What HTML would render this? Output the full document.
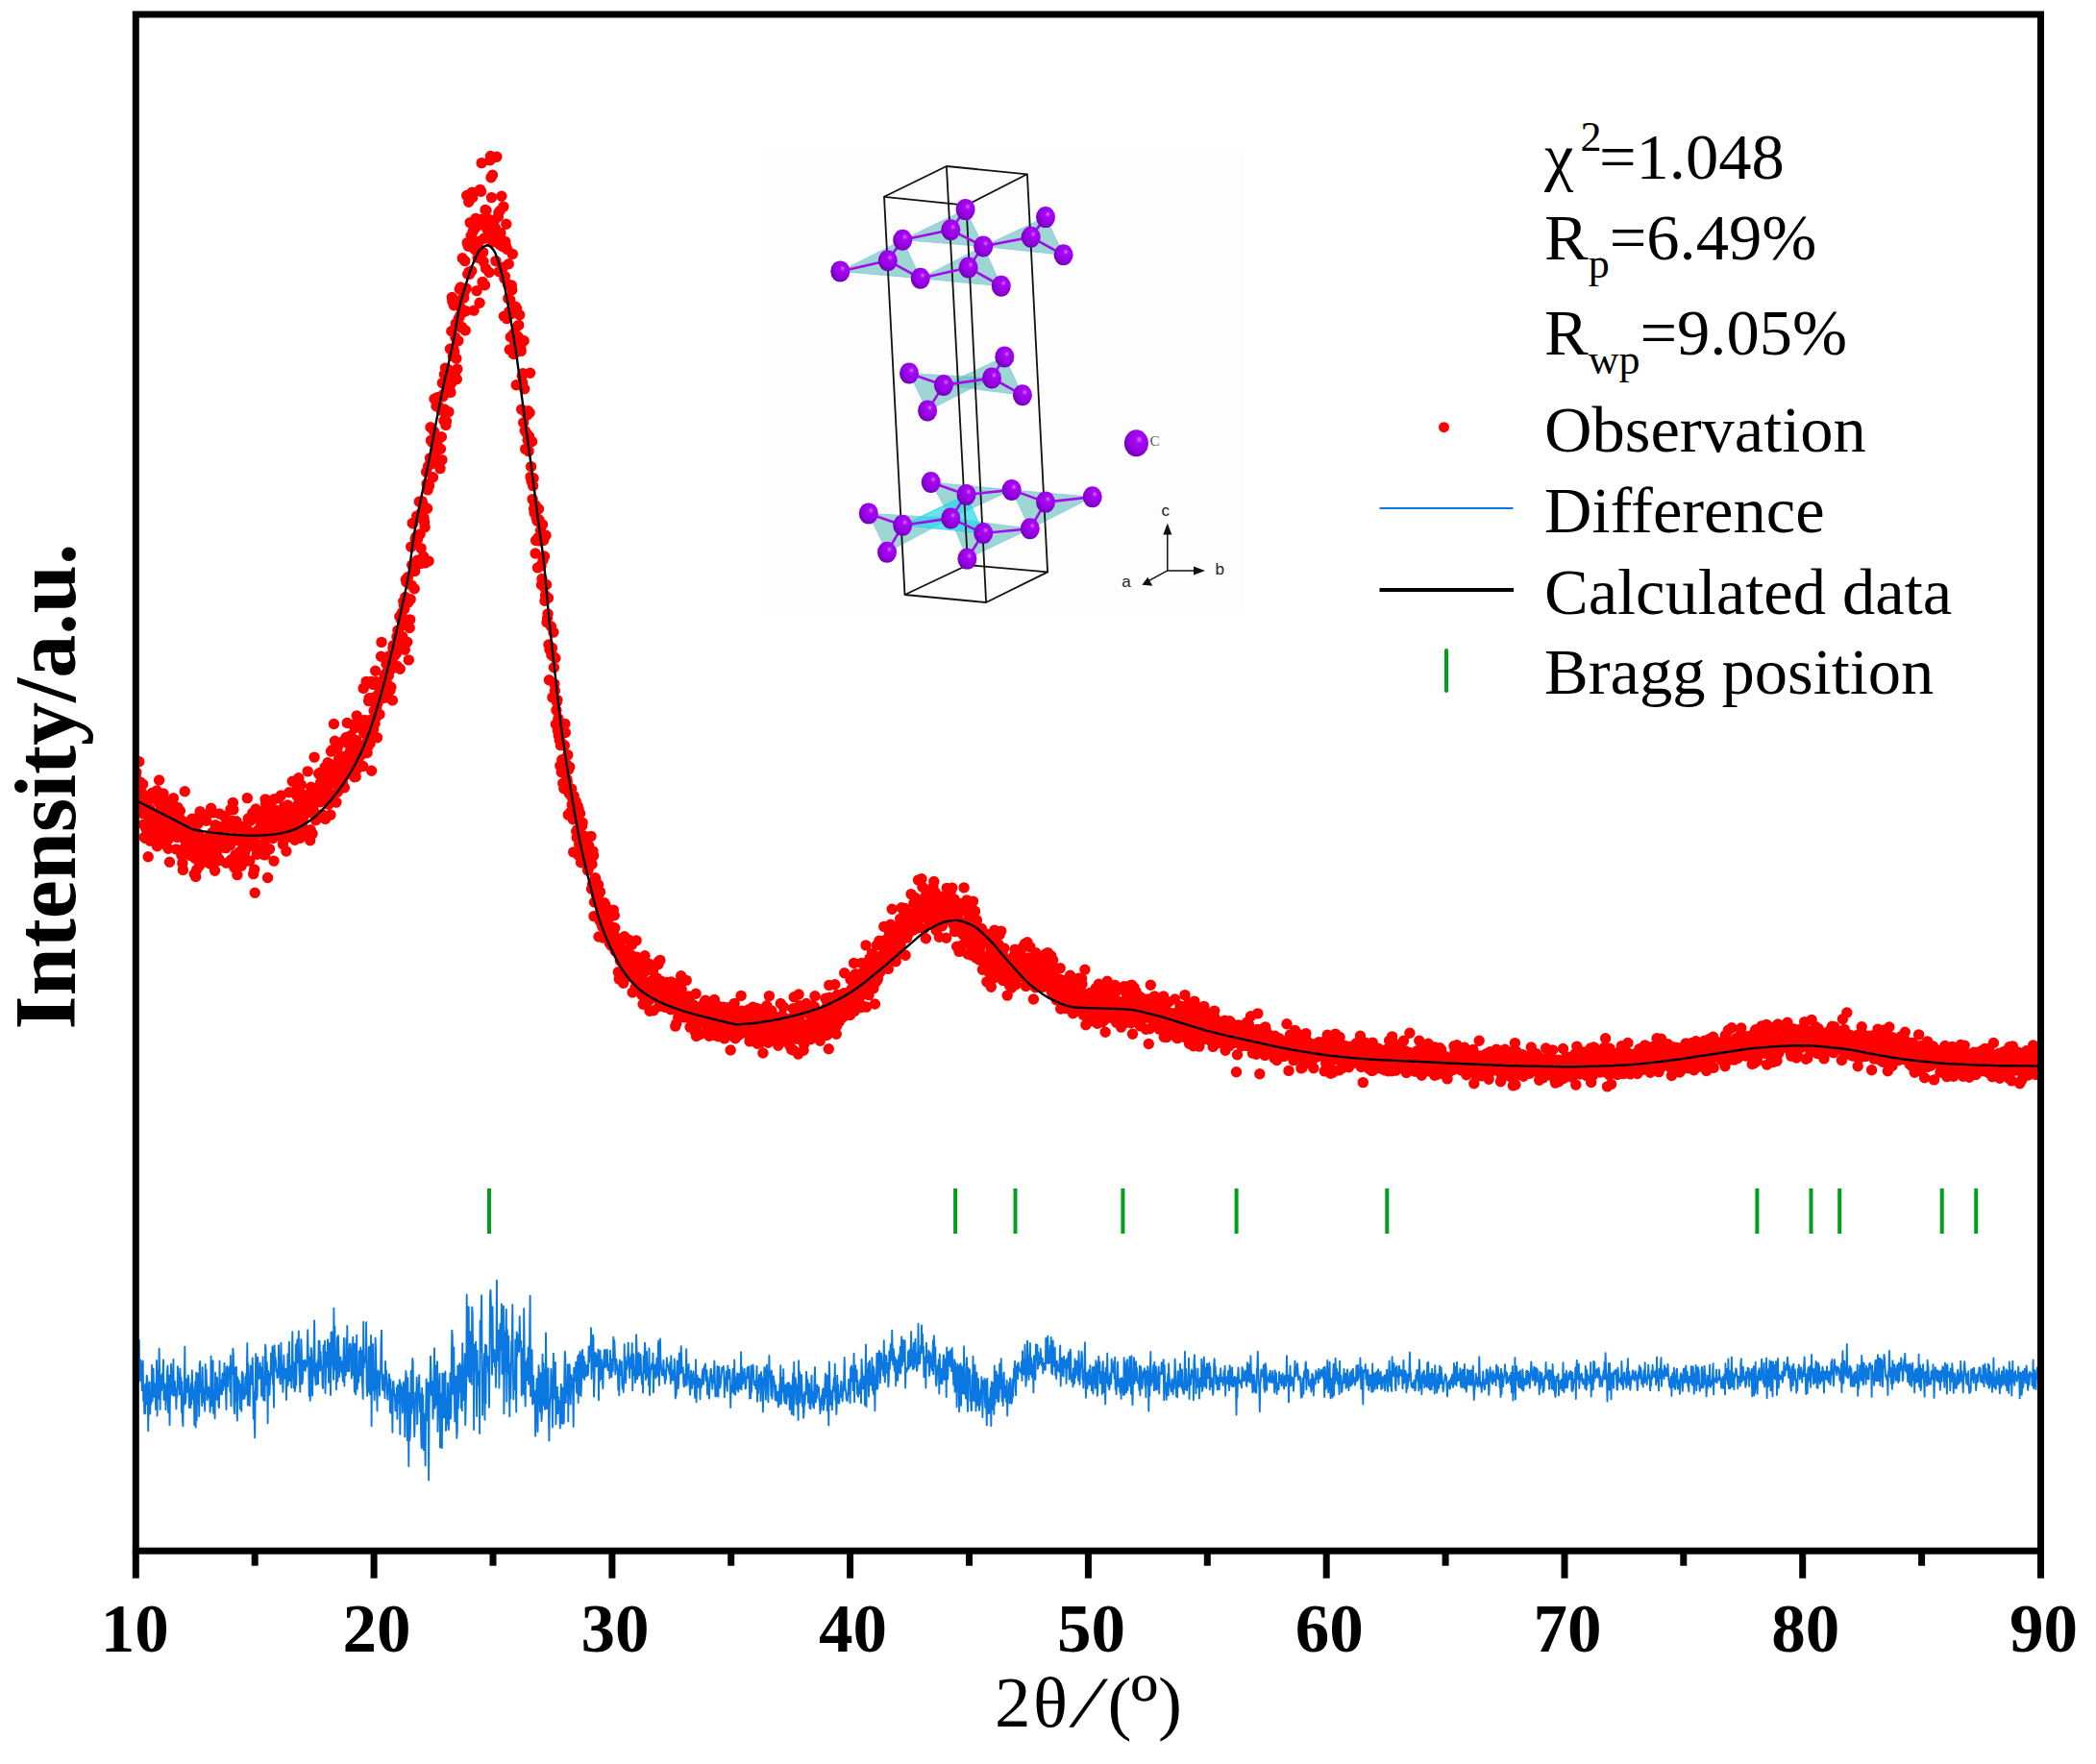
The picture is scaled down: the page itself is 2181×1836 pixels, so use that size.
<!DOCTYPE html>
<html><head><meta charset="utf-8"><title>XRD Rietveld refinement</title>
<style>
html,body{margin:0;padding:0;background:#fff;}
body{width:2181px;height:1836px;overflow:hidden;}
svg{display:block;}
text{font-family:"Liberation Serif",serif;fill:#000;}
.tl text{font-weight:bold;font-size:71px;}
.lg text{font-size:68.5px;}
text.insC{font-size:15px;fill:#555;}
text.insA{font-family:"Liberation Sans",sans-serif;font-size:17px;fill:#222;}
</style></head><body>
<svg width="2181" height="1836" viewBox="0 0 2181 1836">
<defs><clipPath id="pc"><rect x="141.3" y="15.0" width="1982.2" height="1599.2"/></clipPath><radialGradient id="atom" cx="0.62" cy="0.36" r="0.75"><stop offset="0" stop-color="#e070ff"/><stop offset="0.18" stop-color="#a808f4"/><stop offset="0.6" stop-color="#9400e0"/><stop offset="1" stop-color="#5c00a4"/></radialGradient></defs>
<rect width="2181" height="1836" fill="#fff"/>
<g id="inset"><rect x="790" y="155" width="504" height="483" fill="#fdfdfd"/><g fill="#5fbdb8" fill-opacity="0.6" stroke="#7fc8e8" stroke-width="0.8"><polygon points="874.3,282.4 939.2,249.7 957.7,289.7"/><polygon points="939.2,249.7 1004.6,218.1 1023.2,256.4"/><polygon points="957.7,289.7 1023.2,256.4 1041.8,297.7"/><polygon points="1023.2,256.4 1088,226.1 1106.6,265.3"/><polygon points="946,388.5 965.1,427.4 1032,393.5"/><polygon points="981.9,400.9 1045.3,371.4 1063.9,411.2"/><polygon points="968.7,502 1052.7,509.9 989.3,539.4"/><polygon points="1052.7,509.9 1136.7,517.3 1071.8,550.3"/><polygon points="1071.8,550.3 989.3,539.4 1006.4,581.6"/><polygon points="989.3,539.4 903.8,534.4 923,574.8"/></g><g fill="#22d8e8" fill-opacity="0.7" stroke="#30d0f0" stroke-width="0.8"><polygon points="1005.5,514.9 1023.2,555 939.2,546.8"/></g><g stroke="#111" stroke-width="1.8" fill="none" stroke-linejoin="round"><polygon points="920,204.8 984.9,173 1068.9,181.3 1005.5,213.7"/><polygon points="941.5,619 1007,588 1090.1,595.4 1026.1,627"/><line x1="920" y1="204.8" x2="941.5" y2="619"/><line x1="984.9" y1="173" x2="1007" y2="588"/><line x1="1068.9" y1="181.3" x2="1090.1" y2="595.4"/><line x1="1005.5" y1="213.7" x2="1026.1" y2="627"/></g><g stroke="#a408ee" stroke-width="2.6" stroke-linecap="round"><line x1="874.3" y1="282.4" x2="923.8" y2="271.2"/><line x1="923.8" y1="271.2" x2="939.2" y2="249.7"/><line x1="923.8" y1="271.2" x2="957.7" y2="289.7"/><line x1="939.2" y1="249.7" x2="989.3" y2="239.3"/><line x1="989.3" y1="239.3" x2="1004.6" y2="218.1"/><line x1="989.3" y1="239.3" x2="1023.2" y2="256.4"/><line x1="957.7" y1="289.7" x2="1007.6" y2="278.5"/><line x1="1007.6" y1="278.5" x2="1023.2" y2="256.4"/><line x1="1007.6" y1="278.5" x2="1041.8" y2="297.7"/><line x1="1023.2" y1="256.4" x2="1072.7" y2="246.7"/><line x1="1072.7" y1="246.7" x2="1088" y2="226.1"/><line x1="1072.7" y1="246.7" x2="1106.6" y2="265.3"/><line x1="946" y1="388.5" x2="981.9" y2="400.9"/><line x1="981.9" y1="400.9" x2="965.1" y2="427.4"/><line x1="981.9" y1="400.9" x2="1032" y2="393.5"/><line x1="1032" y1="393.5" x2="1045.3" y2="371.4"/><line x1="1032" y1="393.5" x2="1063.9" y2="411.2"/><line x1="968.7" y1="502" x2="1005.5" y2="514.9"/><line x1="1005.5" y1="514.9" x2="1052.7" y2="509.9"/><line x1="1005.5" y1="514.9" x2="989.3" y2="539.4"/><line x1="1052.7" y1="509.9" x2="1088" y2="522.6"/><line x1="1088" y1="522.6" x2="1136.7" y2="517.3"/><line x1="1088" y1="522.6" x2="1071.8" y2="550.3"/><line x1="1071.8" y1="550.3" x2="1023.2" y2="555"/><line x1="1023.2" y1="555" x2="989.3" y2="539.4"/><line x1="1023.2" y1="555" x2="1006.4" y2="581.6"/><line x1="989.3" y1="539.4" x2="939.2" y2="546.8"/><line x1="939.2" y1="546.8" x2="903.8" y2="534.4"/><line x1="939.2" y1="546.8" x2="923" y2="574.8"/></g><g fill="url(#atom)"><ellipse cx="874.3" cy="282.4" rx="10" ry="11"/><ellipse cx="923.8" cy="271.2" rx="10" ry="11"/><ellipse cx="939.2" cy="249.7" rx="10" ry="11"/><ellipse cx="957.7" cy="289.7" rx="10" ry="11"/><ellipse cx="989.3" cy="239.3" rx="10" ry="11"/><ellipse cx="1004.6" cy="218.1" rx="10" ry="11"/><ellipse cx="1023.2" cy="256.4" rx="10" ry="11"/><ellipse cx="1007.6" cy="278.5" rx="10" ry="11"/><ellipse cx="1041.8" cy="297.7" rx="10" ry="11"/><ellipse cx="1072.7" cy="246.7" rx="10" ry="11"/><ellipse cx="1088" cy="226.1" rx="10" ry="11"/><ellipse cx="1106.6" cy="265.3" rx="10" ry="11"/><ellipse cx="946" cy="388.5" rx="10" ry="11"/><ellipse cx="981.9" cy="400.9" rx="10" ry="11"/><ellipse cx="965.1" cy="427.4" rx="10" ry="11"/><ellipse cx="1032" cy="393.5" rx="10" ry="11"/><ellipse cx="1045.3" cy="371.4" rx="10" ry="11"/><ellipse cx="1063.9" cy="411.2" rx="10" ry="11"/><ellipse cx="968.7" cy="502" rx="10" ry="11"/><ellipse cx="1005.5" cy="514.9" rx="10" ry="11"/><ellipse cx="1052.7" cy="509.9" rx="10" ry="11"/><ellipse cx="1088" cy="522.6" rx="10" ry="11"/><ellipse cx="1136.7" cy="517.3" rx="10" ry="11"/><ellipse cx="1071.8" cy="550.3" rx="10" ry="11"/><ellipse cx="1023.2" cy="555" rx="10" ry="11"/><ellipse cx="989.3" cy="539.4" rx="10" ry="11"/><ellipse cx="939.2" cy="546.8" rx="10" ry="11"/><ellipse cx="903.8" cy="534.4" rx="10" ry="11"/><ellipse cx="923" cy="574.8" rx="10" ry="11"/><ellipse cx="1006.4" cy="581.6" rx="10" ry="11"/><ellipse cx="1182.4" cy="461.3" rx="12.5" ry="14"/></g><text x="1201.5" y="464.2" class="insC" text-anchor="middle">C</text><g stroke="#111" stroke-width="1.5" fill="#111"><line x1="1214.8" y1="593.9" x2="1214.8" y2="550.4"/><line x1="1214.8" y1="593.9" x2="1248" y2="593.9"/><line x1="1214.8" y1="593.9" x2="1193.3" y2="605.7"/><polygon stroke="none" points="1214.8,544.4 1210.3,556.4 1219.3,556.4"/><polygon stroke="none" points="1254,593.9 1242,589.4 1242,598.4"/><polygon stroke="none" points="1188.3,608.7 1194.3,600.7 1199.3,609.7"/></g><text x="1212.7" y="536.5" class="insA" text-anchor="middle">c</text><text x="1269.3" y="597.5" class="insA" text-anchor="middle">b</text><text x="1172" y="610.7" class="insA" text-anchor="middle">a</text></g>
<g clip-path="url(#pc)"><path d="M141.3 807.9h0M141.8 803.7h0M142.3 816.9h0M142.8 831h0M143.3 823.9h0M143.8 836.4h0M144.3 816.9h0M144.8 792.7h0M145.3 831h0M145.8 835h0M146.3 814.2h0M146.8 818.2h0M147.2 824.5h0M147.7 846.4h0M148.2 829.5h0M148.7 816.2h0M149.2 858h0M149.7 841.5h0M150.2 871.4h0M150.7 860.3h0M151.2 872.4h0M151.7 841.4h0M152.2 863h0M152.7 833.4h0M153.2 836.7h0M153.7 844.4h0M154.2 891.7h0M154.7 853.2h0M155.2 844.2h0M155.7 841.7h0M156.2 875.1h0M156.7 854.7h0M157.2 865.2h0M157.7 862.3h0M158.1 825.5h0M158.6 862.9h0M159.1 847.9h0M159.6 830h0M160.1 859.5h0M160.6 850.5h0M161.1 846.4h0M161.6 847.6h0M162.1 873.5h0M162.6 848.1h0M163.1 823h0M163.6 880.8h0M164.1 833.6h0M164.6 848.5h0M165.1 863.8h0M165.6 812h0M166.1 836.8h0M166.6 875.8h0M167.1 851h0M167.6 841.4h0M168.1 856.8h0M168.6 839.9h0M169.1 855h0M169.5 840.9h0M170 826h0M170.5 867.9h0M171 850.9h0M171.5 864.3h0M172 853h0M172.5 879.1h0M173 867.5h0M173.5 860.3h0M174 839.1h0M174.5 834.6h0M175 883.2h0M175.5 873.2h0M176 845.3h0M176.5 897.2h0M177 867.5h0M177.5 860.7h0M178 834.5h0M178.5 845.9h0M179 866h0M179.5 867.1h0M180 865.1h0M180.4 830.8h0M180.9 869.1h0M181.4 867h0M181.9 854.5h0M182.4 864h0M182.9 865.8h0M183.4 883.9h0M183.9 862.7h0M184.4 871.4h0M184.9 840.4h0M185.4 850.6h0M185.9 864h0M186.4 850.9h0M186.9 870.7h0M187.4 844h0M187.9 864.8h0M188.4 853.6h0M188.9 890.2h0M189.4 858.8h0M189.9 898.4h0M190.4 905.4h0M190.9 872.2h0M191.4 883.9h0M191.8 863.6h0M192.3 823.8h0M192.8 883.4h0M193.3 879.6h0M193.8 863.9h0M194.3 858.6h0M194.8 871.8h0M195.3 872.6h0M195.8 855.4h0M196.3 859.2h0M196.8 889.3h0M197.3 871.2h0M197.8 869.3h0M198.3 890.4h0M198.8 865.5h0M199.3 887.2h0M199.8 852.3h0M200.3 867.5h0M200.8 869.6h0M201.3 882.7h0M201.8 873.7h0M202.3 909.8h0M202.7 893.3h0M203.2 864.7h0M203.7 912.5h0M204.2 855.6h0M204.7 905.3h0M205.2 857.4h0M205.7 888.1h0M206.2 857.1h0M206.7 869.6h0M207.2 901.5h0M207.7 848.3h0M208.2 844.6h0M208.7 873.5h0M209.2 877.5h0M209.7 875.4h0M210.2 891h0M210.7 851.4h0M211.2 882.8h0M211.7 873.4h0M212.2 887.7h0M212.7 884.5h0M213.2 897h0M213.7 848.6h0M214.1 875.5h0M214.6 854.2h0M215.1 872.4h0M215.6 885.9h0M216.1 878.9h0M216.6 883.4h0M217.1 872.5h0M217.6 879.9h0M218.1 878.4h0M218.6 899h0M219.1 888.1h0M219.6 841.2h0M220.1 885.5h0M220.6 892.8h0M221.1 866.3h0M221.6 845.9h0M222.1 900.4h0M222.6 876.6h0M223.1 884.7h0M223.6 906.2h0M224.1 858.6h0M224.6 873h0M225 871.2h0M225.5 886.9h0M226 863.9h0M226.5 882.8h0M227 875.2h0M227.5 893.6h0M228 895.6h0M228.5 847h0M229 882h0M229.5 866.8h0M230 872.9h0M230.5 880.6h0M231 881.9h0M231.5 860.2h0M232 877.9h0M232.5 875h0M233 871.6h0M233.5 849.6h0M234 859h0M234.5 864.6h0M235 882.6h0M235.5 898.1h0M236 853.7h0M236.4 853.3h0M236.9 874.3h0M237.4 861.3h0M237.9 856.7h0M238.4 855.7h0M238.9 853.9h0M239.4 880h0M239.9 842.5h0M240.4 895h0M240.9 854.9h0M241.4 861.8h0M241.9 854.5h0M242.4 835.4h0M242.9 842.8h0M243.4 892.7h0M243.9 903h0M244.4 855.3h0M244.9 890h0M245.4 870.9h0M245.9 854.7h0M246.4 901.8h0M246.9 910.6h0M247.3 865.5h0M247.8 869.6h0M248.3 875h0M248.8 869.5h0M249.3 886.5h0M249.8 898.9h0M250.3 873.2h0M250.8 888.4h0M251.3 901.1h0M251.8 860.3h0M252.3 871h0M252.8 862h0M253.3 888.4h0M253.8 882.1h0M254.3 888.4h0M254.8 886.2h0M255.3 865.6h0M255.8 884.1h0M256.3 862.4h0M256.8 862.7h0M257.3 830.6h0M257.8 895.4h0M258.2 852h0M258.7 870.5h0M259.2 868.9h0M259.7 896.1h0M260.2 877.2h0M260.7 854.3h0M261.2 869.9h0M261.7 866.7h0M262.2 873.7h0M262.7 846.2h0M263.2 868.4h0M263.7 909.6h0M264.2 880.9h0M264.7 905h0M265.2 929.2h0M265.7 877.5h0M266.2 842h0M266.7 866.3h0M267.2 889.3h0M267.7 884.8h0M268.2 845.4h0M268.7 863.8h0M269.2 865.7h0M269.6 867.5h0M270.1 865.6h0M270.6 850.9h0M271.1 855.6h0M271.6 861.9h0M272.1 885.6h0M272.6 856h0M273.1 878.5h0M273.6 844.6h0M274.1 889.4h0M274.6 867.7h0M275.1 865.1h0M275.6 889.9h0M276.1 831.9h0M276.6 836.8h0M277.1 873.1h0M277.6 849.5h0M278.1 856.8h0M278.6 913.5h0M279.1 858.9h0M279.6 864.7h0M280.1 861.8h0M280.5 883.6h0M281 868.1h0M281.5 866.2h0M282 840.1h0M282.5 856.1h0M283 862.4h0M283.5 833.1h0M284 872.5h0M284.5 869.2h0M285 896.1h0M285.5 831.6h0M286 842.9h0M286.5 843.6h0M287 848.1h0M287.5 858.6h0M288 856.4h0M288.5 865h0M289 863.9h0M289.5 858.8h0M290 830.8h0M290.5 848.8h0M291 860.3h0M291.5 870h0M291.9 870.8h0M292.4 827.9h0M292.9 848.6h0M293.4 856.7h0M293.9 864.3h0M294.4 878.6h0M294.9 858.5h0M295.4 840.3h0M295.9 864.2h0M296.4 860.8h0M296.9 860.4h0M297.4 853.8h0M297.9 886h0M298.4 859.9h0M298.9 871.4h0M299.4 837.9h0M299.9 869.3h0M300.4 843.2h0M300.9 824.8h0M301.4 859.7h0M301.9 864.9h0M302.4 849.4h0M302.8 852.9h0M303.3 871.5h0M303.8 843.4h0M304.3 813.3h0M304.8 856.6h0M305.3 855.2h0M305.8 871h0M306.3 844.5h0M306.8 874.2h0M307.3 871.2h0M307.8 825h0M308.3 866.6h0M308.8 828.1h0M309.3 819.2h0M309.8 843.1h0M310.3 837.1h0M310.8 809.8h0M311.3 850.8h0M311.8 858h0M312.3 872.2h0M312.8 845h0M313.3 816.8h0M313.8 826.4h0M314.2 862.7h0M314.7 860.6h0M315.2 853.4h0M315.7 837.6h0M316.2 846.8h0M316.7 838.2h0M317.2 836.2h0M317.7 847.2h0M318.2 841.8h0M318.7 836.5h0M319.2 841.7h0M319.7 829.9h0M320.2 802.9h0M320.7 827.2h0M321.2 837.2h0M321.7 870.5h0M322.2 829.7h0M322.7 874.7h0M323.2 863.8h0M323.7 819.2h0M324.2 821.6h0M324.7 837.8h0M325.1 867.8h0M325.6 841.1h0M326.1 846.6h0M326.6 820.4h0M327.1 788.1h0M327.6 827.5h0M328.1 846.5h0M328.6 853.6h0M329.1 831.2h0M329.6 833h0M330.1 851.6h0M330.6 826.1h0M331.1 850.4h0M331.6 805.3h0M332.1 805.6h0M332.6 804.5h0M333.1 834.7h0M333.6 814.5h0M334.1 826.6h0M334.6 831h0M335.1 829.4h0M335.6 847.8h0M336.1 850h0M336.5 804.9h0M337 823.8h0M337.5 815h0M338 798.6h0M338.5 852.4h0M339 832.8h0M339.5 813h0M340 807.9h0M340.5 822.6h0M341 793.7h0M341.5 809.4h0M342 837.2h0M342.5 830.8h0M343 795.2h0M343.5 801.4h0M344 848.1h0M344.5 782.1h0M345 796.5h0M345.5 780.7h0M346 814.8h0M346.5 812.3h0M347 828.3h0M347.4 753.5h0M347.9 807.6h0M348.4 771.2h0M348.9 815.7h0M349.4 798.5h0M349.9 835.1h0M350.4 808.1h0M350.9 779.6h0M351.4 824.3h0M351.9 776.2h0M352.4 790.4h0M352.9 817.9h0M353.4 806h0M353.9 804.4h0M354.4 795.3h0M354.9 804.5h0M355.4 809.7h0M355.9 798.2h0M356.4 812.3h0M356.9 817h0M357.4 790.7h0M357.9 770.7h0M358.4 819.8h0M358.8 787.3h0M359.3 800.1h0M359.8 806.1h0M360.3 767.4h0M360.8 795.1h0M361.3 752.4h0M361.8 799.1h0M362.3 774h0M362.8 786.1h0M363.3 796.4h0M363.8 767.6h0M364.3 782.4h0M364.8 765.7h0M365.3 778.6h0M365.8 799.7h0M366.3 778.3h0M366.8 774.3h0M367.3 754.4h0M367.8 793h0M368.3 774h0M368.8 808.8h0M369.3 757.8h0M369.7 793.8h0M370.2 808.4h0M370.7 770.5h0M371.2 745h0M371.7 800.2h0M372.2 790.1h0M372.7 782h0M373.2 789.5h0M373.7 756.4h0M374.2 781h0M374.7 778.3h0M375.2 749.4h0M375.7 777.4h0M376.2 751h0M376.7 780.4h0M377.2 784.8h0M377.7 797.5h0M378.2 716.4h0M378.7 762.9h0M379.2 749.7h0M379.7 754.8h0M380.2 749.7h0M380.7 751.1h0M381.1 709.4h0M381.6 773h0M382.1 783.5h0M382.6 770.5h0M383.1 776.6h0M383.6 729.6h0M384.1 726.8h0M384.6 765.2h0M385.1 773.7h0M385.6 749.5h0M386.1 709.5h0M386.6 802.3h0M387.1 726.4h0M387.6 761.1h0M388.1 712.4h0M388.6 758.8h0M389.1 739.8h0M389.6 766.2h0M390.1 753h0M390.6 698.3h0M391.1 709.8h0M391.6 736.3h0M392 745.7h0M392.5 767.8h0M393 732.2h0M393.5 722.6h0M394 722.4h0M394.5 721.2h0M395 743.5h0M395.5 717.7h0M396 715.6h0M396.5 683.3h0M397 668.4h0M397.5 713.4h0M398 726.6h0M398.5 708.8h0M399 720.1h0M399.5 721.8h0M400 704.3h0M400.5 726.1h0M401 685.7h0M401.5 701.1h0M402 691.3h0M402.5 700.1h0M403 711.7h0M403.4 715.5h0M403.9 697.1h0M404.4 703.2h0M404.9 682.9h0M405.4 687.2h0M405.9 718.5h0M406.4 682.5h0M406.9 715.2h0M407.4 696.2h0M407.9 686.9h0M408.4 728.9h0M408.9 674.6h0M409.4 671.6h0M409.9 677.7h0M410.4 682.8h0M410.9 680.1h0M411.4 693.5h0M411.9 674.6h0M412.4 680.2h0M412.9 662.7h0M413.4 693.5h0M413.9 656.1h0M414.3 656.8h0M414.8 662.4h0M415.3 668.4h0M415.8 641.8h0M416.3 696.2h0M416.8 640.9h0M417.3 644.7h0M417.8 642h0M418.3 637.8h0M418.8 662.5h0M419.3 650.8h0M419.8 626.1h0M420.3 629.6h0M420.8 633.6h0M421.3 676.2h0M421.8 621.5h0M422.3 603.3h0M422.8 605.6h0M423.3 623.7h0M423.8 668.3h0M424.3 600.8h0M424.8 626.9h0M425.3 686.9h0M425.7 607.5h0M426.2 653.5h0M426.7 644.9h0M427.2 623.7h0M427.7 569.1h0M428.2 609.1h0M428.7 588.1h0M429.2 544.5h0M429.7 544.9h0M430.2 587.3h0M430.7 587.9h0M431.2 612.7h0M431.7 594.4h0M432.2 561h0M432.7 559h0M433.2 564.1h0M433.7 537.1h0M434.2 583.2h0M434.7 560.9h0M435.2 536.6h0M435.7 538.2h0M436.2 522.2h0M436.6 538.5h0M437.1 555.9h0M437.6 534.8h0M438.1 570.6h0M438.6 586.3h0M439.1 521.6h0M439.6 537.2h0M440.1 524.7h0M440.6 579h0M441.1 539.1h0M441.6 543.4h0M442.1 548.7h0M442.6 585.9h0M443.1 528.9h0M443.6 491.3h0M444.1 503.6h0M444.6 529.3h0M445.1 509.9h0M445.6 485.2h0M446.1 584h0M446.6 505.4h0M447.1 483.5h0M447.5 476.9h0M448 444.7h0M448.5 458.4h0M449 479.7h0M449.5 477.4h0M450 460.5h0M450.5 496.7h0M451 479.5h0M451.5 449h0M452 415.3h0M452.5 475.1h0M453 469.2h0M453.5 459.3h0M454 422.7h0M454.5 460.9h0M455 413.6h0M455.5 483.6h0M456 457.8h0M456.5 455.6h0M457 423.6h0M457.5 413.2h0M458 487.6h0M458.5 467.3h0M458.9 427.1h0M459.4 454.7h0M459.9 478.6h0M460.4 398.6h0M460.9 412.8h0M461.4 410.5h0M461.9 437.8h0M462.4 389.6h0M462.9 426.2h0M463.4 383.1h0M463.9 442.4h0M464.4 438.5h0M464.9 403.7h0M465.4 429.3h0M465.9 384.4h0M466.4 394.6h0M466.9 428.6h0M467.4 395.1h0M467.9 405.4h0M468.4 363.2h0M468.9 408.4h0M469.4 399.3h0M469.8 344.8h0M470.3 309.5h0M470.8 313.6h0M471.3 370.8h0M471.8 362.5h0M472.3 317.7h0M472.8 366.3h0M473.3 389.5h0M473.8 351.3h0M474.3 336.7h0M474.8 373.1h0M475.3 394.8h0M475.8 384.1h0M476.3 313.1h0M476.8 354.6h0M477.3 331.5h0M477.8 317h0M478.3 300.9h0M478.8 328.6h0M479.3 299h0M479.8 341h0M480.3 321.5h0M480.8 340.5h0M481.2 268.7h0M481.7 303.8h0M482.2 324.7h0M482.7 310h0M483.2 303.6h0M483.7 271.6h0M484.2 343.9h0M484.7 323.7h0M485.2 300.2h0M485.7 203.5h0M486.2 252.6h0M486.7 285.2h0M487.2 256.2h0M487.7 210.2h0M488.2 282.9h0M488.7 285.2h0M489.2 231.6h0M489.7 253h0M490.2 245.3h0M490.7 282h0M491.2 200.3h0M491.7 205.5h0M492.1 241.2h0M492.6 235.6h0M493.1 323.1h0M493.6 233.8h0M494.1 259.6h0M494.6 237.2h0M495.1 227.4h0M495.6 259.6h0M496.1 302.6h0M496.6 233.1h0M497.1 268.3h0M497.6 253.3h0M498.1 261.1h0M498.6 251.2h0M499.1 315.3h0M499.6 197.4h0M500.1 228.4h0M500.6 199.2h0M501.1 169.6h0M501.6 233.7h0M502.1 293.4h0M502.6 262.6h0M503.1 272.3h0M503.5 248.2h0M504 228.3h0M504.5 296.8h0M505 218.4h0M505.5 279.5h0M506 219h0M506.5 232.1h0M507 238.6h0M507.5 230.3h0M508 245.6h0M508.5 248h0M509 283.5h0M509.5 228.8h0M510 166.7h0M510.5 162.5h0M511 184.7h0M511.5 205.6h0M512 251.9h0M512.5 182.2h0M513 232.4h0M513.5 233.4h0M514 241.4h0M514.4 229.5h0M514.9 247.9h0M515.4 237.3h0M515.9 271.6h0M516.4 249.4h0M516.9 163.2h0M517.4 242.2h0M517.9 249.3h0M518.4 225.5h0M518.9 221.3h0M519.4 282.7h0M519.9 254.5h0M520.4 219.3h0M520.9 242.4h0M521.4 249.1h0M521.9 204.3h0M522.4 279.3h0M522.9 256.5h0M523.4 278.3h0M523.9 215.1h0M524.4 329.3h0M524.9 289.9h0M525.4 287.6h0M525.8 251.5h0M526.3 255.9h0M526.8 233.2h0M527.3 331.6h0M527.8 259.5h0M528.3 295.9h0M528.8 310.6h0M529.3 274.8h0M529.8 324.3h0M530.3 363.9h0M530.8 312.2h0M531.3 350.8h0M531.8 326.6h0M532.3 297h0M532.8 301.7h0M533.3 264.4h0M533.8 323.7h0M534.3 368.5h0M534.8 347h0M535.3 355.2h0M535.8 367.6h0M536.3 319.1h0M536.7 356.1h0M537.2 400.8h0M537.7 321.3h0M538.2 349.9h0M538.7 339.2h0M539.2 350.7h0M539.7 338.4h0M540.2 360.5h0M540.7 327.8h0M541.2 356.6h0M541.7 361.7h0M542.2 365.4h0M542.7 426.1h0M543.2 391.2h0M543.7 398.4h0M544.2 388.7h0M544.7 439.9h0M545.2 354.8h0M545.7 404.8h0M546.2 448.3h0M546.7 467.4h0M547.2 429.5h0M547.7 428.3h0M548.1 451.3h0M548.6 432h0M549.1 458h0M549.6 427.7h0M550.1 469.6h0M550.6 454.3h0M551.1 429.5h0M551.6 388.3h0M552.1 496.4h0M552.6 485.6h0M553.1 501.1h0M553.6 459.5h0M554.1 519.6h0M554.6 505.6h0M555.1 497.7h0M555.6 529.6h0M556.1 534h0M556.6 525.4h0M557.1 576h0M557.6 562.5h0M558.1 538.7h0M558.6 528.1h0M559 542.3h0M559.5 590.9h0M560 559.6h0M560.5 529.7h0M561 541h0M561.5 562.9h0M562 589.3h0M562.5 552.3h0M563 589h0M563.5 608.7h0M564 602.5h0M564.5 545.9h0M565 583h0M565.5 562.5h0M566 611h0M566.5 579h0M567 625.4h0M567.5 619.8h0M568 557.3h0M568.5 608.5h0M569 647.7h0M569.5 643.3h0M570 638.9h0M570.4 622.4h0M570.9 671h0M571.4 707.8h0M571.9 676.3h0M572.4 674.1h0M572.9 676.8h0M573.4 652h0M573.9 681.7h0M574.4 674.4h0M574.9 725.9h0M575.4 682.9h0M575.9 658.1h0M576.4 694.8h0M576.9 711.9h0M577.4 719h0M577.9 685h0M578.4 753.9h0M578.9 739.3h0M579.4 730.6h0M579.9 728.6h0M580.4 760.5h0M580.9 747.8h0M581.3 765.5h0M581.8 760.6h0M582.3 770.4h0M582.8 797.1h0M583.3 775.6h0M583.8 759.2h0M584.3 803.7h0M584.8 790.8h0M585.3 774.1h0M585.8 815.2h0M586.3 790.8h0M586.8 820.7h0M587.3 775.9h0M587.8 753.4h0M588.3 762.5h0M588.8 813.1h0M589.3 795.2h0M589.8 810.8h0M590.3 813.7h0M590.8 785.7h0M591.3 848.1h0M591.8 800.8h0M592.3 826h0M592.7 798.2h0M593.2 825.6h0M593.7 845.4h0M594.2 828.2h0M594.7 821.1h0M595.2 837.4h0M595.7 830.5h0M596.2 852.8h0M596.7 886.9h0M597.2 828.6h0M597.7 834.7h0M598.2 847.6h0M598.7 851.1h0M599.2 834.2h0M599.7 865.2h0M600.2 871.8h0M600.7 863.6h0M601.2 839.1h0M601.7 890h0M602.2 842.7h0M602.7 879.1h0M603.2 889.4h0M603.6 846.7h0M604.1 873.7h0M604.6 897.7h0M605.1 881.7h0M605.6 859.5h0M606.1 856.3h0M606.6 887.6h0M607.1 873.9h0M607.6 869.9h0M608.1 896.1h0M608.6 879.6h0M609.1 888.2h0M609.6 898.8h0M610.1 899.6h0M610.6 891.3h0M611.1 893.7h0M611.6 905.9h0M612.1 905.2h0M612.6 880.1h0M613.1 897.6h0M613.6 887.9h0M614.1 884.5h0M614.6 897.1h0M615 870.4h0M615.5 925.2h0M616 899.5h0M616.5 920.5h0M617 885.9h0M617.5 890.6h0M618 953.6h0M618.5 939h0M619 913.9h0M619.5 913.7h0M620 916.5h0M620.5 931.5h0M621 924.8h0M621.5 923.3h0M622 936.9h0M622.5 920.7h0M623 975h0M623.5 930.3h0M624 958.3h0M624.5 928.2h0M625 948.4h0M625.5 960.2h0M625.9 941.7h0M626.4 963.2h0M626.9 964.5h0M627.4 976h0M627.9 953.4h0M628.4 946.6h0M628.9 939.8h0M629.4 958.9h0M629.9 941.9h0M630.4 958.9h0M630.9 961.8h0M631.4 952.8h0M631.9 946.7h0M632.4 968.9h0M632.9 968.6h0M633.4 968.4h0M633.9 965.9h0M634.4 981.6h0M634.9 954h0M635.4 976.2h0M635.9 964.5h0M636.4 984.5h0M636.9 968.2h0M637.3 968.7h0M637.8 981.6h0M638.3 947.1h0M638.8 972.1h0M639.3 952.8h0M639.8 965.7h0M640.3 990h0M640.8 986.9h0M641.3 976.2h0M641.8 982.5h0M642.3 983.6h0M642.8 989.2h0M643.3 1011.7h0M643.8 990.2h0M644.3 1019.1h0M644.8 983.6h0M645.3 999.8h0M645.8 1000.4h0M646.3 994.3h0M646.8 988.3h0M647.3 1012.7h0M647.8 1017.8h0M648.2 1009.1h0M648.7 1023.2h0M649.2 1009.1h0M649.7 974.8h0M650.2 1011.6h0M650.7 989h0M651.2 1017.1h0M651.7 995h0M652.2 1004h0M652.7 1001.1h0M653.2 993.3h0M653.7 977.9h0M654.2 999.5h0M654.7 1001.1h0M655.2 1016.3h0M655.7 996.1h0M656.2 1007.7h0M656.7 994h0M657.2 1006.2h0M657.7 983.1h0M658.2 1032.9h0M658.7 1011.1h0M659.1 996.1h0M659.6 1012.8h0M660.1 1019.1h0M660.6 1012.7h0M661.1 1027.8h0M661.6 1008.7h0M662.1 978.9h0M662.6 996.3h0M663.1 1026h0M663.6 1023.4h0M664.1 1017.8h0M664.6 1000h0M665.1 1024h0M665.6 1022.8h0M666.1 1002.9h0M666.6 1003.6h0M667.1 1020h0M667.6 1029.9h0M668.1 1035.8h0M668.6 1025.3h0M669.1 1045.2h0M669.6 1007.7h0M670.1 1025.6h0M670.5 1011.9h0M671 994.7h0M671.5 1003.9h0M672 1033.7h0M672.5 1008.5h0M673 1005.3h0M673.5 1029.7h0M674 1032.7h0M674.5 1022.4h0M675 1041.5h0M675.5 1003.3h0M676 1052.3h0M676.5 1036.4h0M677 1026.3h0M677.5 1026.1h0M678 1021.6h0M678.5 1020.6h0M679 1027.1h0M679.5 1010.6h0M680 1051.7h0M680.5 1025.5h0M681 1034.7h0M681.4 1024.6h0M681.9 1023.9h0M682.4 1038.2h0M682.9 1035.2h0M683.4 1017.9h0M683.9 1023.7h0M684.4 1036.8h0M684.9 1003.7h0M685.4 1000.7h0M685.9 1047.4h0M686.4 1026.1h0M686.9 999.4h0M687.4 1020.9h0M687.9 1028.2h0M688.4 1033.8h0M688.9 1038.2h0M689.4 1034.5h0M689.9 1039h0M690.4 1023.6h0M690.9 1037.8h0M691.4 1038.7h0M691.9 1048.2h0M692.4 1034.6h0M692.8 1045.2h0M693.3 1036.9h0M693.8 1022.4h0M694.3 1030.9h0M694.8 1029.6h0M695.3 1031.7h0M695.8 1035.7h0M696.3 1038.2h0M696.8 1040.7h0M697.3 1028.2h0M697.8 1050.7h0M698.3 1021.9h0M698.8 1038h0M699.3 1047.7h0M699.8 1044.9h0M700.3 1047.5h0M700.8 1037.8h0M701.3 1048.6h0M701.8 1026.7h0M702.3 1050h0M702.8 1068.1h0M703.3 1050h0M703.7 1065.5h0M704.2 1042.4h0M704.7 1029.6h0M705.2 1034.9h0M705.7 1058.7h0M706.2 1052.2h0M706.7 1022.4h0M707.2 1040h0M707.7 1044h0M708.2 1031.9h0M708.7 1015.7h0M709.2 1029.7h0M709.7 1043.6h0M710.2 1041.4h0M710.7 1038.6h0M711.2 1053.4h0M711.7 1058.9h0M712.2 1046.1h0M712.7 1058.1h0M713.2 1048h0M713.7 1046.4h0M714.2 1020.4h0M714.7 1058.1h0M715.1 1049.8h0M715.6 1050.6h0M716.1 1043.8h0M716.6 1037h0M717.1 1055.2h0M717.6 1059.3h0M718.1 1069.1h0M718.6 1061h0M719.1 1044.2h0M719.6 1050.2h0M720.1 1062.8h0M720.6 1055.6h0M721.1 1051.1h0M721.6 1045.9h0M722.1 1058.9h0M722.6 1055.1h0M723.1 1073.5h0M723.6 1066h0M724.1 1034.2h0M724.6 1078.5h0M725.1 1057.3h0M725.6 1051h0M726 1058.1h0M726.5 1063.4h0M727 1054.9h0M727.5 1054.5h0M728 1055.6h0M728.5 1076.5h0M729 1056.8h0M729.5 1065.1h0M730 1061.8h0M730.5 1053h0M731 1048.5h0M731.5 1045.7h0M732 1061.9h0M732.5 1045.8h0M733 1043.2h0M733.5 1043.8h0M734 1041.1h0M734.5 1058.8h0M735 1059.3h0M735.5 1048.1h0M736 1073.3h0M736.5 1055.5h0M737 1064.1h0M737.4 1062.5h0M737.9 1078.3h0M738.4 1068.8h0M738.9 1059h0M739.4 1048.9h0M739.9 1047.9h0M740.4 1060.3h0M740.9 1061.7h0M741.4 1069.1h0M741.9 1055.3h0M742.4 1062.8h0M742.9 1053.3h0M743.4 1040.5h0M743.9 1060.9h0M744.4 1077.6h0M744.9 1070.6h0M745.4 1077.5h0M745.9 1074.7h0M746.4 1046.6h0M746.9 1059h0M747.4 1078.8h0M747.9 1054.5h0M748.3 1047.8h0M748.8 1066.2h0M749.3 1069.9h0M749.8 1066.3h0M750.3 1059.5h0M750.8 1055.6h0M751.3 1049.7h0M751.8 1049.5h0M752.3 1050h0M752.8 1048.2h0M753.3 1056.2h0M753.8 1080.9h0M754.3 1065.4h0M754.8 1060.5h0M755.3 1068.5h0M755.8 1054.2h0M756.3 1068.5h0M756.8 1075h0M757.3 1048.7h0M757.8 1057.5h0M758.3 1062.7h0M758.8 1054.9h0M759.3 1053.6h0M759.7 1061.7h0M760.2 1093h0M760.7 1073.3h0M761.2 1071h0M761.7 1077h0M762.2 1064.1h0M762.7 1053.2h0M763.2 1071.9h0M763.7 1079.2h0M764.2 1044.4h0M764.7 1072h0M765.2 1080.7h0M765.7 1064.6h0M766.2 1062.7h0M766.7 1075.3h0M767.2 1058.8h0M767.7 1072.9h0M768.2 1077.8h0M768.7 1065.6h0M769.2 1059.1h0M769.7 1074.6h0M770.2 1063.9h0M770.6 1068.6h0M771.1 1036.4h0M771.6 1075.4h0M772.1 1052.3h0M772.6 1068.2h0M773.1 1069h0M773.6 1059.6h0M774.1 1057.7h0M774.6 1053.5h0M775.1 1063.9h0M775.6 1074.2h0M776.1 1073.5h0M776.6 1061.9h0M777.1 1061.1h0M777.6 1052h0M778.1 1062.9h0M778.6 1055.7h0M779.1 1050.7h0M779.6 1065.6h0M780.1 1083.9h0M780.6 1080.5h0M781.1 1083.4h0M781.6 1049.8h0M782 1076.8h0M782.5 1053.7h0M783 1060.9h0M783.5 1048.3h0M784 1056.2h0M784.5 1068.5h0M785 1069.6h0M785.5 1066.4h0M786 1065.4h0M786.5 1073.2h0M787 1067.7h0M787.5 1049.4h0M788 1086.2h0M788.5 1064.4h0M789 1077.4h0M789.5 1065.1h0M790 1057.8h0M790.5 1067.8h0M791 1058.6h0M791.5 1084.9h0M792 1054.8h0M792.5 1073.9h0M792.9 1060.2h0M793.4 1065.1h0M793.9 1096h0M794.4 1075.6h0M794.9 1064.6h0M795.4 1049.7h0M795.9 1063.9h0M796.4 1064.2h0M796.9 1082.9h0M797.4 1051h0M797.9 1046.8h0M798.4 1066.7h0M798.9 1069.5h0M799.4 1085.2h0M799.9 1057.1h0M800.4 1036.6h0M800.9 1058.9h0M801.4 1052.8h0M801.9 1060.9h0M802.4 1078.1h0M802.9 1052h0M803.4 1080.9h0M803.9 1069.4h0M804.3 1063.9h0M804.8 1057.1h0M805.3 1062.4h0M805.8 1062.7h0M806.3 1075.7h0M806.8 1081.7h0M807.3 1066.4h0M807.8 1075.2h0M808.3 1081.9h0M808.8 1081.5h0M809.3 1072.7h0M809.8 1088.2h0M810.3 1082.5h0M810.8 1085.8h0M811.3 1065.2h0M811.8 1062.7h0M812.3 1044.5h0M812.8 1084.4h0M813.3 1075.1h0M813.8 1057h0M814.3 1069.9h0M814.8 1071.2h0M815.2 1048h0M815.7 1071.4h0M816.2 1080.7h0M816.7 1082.6h0M817.2 1063.7h0M817.7 1064.1h0M818.2 1083.3h0M818.7 1078.9h0M819.2 1061.6h0M819.7 1061.1h0M820.2 1075.1h0M820.7 1060.6h0M821.2 1061.2h0M821.7 1088.2h0M822.2 1071.4h0M822.7 1063h0M823.2 1074.4h0M823.7 1092.4h0M824.2 1071.1h0M824.7 1059.2h0M825.2 1049.7h0M825.7 1093.1h0M826.2 1037.8h0M826.6 1080.9h0M827.1 1056.9h0M827.6 1053.7h0M828.1 1056.6h0M828.6 1066.2h0M829.1 1081.3h0M829.6 1060.6h0M830.1 1076.2h0M830.6 1097.1h0M831.1 1035h0M831.6 1059.6h0M832.1 1046.7h0M832.6 1078.4h0M833.1 1050.7h0M833.6 1049.2h0M834.1 1049.6h0M834.6 1067.9h0M835.1 1081.6h0M835.6 1069.6h0M836.1 1093.2h0M836.6 1087.3h0M837.1 1066.3h0M837.5 1078.9h0M838 1069.2h0M838.5 1068.4h0M839 1044.5h0M839.5 1051.8h0M840 1067.4h0M840.5 1052.6h0M841 1075.9h0M841.5 1070.6h0M842 1055.8h0M842.5 1081h0M843 1069.6h0M843.5 1081.7h0M844 1064.6h0M844.5 1046.6h0M845 1074.6h0M845.5 1062.9h0M846 1076.1h0M846.5 1078.9h0M847 1079.8h0M847.5 1047.7h0M848 1036.8h0M848.4 1058.9h0M848.9 1072.9h0M849.4 1055.9h0M849.9 1068h0M850.4 1054.3h0M850.9 1060.2h0M851.4 1060.1h0M851.9 1056h0M852.4 1070h0M852.9 1067.7h0M853.4 1083.2h0M853.9 1067.7h0M854.4 1079.2h0M854.9 1063.7h0M855.4 1073.2h0M855.9 1060.3h0M856.4 1055.8h0M856.9 1078.1h0M857.4 1070.5h0M857.9 1071.8h0M858.4 1051.2h0M858.9 1039.3h0M859.4 1049.4h0M859.8 1063.6h0M860.3 1041.4h0M860.8 1077.2h0M861.3 1040.4h0M861.8 1066.2h0M862.3 1091.7h0M862.8 1025.4h0M863.3 1038.1h0M863.8 1069.6h0M864.3 1054.7h0M864.8 1059h0M865.3 1054.8h0M865.8 1073.9h0M866.3 1063.8h0M866.8 1049.4h0M867.3 1052h0M867.8 1039.7h0M868.3 1053.1h0M868.8 1024.8h0M869.3 1062.2h0M869.8 1049.8h0M870.3 1076.3h0M870.7 1067.8h0M871.2 1035.5h0M871.7 1063.2h0M872.2 1044.6h0M872.7 1051.6h0M873.2 1063.4h0M873.7 1054.4h0M874.2 1056.1h0M874.7 1055.3h0M875.2 1039.5h0M875.7 1040.4h0M876.2 1055.3h0M876.7 1059h0M877.2 1043.8h0M877.7 1048.1h0M878.2 1033.6h0M878.7 1012.7h0M879.2 1035.1h0M879.7 1045.7h0M880.2 1047h0M880.7 1055.2h0M881.2 1055.4h0M881.7 1056.2h0M882.1 1048.1h0M882.6 1048.1h0M883.1 1032.8h0M883.6 1046.9h0M884.1 1043.9h0M884.6 1056.4h0M885.1 1019.5h0M885.6 1033.6h0M886.1 1016.7h0M886.6 1028.9h0M887.1 1019.6h0M887.6 1041.3h0M888.1 1028.5h0M888.6 1002.4h0M889.1 1052.4h0M889.6 1021.1h0M890.1 1013.8h0M890.6 1029.8h0M891.1 1024.8h0M891.6 1017.6h0M892.1 1042.4h0M892.6 1027.8h0M893 1044.2h0M893.5 1041.1h0M894 1039.9h0M894.5 1033h0M895 1028.6h0M895.5 1024h0M896 1048.5h0M896.5 1002.4h0M897 1012.9h0M897.5 1018.1h0M898 1032.2h0M898.5 1027.9h0M899 1018.7h0M899.5 1020h0M900 1047.7h0M900.5 1014.2h0M901 983.9h0M901.5 1048.1h0M902 1008.6h0M902.5 1016.5h0M903 1022.3h0M903.5 1001.3h0M904 1035.6h0M904.4 1016.3h0M904.9 997.6h0M905.4 1019.7h0M905.9 1022h0M906.4 1013.9h0M906.9 1020.8h0M907.4 992.4h0M907.9 1025.6h0M908.4 1000h0M908.9 1028.8h0M909.4 1001.2h0M909.9 1011.1h0M910.4 1045h0M910.9 1008.1h0M911.4 1022.1h0M911.9 1012.5h0M912.4 983.7h0M912.9 1020.3h0M913.4 1018.6h0M913.9 982.4h0M914.4 1000.3h0M914.9 979.2h0M915.3 995.5h0M915.8 1011.8h0M916.3 999.3h0M916.8 979.9h0M917.3 983.1h0M917.8 995.7h0M918.3 994.1h0M918.8 995.5h0M919.3 1001.3h0M919.8 964.4h0M920.3 991.1h0M920.8 1006.6h0M921.3 996.3h0M921.8 978.1h0M922.3 978.4h0M922.8 988.8h0M923.3 995.6h0M923.8 984.7h0M924.3 1008.5h0M924.8 1002.2h0M925.3 970.8h0M925.8 988.6h0M926.3 975.3h0M926.7 962.2h0M927.2 969.7h0M927.7 978.1h0M928.2 946.3h0M928.7 967h0M929.2 981.2h0M929.7 964.4h0M930.2 968.5h0M930.7 986.4h0M931.2 971.9h0M931.7 974.7h0M932.2 1000.7h0M932.7 973.4h0M933.2 974.4h0M933.7 976.1h0M934.2 993.4h0M934.7 973.6h0M935.2 968.2h0M935.7 965.5h0M936.2 983.5h0M936.7 956.4h0M937.2 983.6h0M937.6 968.2h0M938.1 944.7h0M938.6 974.3h0M939.1 971.1h0M939.6 946.8h0M940.1 968.3h0M940.6 966.6h0M941.1 958.4h0M941.6 945.4h0M942.1 994.3h0M942.6 973h0M943.1 975.4h0M943.6 976.1h0M944.1 972.2h0M944.6 971.6h0M945.1 953.8h0M945.6 971.5h0M946.1 955.6h0M946.6 950.9h0M947.1 967.8h0M947.6 954.2h0M948.1 930.6h0M948.6 950.3h0M949 964.6h0M949.5 955.4h0M950 968.1h0M950.5 949.3h0M951 939.8h0M951.5 965.3h0M952 955.4h0M952.5 934.5h0M953 959h0M953.5 948h0M954 966.3h0M954.5 962.7h0M955 957.6h0M955.5 916h0M956 955h0M956.5 956.4h0M957 956.5h0M957.5 950.1h0M958 937.1h0M958.5 943.8h0M959 914.8h0M959.5 942.7h0M959.9 923.3h0M960.4 941h0M960.9 935.5h0M961.4 966.8h0M961.9 946.2h0M962.4 945h0M962.9 947.4h0M963.4 976.7h0M963.9 929.6h0M964.4 949h0M964.9 949.6h0M965.4 946.6h0M965.9 946h0M966.4 936h0M966.9 962h0M967.4 956.5h0M967.9 937.4h0M968.4 939.6h0M968.9 947.6h0M969.4 950.6h0M969.9 954.6h0M970.4 942.4h0M970.9 923h0M971.3 958h0M971.8 917.5h0M972.3 928.1h0M972.8 948.4h0M973.3 929h0M973.8 964.3h0M974.3 968.5h0M974.8 961.6h0M975.3 947.8h0M975.8 946.5h0M976.3 949.6h0M976.8 940h0M977.3 975.3h0M977.8 933.9h0M978.3 964.2h0M978.8 952.3h0M979.3 948.5h0M979.8 960.4h0M980.3 963.9h0M980.8 958.3h0M981.3 942.7h0M981.8 933.3h0M982.2 933.9h0M982.7 958.8h0M983.2 955.8h0M983.7 958h0M984.2 936.5h0M984.7 976.2h0M985.2 924.4h0M985.7 952h0M986.2 957h0M986.7 939.4h0M987.2 928.7h0M987.7 939.9h0M988.2 928.9h0M988.7 943.7h0M989.2 926.6h0M989.7 926.6h0M990.2 948.3h0M990.7 924.1h0M991.2 944.6h0M991.7 946.1h0M992.2 962.4h0M992.7 952.7h0M993.2 936h0M993.6 969.6h0M994.1 938.7h0M994.6 943.8h0M995.1 945.3h0M995.6 985.2h0M996.1 952.2h0M996.6 940.7h0M997.1 963.7h0M997.6 950.7h0M998.1 990.4h0M998.6 942.6h0M999.1 964.4h0M999.6 940.7h0M1000.1 984.4h0M1000.6 944.8h0M1001.1 960.3h0M1001.6 944.4h0M1002.1 972.7h0M1002.6 968.5h0M1003.1 923.9h0M1003.6 973.4h0M1004.1 972.2h0M1004.5 966.2h0M1005 978.7h0M1005.5 944.5h0M1006 936.9h0M1006.5 976.1h0M1007 993h0M1007.5 948h0M1008 949.8h0M1008.5 955.1h0M1009 950.6h0M1009.5 983.2h0M1010 973h0M1010.5 992.8h0M1011 994.1h0M1011.5 957.1h0M1012 983.7h0M1012.5 938.1h0M1013 973.4h0M1013.5 985.3h0M1014 963.4h0M1014.5 948.4h0M1015 969.6h0M1015.5 996.9h0M1015.9 972.7h0M1016.4 957.7h0M1016.9 987.4h0M1017.4 992.4h0M1017.9 965.1h0M1018.4 979.2h0M1018.9 999h0M1019.4 988.3h0M1019.9 994.6h0M1020.4 978.7h0M1020.9 982.1h0M1021.4 966.5h0M1021.9 973.7h0M1022.4 1009.2h0M1022.9 979.3h0M1023.4 972.2h0M1023.9 979.4h0M1024.4 971.1h0M1024.9 995.7h0M1025.4 1002.3h0M1025.9 974h0M1026.4 1004.8h0M1026.8 1021.9h0M1027.3 973.8h0M1027.8 1000.8h0M1028.3 994.8h0M1028.8 1011.8h0M1029.3 1011h0M1029.8 1008.8h0M1030.3 997.2h0M1030.8 986.6h0M1031.3 1027.2h0M1031.8 981.7h0M1032.3 1011.2h0M1032.8 1009.8h0M1033.3 984.1h0M1033.8 995.8h0M1034.3 1018h0M1034.8 968.1h0M1035.3 1008.8h0M1035.8 992.8h0M1036.3 993.9h0M1036.8 976.4h0M1037.3 1004.5h0M1037.7 983.3h0M1038.2 1009.6h0M1038.7 982.6h0M1039.2 1010.7h0M1039.7 1005.3h0M1040.2 972.7h0M1040.7 996.2h0M1041.2 999.7h0M1041.7 969.1h0M1042.2 996.9h0M1042.7 1014.4h0M1043.2 992.4h0M1043.7 1020.5h0M1044.2 987.6h0M1044.7 986.9h0M1045.2 1012.9h0M1045.7 1014.1h0M1046.2 1003h0M1046.7 1005.7h0M1047.2 1020.3h0M1047.7 998.6h0M1048.2 1036.1h0M1048.7 1013.5h0M1049.1 1013.3h0M1049.6 1011.7h0M1050.1 1003.8h0M1050.6 1025.7h0M1051.1 1000.2h0M1051.6 1011.3h0M1052.1 1018h0M1052.6 1028.2h0M1053.1 1025.8h0M1053.6 1004.3h0M1054.1 1022.9h0M1054.6 1008.6h0M1055.1 994.9h0M1055.6 995.4h0M1056.1 988.1h0M1056.6 1013.9h0M1057.1 1024.8h0M1057.6 995.8h0M1058.1 1005.6h0M1058.6 994.5h0M1059.1 1009.8h0M1059.6 993.6h0M1060 998.4h0M1060.5 1000.1h0M1061 1003h0M1061.5 1004.5h0M1062 1006.7h0M1062.5 1006.7h0M1063 996.4h0M1063.5 1016.6h0M1064 986.3h0M1064.5 1011.1h0M1065 996.4h0M1065.5 1010.8h0M1066 1012.8h0M1066.5 982.3h0M1067 1013.5h0M1067.5 1026.4h0M1068 1018.8h0M1068.5 1013.5h0M1069 980.8h0M1069.5 1006.5h0M1070 996.9h0M1070.5 1022.4h0M1071 1004.6h0M1071.4 1000.4h0M1071.9 985.6h0M1072.4 1018.4h0M1072.9 1001.4h0M1073.4 1005.4h0M1073.9 1022.8h0M1074.4 1009.8h0M1074.9 1013.1h0M1075.4 1040h0M1075.9 1002.2h0M1076.4 1003.1h0M1076.9 1016h0M1077.4 1027.8h0M1077.9 991.7h0M1078.4 1007.6h0M1078.9 998.3h0M1079.4 993.6h0M1079.9 1018.7h0M1080.4 1002h0M1080.9 1015.9h0M1081.4 1013.9h0M1081.9 1014.6h0M1082.3 1013.9h0M1082.8 1000h0M1083.3 1013h0M1083.8 1016.9h0M1084.3 1018.8h0M1084.8 1011.3h0M1085.3 1027.2h0M1085.8 1022.6h0M1086.3 1017.2h0M1086.8 1024h0M1087.3 1018.7h0M1087.8 1025.2h0M1088.3 992.7h0M1088.8 1001.5h0M1089.3 1012.8h0M1089.8 1019.4h0M1090.3 991.6h0M1090.8 1015.3h0M1091.3 1020.6h0M1091.8 1016h0M1092.3 1016.3h0M1092.8 1002.8h0M1093.3 1020.8h0M1093.7 994.8h0M1094.2 1032h0M1094.7 1012.7h0M1095.2 1033.9h0M1095.7 999.3h0M1096.2 1026.1h0M1096.7 1023h0M1097.2 1011.1h0M1097.7 1007.3h0M1098.2 1036.7h0M1098.7 1027.5h0M1099.2 1040.7h0M1099.7 1022.1h0M1100.2 1025.4h0M1100.7 1028.7h0M1101.2 1033.1h0M1101.7 1029.8h0M1102.2 1034.5h0M1102.7 1019.3h0M1103.2 1007.6h0M1103.7 1050h0M1104.2 1028.2h0M1104.6 1032.2h0M1105.1 1021.5h0M1105.6 1039.4h0M1106.1 1030h0M1106.6 1041.2h0M1107.1 1020.6h0M1107.6 1028.2h0M1108.1 1031.7h0M1108.6 1025.7h0M1109.1 1033.5h0M1109.6 1049.6h0M1110.1 1024.1h0M1110.6 1028.2h0M1111.1 1033.9h0M1111.6 1020.5h0M1112.1 1018.1h0M1112.6 1046.2h0M1113.1 1042.8h0M1113.6 1015.2h0M1114.1 1017.1h0M1114.6 1043.3h0M1115.1 1049h0M1115.6 1042.8h0M1116 1041.4h0M1116.5 1054.7h0M1117 1035.7h0M1117.5 1051.7h0M1118 1051.1h0M1118.5 1025.9h0M1119 1045.3h0M1119.5 1038.3h0M1120 1030.2h0M1120.5 1028.2h0M1121 1042.2h0M1121.5 1037.9h0M1122 1048.6h0M1122.5 1018.1h0M1123 1031.4h0M1123.5 1052.6h0M1124 1039.6h0M1124.5 1031.4h0M1125 1034.4h0M1125.5 1018.4h0M1126 1024.1h0M1126.5 1047.2h0M1126.9 1042h0M1127.4 1056.4h0M1127.9 1038.3h0M1128.4 1039.6h0M1128.9 1009.3h0M1129.4 1040.5h0M1129.9 1066.8h0M1130.4 1050h0M1130.9 1040.7h0M1131.4 1057.2h0M1131.9 1052.7h0M1132.4 1046.8h0M1132.9 1038.4h0M1133.4 1044.6h0M1133.9 1053.3h0M1134.4 1033.4h0M1134.9 1049.4h0M1135.4 1049h0M1135.9 1059.6h0M1136.4 1052.6h0M1136.9 1035.6h0M1137.4 1062.8h0M1137.9 1044.4h0M1138.3 1035.1h0M1138.8 1048.3h0M1139.3 1041h0M1139.8 1057.3h0M1140.3 1028.5h0M1140.8 1031.1h0M1141.3 1041.5h0M1141.8 1065.3h0M1142.3 1057h0M1142.8 1033h0M1143.3 1024.3h0M1143.8 1041.3h0M1144.3 1030h0M1144.8 1052.3h0M1145.3 1047.4h0M1145.8 1045.2h0M1146.3 1040.3h0M1146.8 1063.6h0M1147.3 1034.3h0M1147.8 1029.8h0M1148.3 1059.4h0M1148.8 1061.9h0M1149.2 1041.7h0M1149.7 1053.7h0M1150.2 1074.3h0M1150.7 1036.5h0M1151.2 1044.4h0M1151.7 1052h0M1152.2 1021.2h0M1152.7 1044.8h0M1153.2 1055.5h0M1153.7 1045.4h0M1154.2 1059.1h0M1154.7 1055.9h0M1155.2 1042.3h0M1155.7 1053.6h0M1156.2 1052.4h0M1156.7 1027.2h0M1157.2 1037h0M1157.7 1037.7h0M1158.2 1041h0M1158.7 1041.6h0M1159.2 1030.1h0M1159.7 1047.8h0M1160.2 1025.5h0M1160.6 1059h0M1161.1 1050.8h0M1161.6 1064.2h0M1162.1 1052h0M1162.6 1041.8h0M1163.1 1030.8h0M1163.6 1056h0M1164.1 1048.1h0M1164.6 1052.5h0M1165.1 1057.1h0M1165.6 1062.5h0M1166.1 1047.7h0M1166.6 1069.1h0M1167.1 1047.2h0M1167.6 1048.4h0M1168.1 1056.5h0M1168.6 1060.8h0M1169.1 1065.3h0M1169.6 1026.6h0M1170.1 1064.9h0M1170.6 1030.5h0M1171.1 1041.9h0M1171.5 1053.4h0M1172 1062.9h0M1172.5 1036.8h0M1173 1028.7h0M1173.5 1060.4h0M1174 1052.9h0M1174.5 1037h0M1175 1045.5h0M1175.5 1025.9h0M1176 1056.4h0M1176.5 1043.3h0M1177 1064.7h0M1177.5 1025.1h0M1178 1058.6h0M1178.5 1076.2h0M1179 1051.6h0M1179.5 1051.9h0M1180 1027.7h0M1180.5 1054.4h0M1181 1050.7h0M1181.5 1043.6h0M1182 1032h0M1182.5 1051.5h0M1182.9 1038.6h0M1183.4 1044.9h0M1183.9 1054.6h0M1184.4 1050.3h0M1184.9 1050.9h0M1185.4 1062.2h0M1185.9 1037.2h0M1186.4 1067.9h0M1186.9 1037.9h0M1187.4 1040.6h0M1187.9 1053h0M1188.4 1061h0M1188.9 1054.8h0M1189.4 1046.7h0M1189.9 1043.7h0M1190.4 1049.1h0M1190.9 1041h0M1191.4 1059.3h0M1191.9 1050.1h0M1192.4 1071.3h0M1192.9 1044.2h0M1193.4 1051.4h0M1193.8 1058.2h0M1194.3 1039.9h0M1194.8 1045.5h0M1195.3 1086.5h0M1195.8 1053.3h0M1196.3 1070.8h0M1196.8 1041.6h0M1197.3 1025.2h0M1197.8 1060.3h0M1198.3 1053.5h0M1198.8 1057.4h0M1199.3 1050.5h0M1199.8 1047.2h0M1200.3 1039.9h0M1200.8 1066.4h0M1201.3 1036.9h0M1201.8 1065.9h0M1202.3 1052.1h0M1202.8 1042h0M1203.3 1047.3h0M1203.8 1066.5h0M1204.3 1063.8h0M1204.8 1061.2h0M1205.2 1056.6h0M1205.7 1042.9h0M1206.2 1071.1h0M1206.7 1051h0M1207.2 1049.5h0M1207.7 1050.2h0M1208.2 1051.4h0M1208.7 1039.5h0M1209.2 1051.5h0M1209.7 1047.4h0M1210.2 1050.9h0M1210.7 1037h0M1211.2 1079.3h0M1211.7 1043.1h0M1212.2 1060.9h0M1212.7 1061.2h0M1213.2 1069.2h0M1213.7 1079.6h0M1214.2 1062.8h0M1214.7 1066.4h0M1215.2 1053.1h0M1215.7 1075.6h0M1216.1 1042.8h0M1216.6 1056.1h0M1217.1 1062.1h0M1217.6 1067.5h0M1218.1 1068.5h0M1218.6 1072.6h0M1219.1 1066.1h0M1219.6 1060h0M1220.1 1062.2h0M1220.6 1076.3h0M1221.1 1063.5h0M1221.6 1070.7h0M1222.1 1059h0M1222.6 1040h0M1223.1 1054.1h0M1223.6 1064.8h0M1224.1 1079.6h0M1224.6 1077.4h0M1225.1 1080.6h0M1225.6 1053.7h0M1226.1 1070.5h0M1226.6 1061.4h0M1227.1 1069.2h0M1227.5 1061.4h0M1228 1046.9h0M1228.5 1070.3h0M1229 1066.6h0M1229.5 1072h0M1230 1053.4h0M1230.5 1074.7h0M1231 1076h0M1231.5 1078.9h0M1232 1079.3h0M1232.5 1058.6h0M1233 1035.6h0M1233.5 1075.1h0M1234 1053.8h0M1234.5 1061.7h0M1235 1076.7h0M1235.5 1067.8h0M1236 1067.4h0M1236.5 1072.6h0M1237 1043.9h0M1237.5 1086.3h0M1238 1061.3h0M1238.4 1062h0M1238.9 1072.1h0M1239.4 1064.3h0M1239.9 1056.5h0M1240.4 1064.5h0M1240.9 1061.8h0M1241.4 1058.9h0M1241.9 1088.8h0M1242.4 1050.7h0M1242.9 1042.1h0M1243.4 1056.4h0M1243.9 1056.2h0M1244.4 1082.7h0M1244.9 1068.9h0M1245.4 1076.5h0M1245.9 1074.2h0M1246.4 1057.5h0M1246.9 1076.9h0M1247.4 1069.7h0M1247.9 1089.1h0M1248.4 1070.3h0M1248.9 1067.8h0M1249.3 1076.5h0M1249.8 1076.8h0M1250.3 1048.9h0M1250.8 1082.4h0M1251.3 1080.8h0M1251.8 1078.3h0M1252.3 1056.9h0M1252.8 1047.4h0M1253.3 1066.5h0M1253.8 1077.9h0M1254.3 1074.9h0M1254.8 1059.1h0M1255.3 1080.4h0M1255.8 1055.2h0M1256.3 1055.8h0M1256.8 1070.3h0M1257.3 1064.3h0M1257.8 1063.3h0M1258.3 1054.9h0M1258.8 1082.7h0M1259.3 1059.1h0M1259.8 1075.8h0M1260.3 1080.1h0M1260.7 1071h0M1261.2 1074.5h0M1261.7 1082.8h0M1262.2 1089.4h0M1262.7 1082.5h0M1263.2 1057.4h0M1263.7 1052.1h0M1264.2 1066.1h0M1264.7 1060.6h0M1265.2 1078.6h0M1265.7 1074.1h0M1266.2 1070.5h0M1266.7 1084.9h0M1267.2 1084.1h0M1267.7 1072.8h0M1268.2 1077.3h0M1268.7 1085.2h0M1269.2 1070.1h0M1269.7 1077h0M1270.2 1063.7h0M1270.7 1074.6h0M1271.2 1077.8h0M1271.6 1073.4h0M1272.1 1076.7h0M1272.6 1082h0M1273.1 1079.3h0M1273.6 1067.4h0M1274.1 1068.6h0M1274.6 1062.1h0M1275.1 1093.2h0M1275.6 1079.8h0M1276.1 1080.1h0M1276.6 1074.1h0M1277.1 1080.7h0M1277.6 1081.5h0M1278.1 1068.1h0M1278.6 1074.5h0M1279.1 1088.6h0M1279.6 1062.8h0M1280.1 1066.4h0M1280.6 1082.7h0M1281.1 1068.3h0M1281.6 1084.6h0M1282.1 1065.5h0M1282.6 1079.5h0M1283 1085.6h0M1283.5 1081.3h0M1284 1085.5h0M1284.5 1075.7h0M1285 1076h0M1285.5 1077.6h0M1286 1083.7h0M1286.5 1115.7h0M1287 1077.3h0M1287.5 1097.8h0M1288 1076h0M1288.5 1067h0M1289 1075.9h0M1289.5 1082.8h0M1290 1080.8h0M1290.5 1080.4h0M1291 1084.7h0M1291.5 1085.2h0M1292 1088.8h0M1292.5 1067.4h0M1293 1079.7h0M1293.5 1070h0M1293.9 1082.3h0M1294.4 1079.2h0M1294.9 1081.7h0M1295.4 1075.4h0M1295.9 1071.9h0M1296.4 1077.9h0M1296.9 1087.3h0M1297.4 1088.4h0M1297.9 1063.9h0M1298.4 1083.6h0M1298.9 1083.8h0M1299.4 1066.2h0M1299.9 1070.1h0M1300.4 1075.8h0M1300.9 1085.3h0M1301.4 1057.8h0M1301.9 1077.6h0M1302.4 1076.2h0M1302.9 1083.5h0M1303.4 1096.1h0M1303.9 1095.4h0M1304.4 1078h0M1304.9 1078.3h0M1305.3 1084.7h0M1305.8 1094.1h0M1306.3 1096.9h0M1306.8 1085.9h0M1307.3 1097.3h0M1307.8 1073.9h0M1308.3 1071.5h0M1308.8 1054.9h0M1309.3 1074.5h0M1309.8 1089.2h0M1310.3 1092.1h0M1310.8 1117.8h0M1311.3 1089.6h0M1311.8 1085.5h0M1312.3 1074.3h0M1312.8 1077.9h0M1313.3 1078.3h0M1313.8 1082.1h0M1314.3 1077.8h0M1314.8 1070.1h0M1315.3 1095h0M1315.8 1089.2h0M1316.2 1098.4h0M1316.7 1068.9h0M1317.2 1072.2h0M1317.7 1077.7h0M1318.2 1097h0M1318.7 1083.6h0M1319.2 1087.7h0M1319.7 1084.7h0M1320.2 1087.5h0M1320.7 1080.7h0M1321.2 1089.7h0M1321.7 1077.6h0M1322.2 1083.7h0M1322.7 1089h0M1323.2 1087.4h0M1323.7 1090.7h0M1324.2 1078.6h0M1324.7 1089.3h0M1325.2 1083.8h0M1325.7 1090.6h0M1326.2 1101.4h0M1326.7 1078.2h0M1327.2 1097.4h0M1327.6 1080.7h0M1328.1 1083.3h0M1328.6 1103.5h0M1329.1 1096.7h0M1329.6 1092.6h0M1330.1 1095.7h0M1330.6 1099.3h0M1331.1 1080.8h0M1331.6 1090.4h0M1332.1 1084.5h0M1332.6 1092.4h0M1333.1 1085.4h0M1333.6 1095.7h0M1334.1 1088.8h0M1334.6 1083.1h0M1335.1 1088.3h0M1335.6 1093.3h0M1336.1 1099.4h0M1336.6 1087.5h0M1337.1 1085.9h0M1337.6 1091.7h0M1338.1 1096.7h0M1338.5 1084.3h0M1339 1065.8h0M1339.5 1092.5h0M1340 1086.5h0M1340.5 1086.2h0M1341 1114.4h0M1341.5 1088.8h0M1342 1096.8h0M1342.5 1077h0M1343 1092.7h0M1343.5 1097.8h0M1344 1092.5h0M1344.5 1089h0M1345 1095.9h0M1345.5 1091.2h0M1346 1103.6h0M1346.5 1093h0M1347 1083.6h0M1347.5 1072.4h0M1348 1084.5h0M1348.5 1088.7h0M1349 1080.2h0M1349.5 1081.8h0M1349.9 1075.8h0M1350.4 1081.4h0M1350.9 1092.8h0M1351.4 1089.3h0M1351.9 1090.2h0M1352.4 1089.1h0M1352.9 1090.1h0M1353.4 1099.5h0M1353.9 1111.9h0M1354.4 1098.6h0M1354.9 1111.4h0M1355.4 1091.8h0M1355.9 1092.5h0M1356.4 1108.3h0M1356.9 1086.3h0M1357.4 1084.7h0M1357.9 1092h0M1358.4 1077.4h0M1358.9 1075.6h0M1359.4 1104.4h0M1359.9 1083.5h0M1360.4 1089.2h0M1360.8 1089.5h0M1361.3 1084.7h0M1361.8 1100.2h0M1362.3 1099.1h0M1362.8 1101.4h0M1363.3 1100.8h0M1363.8 1094.8h0M1364.3 1107.4h0M1364.8 1103.7h0M1365.3 1088.7h0M1365.8 1094.8h0M1366.3 1090.7h0M1366.8 1111.8h0M1367.3 1101.6h0M1367.8 1099.6h0M1368.3 1094.2h0M1368.8 1100h0M1369.3 1086.1h0M1369.8 1095.3h0M1370.3 1094.7h0M1370.8 1094.8h0M1371.3 1088.5h0M1371.8 1099.4h0M1372.2 1084.8h0M1372.7 1091h0M1373.2 1093.9h0M1373.7 1095h0M1374.2 1090.6h0M1374.7 1086.2h0M1375.2 1086.9h0M1375.7 1092.2h0M1376.2 1087.7h0M1376.7 1094.7h0M1377.2 1084.4h0M1377.7 1096.1h0M1378.2 1114.9h0M1378.7 1083.8h0M1379.2 1095.1h0M1379.7 1106.8h0M1380.2 1098h0M1380.7 1104.3h0M1381.2 1077.2h0M1381.7 1091.9h0M1382.2 1110.8h0M1382.7 1091.6h0M1383.1 1100.2h0M1383.6 1079.2h0M1384.1 1106.3h0M1384.6 1117.2h0M1385.1 1096.2h0M1385.6 1100h0M1386.1 1100.7h0M1386.6 1116.4h0M1387.1 1093.2h0M1387.6 1081.9h0M1388.1 1114.5h0M1388.6 1086.6h0M1389.1 1102.4h0M1389.6 1076.1h0M1390.1 1093.4h0M1390.6 1099.1h0M1391.1 1087.5h0M1391.6 1092.8h0M1392.1 1102.9h0M1392.6 1091.2h0M1393.1 1102.3h0M1393.6 1113.9h0M1394.1 1079.5h0M1394.5 1101h0M1395 1103.4h0M1395.5 1094.9h0M1396 1112.1h0M1396.5 1110.2h0M1397 1102.6h0M1397.5 1102.8h0M1398 1097.6h0M1398.5 1088.2h0M1399 1102.6h0M1399.5 1093.9h0M1400 1093h0M1400.5 1108.2h0M1401 1096.5h0M1401.5 1107h0M1402 1089.1h0M1402.5 1094.6h0M1403 1098.6h0M1403.5 1110.7h0M1404 1097.8h0M1404.5 1105.7h0M1405 1092.6h0M1405.4 1100h0M1405.9 1106.2h0M1406.4 1090.8h0M1406.9 1092.6h0M1407.4 1104.4h0M1407.9 1088.8h0M1408.4 1101.9h0M1408.9 1102h0M1409.4 1098.2h0M1409.9 1106h0M1410.4 1103.3h0M1410.9 1100.9h0M1411.4 1085.8h0M1411.9 1086.2h0M1412.4 1101.9h0M1412.9 1085.3h0M1413.4 1100h0M1413.9 1096.3h0M1414.4 1091.9h0M1414.9 1097.2h0M1415.4 1078.3h0M1415.9 1097.7h0M1416.4 1110.5h0M1416.8 1088.3h0M1417.3 1103.6h0M1417.8 1102.7h0M1418.3 1126.6h0M1418.8 1091.2h0M1419.3 1092.8h0M1419.8 1093.1h0M1420.3 1091.5h0M1420.8 1085.2h0M1421.3 1100.7h0M1421.8 1092h0M1422.3 1106.9h0M1422.8 1103.5h0M1423.3 1091h0M1423.8 1097h0M1424.3 1112.2h0M1424.8 1097.3h0M1425.3 1102.1h0M1425.8 1107.8h0M1426.3 1096.8h0M1426.8 1104.2h0M1427.3 1114.5h0M1427.7 1110.5h0M1428.2 1085.1h0M1428.7 1114.1h0M1429.2 1098.8h0M1429.7 1095.4h0M1430.2 1095.2h0M1430.7 1111.7h0M1431.2 1103.7h0M1431.7 1099.7h0M1432.2 1093.9h0M1432.7 1106.7h0M1433.2 1111.2h0M1433.7 1092.2h0M1434.2 1091.3h0M1434.7 1097.8h0M1435.2 1106.5h0M1435.7 1097.6h0M1436.2 1100.2h0M1436.7 1093.8h0M1437.2 1112.2h0M1437.7 1100.2h0M1438.2 1102.7h0M1438.6 1111h0M1439.1 1099.4h0M1439.6 1101h0M1440.1 1105h0M1440.6 1097.9h0M1441.1 1113.9h0M1441.6 1101.9h0M1442.1 1097.7h0M1442.6 1099h0M1443.1 1092.1h0M1443.6 1112.1h0M1444.1 1114.8h0M1444.6 1099.5h0M1445.1 1097.6h0M1445.6 1083.1h0M1446.1 1096.3h0M1446.6 1109.3h0M1447.1 1094.6h0M1447.6 1109.1h0M1448.1 1114.7h0M1448.6 1078.9h0M1449.1 1098.9h0M1449.6 1095.6h0M1450 1096.9h0M1450.5 1086h0M1451 1099.4h0M1451.5 1091.3h0M1452 1110.9h0M1452.5 1114.1h0M1453 1089.5h0M1453.5 1089.1h0M1454 1097.5h0M1454.5 1100h0M1455 1100.6h0M1455.5 1108.1h0M1456 1088.7h0M1456.5 1096.4h0M1457 1097.7h0M1457.5 1098.9h0M1458 1093h0M1458.5 1097.8h0M1459 1095.7h0M1459.5 1112.4h0M1460 1097.8h0M1460.5 1083.2h0M1460.9 1106.8h0M1461.4 1103.4h0M1461.9 1094.6h0M1462.4 1094h0M1462.9 1096.9h0M1463.4 1116.5h0M1463.9 1098.1h0M1464.4 1112.7h0M1464.9 1109.6h0M1465.4 1097.7h0M1465.9 1105.1h0M1466.4 1095.5h0M1466.9 1075.2h0M1467.4 1095.8h0M1467.9 1096.3h0M1468.4 1110.4h0M1468.9 1108.2h0M1469.4 1111.9h0M1469.9 1107.3h0M1470.4 1112.2h0M1470.9 1108.5h0M1471.4 1104.6h0M1471.9 1111.5h0M1472.3 1115.1h0M1472.8 1114.6h0M1473.3 1098.9h0M1473.8 1102.3h0M1474.3 1094h0M1474.8 1093.9h0M1475.3 1105.9h0M1475.8 1097.2h0M1476.3 1115.5h0M1476.8 1083.2h0M1477.3 1092.7h0M1477.8 1104.9h0M1478.3 1113.1h0M1478.8 1099.8h0M1479.3 1119.3h0M1479.8 1109.9h0M1480.3 1096.7h0M1480.8 1102.5h0M1481.3 1107.5h0M1481.8 1095h0M1482.3 1112.2h0M1482.8 1100.8h0M1483.2 1107.6h0M1483.7 1110.7h0M1484.2 1099.4h0M1484.7 1112h0M1485.2 1087h0M1485.7 1108.5h0M1486.2 1086.3h0M1486.7 1112.9h0M1487.2 1098.3h0M1487.7 1113.9h0M1488.2 1115.1h0M1488.7 1102.2h0M1489.2 1097.8h0M1489.7 1114.6h0M1490.2 1093.5h0M1490.7 1110.5h0M1491.2 1102.6h0M1491.7 1100.5h0M1492.2 1098.6h0M1492.7 1119.2h0M1493.2 1089.9h0M1493.7 1099h0M1494.2 1107.5h0M1494.6 1112.7h0M1495.1 1118.5h0M1495.6 1115.6h0M1496.1 1099.3h0M1496.6 1106.9h0M1497.1 1113.7h0M1497.6 1108.5h0M1498.1 1090.6h0M1498.6 1106.9h0M1499.1 1109.1h0M1499.6 1092.5h0M1500.1 1100.2h0M1500.6 1103.8h0M1501.1 1109.4h0M1501.6 1117.5h0M1502.1 1114.3h0M1502.6 1108.4h0M1503.1 1106.2h0M1503.6 1101.2h0M1504.1 1099.6h0M1504.6 1102.4h0M1505.1 1102.5h0M1505.5 1113h0M1506 1122.9h0M1506.5 1108.9h0M1507 1112.6h0M1507.5 1110.1h0M1508 1106.9h0M1508.5 1115.2h0M1509 1114.1h0M1509.5 1105.4h0M1510 1103.6h0M1510.5 1110.2h0M1511 1100.4h0M1511.5 1106.5h0M1512 1113.4h0M1512.5 1104.4h0M1513 1088.7h0M1513.5 1110.5h0M1514 1094.8h0M1514.5 1093h0M1515 1092h0M1515.5 1111.9h0M1516 1087.7h0M1516.5 1103.9h0M1516.9 1107.1h0M1517.4 1106.9h0M1517.9 1099.8h0M1518.4 1104.5h0M1518.9 1106.5h0M1519.4 1094.1h0M1519.9 1111.2h0M1520.4 1113.9h0M1520.9 1098.3h0M1521.4 1099.1h0M1521.9 1095.8h0M1522.4 1114.3h0M1522.9 1096h0M1523.4 1101.1h0M1523.9 1090.2h0M1524.4 1115.8h0M1524.9 1103.4h0M1525.4 1107.6h0M1525.9 1118.8h0M1526.4 1111.4h0M1526.9 1095.8h0M1527.4 1109.4h0M1527.8 1111.5h0M1528.3 1098h0M1528.8 1097h0M1529.3 1097.1h0M1529.8 1112.2h0M1530.3 1106h0M1530.8 1096.8h0M1531.3 1111.1h0M1531.8 1111.9h0M1532.3 1098.6h0M1532.8 1092.4h0M1533.3 1115.4h0M1533.8 1127.7h0M1534.3 1118h0M1534.8 1114.3h0M1535.3 1106.9h0M1535.8 1100.5h0M1536.3 1107h0M1536.8 1111.7h0M1537.3 1104.5h0M1537.8 1114h0M1538.3 1106.3h0M1538.8 1111.3h0M1539.2 1083.2h0M1539.7 1099h0M1540.2 1113h0M1540.7 1114.4h0M1541.2 1109.7h0M1541.7 1119.9h0M1542.2 1112.2h0M1542.7 1112.3h0M1543.2 1098.6h0M1543.7 1109.7h0M1544.2 1112.8h0M1544.7 1117.5h0M1545.2 1116.1h0M1545.7 1106.8h0M1546.2 1108h0M1546.7 1096.7h0M1547.2 1111.6h0M1547.7 1097.4h0M1548.2 1104.1h0M1548.7 1106.4h0M1549.2 1123.3h0M1549.7 1117.2h0M1550.1 1100.1h0M1550.6 1094.6h0M1551.1 1104.7h0M1551.6 1100h0M1552.1 1109.9h0M1552.6 1109.6h0M1553.1 1112.1h0M1553.6 1098.3h0M1554.1 1103.7h0M1554.6 1108.5h0M1555.1 1109.4h0M1555.6 1101.9h0M1556.1 1103.9h0M1556.6 1113.6h0M1557.1 1092.3h0M1557.6 1104.5h0M1558.1 1106.6h0M1558.6 1094.3h0M1559.1 1098.2h0M1559.6 1107.5h0M1560.1 1102.3h0M1560.6 1115.8h0M1561.1 1112.2h0M1561.5 1125.8h0M1562 1096.6h0M1562.5 1122.8h0M1563 1101.2h0M1563.5 1113.9h0M1564 1115.1h0M1564.5 1108.6h0M1565 1104.7h0M1565.5 1101.9h0M1566 1092.2h0M1566.5 1104h0M1567 1099.7h0M1567.5 1112.1h0M1568 1101.1h0M1568.5 1105.8h0M1569 1111h0M1569.5 1107.9h0M1570 1107.7h0M1570.5 1105.6h0M1571 1103.8h0M1571.5 1111.4h0M1572 1113.4h0M1572.4 1101h0M1572.9 1121.4h0M1573.4 1112.4h0M1573.9 1094.3h0M1574.4 1129.9h0M1574.9 1113.1h0M1575.4 1101.6h0M1575.9 1121.1h0M1576.4 1085.6h0M1576.9 1129h0M1577.4 1095.4h0M1577.9 1094.4h0M1578.4 1099.7h0M1578.9 1109.2h0M1579.4 1104.4h0M1579.9 1114.9h0M1580.4 1100.7h0M1580.9 1116.8h0M1581.4 1109.7h0M1581.9 1099.2h0M1582.4 1116.8h0M1582.9 1110.5h0M1583.4 1106.1h0M1583.8 1118.7h0M1584.3 1097.8h0M1584.8 1104.7h0M1585.3 1120.2h0M1585.8 1107.9h0M1586.3 1114h0M1586.8 1113h0M1587.3 1106.9h0M1587.8 1113.5h0M1588.3 1099.6h0M1588.8 1113.5h0M1589.3 1099.4h0M1589.8 1108h0M1590.3 1100.5h0M1590.8 1112.2h0M1591.3 1111.9h0M1591.8 1117.3h0M1592.3 1102.9h0M1592.8 1099.9h0M1593.3 1090h0M1593.8 1097h0M1594.3 1105.6h0M1594.7 1109.5h0M1595.2 1104.5h0M1595.7 1108h0M1596.2 1095.6h0M1596.7 1099.9h0M1597.2 1114.7h0M1597.7 1113.5h0M1598.2 1096.4h0M1598.7 1105.2h0M1599.2 1109.7h0M1599.7 1098h0M1600.2 1111.1h0M1600.7 1110.2h0M1601.2 1111.7h0M1601.7 1124.2h0M1602.2 1100.7h0M1602.7 1117.9h0M1603.2 1112.6h0M1603.7 1114.1h0M1604.2 1101.9h0M1604.7 1108.5h0M1605.2 1107.8h0M1605.7 1121.9h0M1606.1 1108.7h0M1606.6 1120.2h0M1607.1 1105.4h0M1607.6 1104.9h0M1608.1 1108.1h0M1608.6 1091h0M1609.1 1103.6h0M1609.6 1103h0M1610.1 1106.8h0M1610.6 1109.6h0M1611.1 1100h0M1611.6 1098.9h0M1612.1 1118.8h0M1612.6 1099.3h0M1613.1 1103.8h0M1613.6 1100.1h0M1614.1 1104.2h0M1614.6 1118.4h0M1615.1 1117.8h0M1615.6 1092.9h0M1616.1 1106h0M1616.6 1119.8h0M1617 1105.2h0M1617.5 1111.1h0M1618 1123.4h0M1618.5 1127.1h0M1619 1121.4h0M1619.5 1105.9h0M1620 1108.5h0M1620.5 1110.2h0M1621 1105.8h0M1621.5 1103.2h0M1622 1125.6h0M1622.5 1110.6h0M1623 1115h0M1623.5 1118.4h0M1624 1112.7h0M1624.5 1109.2h0M1625 1110.4h0M1625.5 1120.2h0M1626 1112.2h0M1626.5 1091.5h0M1627 1116.9h0M1627.5 1122.2h0M1628 1105.9h0M1628.4 1103.2h0M1628.9 1104.3h0M1629.4 1117.5h0M1629.9 1099.9h0M1630.4 1114.7h0M1630.9 1117.6h0M1631.4 1113.2h0M1631.9 1109.1h0M1632.4 1102.3h0M1632.9 1103h0M1633.4 1108.4h0M1633.9 1100.5h0M1634.4 1107.5h0M1634.9 1100.8h0M1635.4 1119.8h0M1635.9 1121.2h0M1636.4 1101.8h0M1636.9 1119.7h0M1637.4 1110.7h0M1637.9 1109h0M1638.4 1112.2h0M1638.9 1111.9h0M1639.3 1096.6h0M1639.8 1129.1h0M1640.3 1100.8h0M1640.8 1089.1h0M1641.3 1108h0M1641.8 1108.3h0M1642.3 1102.1h0M1642.8 1093h0M1643.3 1118h0M1643.8 1107.4h0M1644.3 1109.7h0M1644.8 1103.5h0M1645.3 1106.8h0M1645.8 1102.6h0M1646.3 1111.6h0M1646.8 1107.7h0M1647.3 1113.6h0M1647.8 1113.6h0M1648.3 1109.2h0M1648.8 1109.2h0M1649.3 1117.8h0M1649.8 1095h0M1650.2 1109.1h0M1650.7 1119.5h0M1651.2 1098.8h0M1651.7 1114.2h0M1652.2 1103.8h0M1652.7 1108.1h0M1653.2 1105.9h0M1653.7 1106.5h0M1654.2 1112.7h0M1654.7 1107.6h0M1655.2 1091h0M1655.7 1126.5h0M1656.2 1107.3h0M1656.7 1104.2h0M1657.2 1116.6h0M1657.7 1119.2h0M1658.2 1089.9h0M1658.7 1110.9h0M1659.2 1090.5h0M1659.7 1103.3h0M1660.2 1107.1h0M1660.7 1103.8h0M1661.2 1102.4h0M1661.6 1097.9h0M1662.1 1104.1h0M1662.6 1106.5h0M1663.1 1106.2h0M1663.6 1096.4h0M1664.1 1100.8h0M1664.6 1116h0M1665.1 1112.9h0M1665.6 1104.8h0M1666.1 1112.8h0M1666.6 1110.7h0M1667.1 1115.5h0M1667.6 1109.7h0M1668.1 1104h0M1668.6 1099.2h0M1669.1 1107.4h0M1669.6 1090.1h0M1670.1 1108.1h0M1670.6 1080.8h0M1671.1 1099h0M1671.6 1103.2h0M1672.1 1111.5h0M1672.5 1130.9h0M1673 1108.6h0M1673.5 1105.8h0M1674 1091.2h0M1674.5 1118.8h0M1675 1091.3h0M1675.5 1109.3h0M1676 1101.2h0M1676.5 1128.4h0M1677 1106h0M1677.5 1110h0M1678 1101.4h0M1678.5 1106.3h0M1679 1116.7h0M1679.5 1099.1h0M1680 1101.2h0M1680.5 1102h0M1681 1098.6h0M1681.5 1097.8h0M1682 1107.2h0M1682.5 1118.3h0M1683 1118.5h0M1683.5 1095.6h0M1683.9 1100.9h0M1684.4 1106h0M1684.9 1110.5h0M1685.4 1106.6h0M1685.9 1106.6h0M1686.4 1109.6h0M1686.9 1112.6h0M1687.4 1088.6h0M1687.9 1104.8h0M1688.4 1111.8h0M1688.9 1117.6h0M1689.4 1112.7h0M1689.9 1100.5h0M1690.4 1100.2h0M1690.9 1108.4h0M1691.4 1106.1h0M1691.9 1109h0M1692.4 1115.8h0M1692.9 1095.4h0M1693.4 1103.2h0M1693.9 1085.5h0M1694.4 1112.7h0M1694.8 1107.4h0M1695.3 1098.8h0M1695.8 1108.3h0M1696.3 1117.9h0M1696.8 1114.1h0M1697.3 1105.2h0M1697.8 1103.1h0M1698.3 1106.8h0M1698.8 1097.5h0M1699.3 1097.5h0M1699.8 1103.1h0M1700.3 1105.6h0M1700.8 1107.9h0M1701.3 1101.1h0M1701.8 1097.9h0M1702.3 1105.1h0M1702.8 1101.8h0M1703.3 1108.3h0M1703.8 1117.5h0M1704.3 1114h0M1704.8 1098.9h0M1705.3 1101.6h0M1705.8 1091.8h0M1706.2 1104.8h0M1706.7 1097.9h0M1707.2 1093.9h0M1707.7 1096.7h0M1708.2 1110.3h0M1708.7 1106.6h0M1709.2 1103.9h0M1709.7 1113.3h0M1710.2 1100.8h0M1710.7 1096.1h0M1711.2 1108.9h0M1711.7 1087.9h0M1712.2 1107.1h0M1712.7 1106.3h0M1713.2 1106.6h0M1713.7 1110.6h0M1714.2 1100.9h0M1714.7 1104.2h0M1715.2 1090.1h0M1715.7 1099.1h0M1716.2 1099.6h0M1716.7 1106.1h0M1717.1 1116.3h0M1717.6 1104.8h0M1718.1 1111.3h0M1718.6 1095.8h0M1719.1 1104.2h0M1719.6 1089.5h0M1720.1 1097.5h0M1720.6 1096.5h0M1721.1 1101.7h0M1721.6 1101.8h0M1722.1 1097.9h0M1722.6 1095.5h0M1723.1 1109.6h0M1723.6 1099.1h0M1724.1 1080.7h0M1724.6 1104h0M1725.1 1105.4h0M1725.6 1109.2h0M1726.1 1115.6h0M1726.6 1092.8h0M1727.1 1102.5h0M1727.6 1100.3h0M1728.1 1086.9h0M1728.5 1081.1h0M1729 1110.5h0M1729.5 1093.5h0M1730 1097.2h0M1730.5 1099.1h0M1731 1098.4h0M1731.5 1102.7h0M1732 1088.6h0M1732.5 1097h0M1733 1099.3h0M1733.5 1091.4h0M1734 1094.4h0M1734.5 1098.1h0M1735 1099.2h0M1735.5 1086.7h0M1736 1097.5h0M1736.5 1102.7h0M1737 1109.3h0M1737.5 1104.8h0M1738 1110.9h0M1738.5 1100.7h0M1739 1099.3h0M1739.4 1119.5h0M1739.9 1101.3h0M1740.4 1095.7h0M1740.9 1099.8h0M1741.4 1109.6h0M1741.9 1090h0M1742.4 1107.2h0M1742.9 1111.8h0M1743.4 1110.5h0M1743.9 1101h0M1744.4 1092.2h0M1744.9 1090.5h0M1745.4 1098.9h0M1745.9 1111.2h0M1746.4 1106.4h0M1746.9 1108.4h0M1747.4 1102h0M1747.9 1116h0M1748.4 1099.3h0M1748.9 1094.5h0M1749.4 1101.5h0M1749.9 1096h0M1750.4 1108.3h0M1750.8 1112.8h0M1751.3 1105.5h0M1751.8 1089.5h0M1752.3 1090.6h0M1752.8 1103.7h0M1753.3 1088.9h0M1753.8 1102.4h0M1754.3 1085.9h0M1754.8 1095h0M1755.3 1103.3h0M1755.8 1092.1h0M1756.3 1106h0M1756.8 1107.4h0M1757.3 1111.9h0M1757.8 1096.6h0M1758.3 1099.3h0M1758.8 1099.4h0M1759.3 1102.3h0M1759.8 1085.7h0M1760.3 1102.3h0M1760.8 1104.9h0M1761.3 1087.2h0M1761.7 1085.5h0M1762.2 1095.1h0M1762.7 1113.8h0M1763.2 1103.4h0M1763.7 1092.4h0M1764.2 1097.7h0M1764.7 1083.8h0M1765.2 1110.1h0M1765.7 1091.5h0M1766.2 1103.2h0M1766.7 1085.5h0M1767.2 1098.1h0M1767.7 1088h0M1768.2 1103.1h0M1768.7 1110h0M1769.2 1107.2h0M1769.7 1102.5h0M1770.2 1106.3h0M1770.7 1086h0M1771.2 1084.6h0M1771.7 1094.2h0M1772.2 1106.1h0M1772.7 1097.7h0M1773.1 1102.7h0M1773.6 1083.2h0M1774.1 1093.5h0M1774.6 1091.8h0M1775.1 1099.8h0M1775.6 1114.5h0M1776.1 1103.1h0M1776.6 1106.2h0M1777.1 1092.5h0M1777.6 1094.9h0M1778.1 1103.1h0M1778.6 1099.2h0M1779.1 1081.2h0M1779.6 1104.3h0M1780.1 1103.9h0M1780.6 1097.5h0M1781.1 1101.7h0M1781.6 1099.2h0M1782.1 1090.3h0M1782.6 1079.2h0M1783.1 1111.4h0M1783.6 1095.1h0M1784 1094.5h0M1784.5 1095.6h0M1785 1096.5h0M1785.5 1097.8h0M1786 1085.3h0M1786.5 1098.8h0M1787 1095.6h0M1787.5 1094.4h0M1788 1093.3h0M1788.5 1095.8h0M1789 1084.9h0M1789.5 1094.2h0M1790 1092.4h0M1790.5 1094.4h0M1791 1103.2h0M1791.5 1101.5h0M1792 1103.5h0M1792.5 1091.9h0M1793 1100.2h0M1793.5 1103.4h0M1794 1091.2h0M1794.5 1088.5h0M1795 1109.7h0M1795.4 1077.5h0M1795.9 1092.8h0M1796.4 1094h0M1796.9 1083h0M1797.4 1092.2h0M1797.9 1098.5h0M1798.4 1072.2h0M1798.9 1102.7h0M1799.4 1093.5h0M1799.9 1084.6h0M1800.4 1102.5h0M1800.9 1093.3h0M1801.4 1088.7h0M1801.9 1069.7h0M1802.4 1100.5h0M1802.9 1092.5h0M1803.4 1085.8h0M1803.9 1091.1h0M1804.4 1103.1h0M1804.9 1087.9h0M1805.4 1090.6h0M1805.9 1087.3h0M1806.3 1080.8h0M1806.8 1081.8h0M1807.3 1087.4h0M1807.8 1088.2h0M1808.3 1101.4h0M1808.8 1092.2h0M1809.3 1088.8h0M1809.8 1094.6h0M1810.3 1089.8h0M1810.8 1098.4h0M1811.3 1076h0M1811.8 1070h0M1812.3 1094h0M1812.8 1086.4h0M1813.3 1092.3h0M1813.8 1078h0M1814.3 1085.8h0M1814.8 1089.1h0M1815.3 1091.8h0M1815.8 1088.4h0M1816.3 1099h0M1816.8 1083h0M1817.3 1096.1h0M1817.7 1084.1h0M1818.2 1087.9h0M1818.7 1078.6h0M1819.2 1089.1h0M1819.7 1079h0M1820.2 1097.5h0M1820.7 1082.8h0M1821.2 1090.7h0M1821.7 1086.6h0M1822.2 1087.6h0M1822.7 1079.3h0M1823.2 1107.5h0M1823.7 1084.9h0M1824.2 1102.2h0M1824.7 1076.2h0M1825.2 1106.6h0M1825.7 1097.2h0M1826.2 1103.6h0M1826.7 1071.7h0M1827.2 1099.7h0M1827.7 1086.1h0M1828.2 1092.3h0M1828.6 1104.3h0M1829.1 1090.2h0M1829.6 1080.5h0M1830.1 1088.5h0M1830.6 1077.6h0M1831.1 1090.1h0M1831.6 1086.4h0M1832.1 1090.1h0M1832.6 1083h0M1833.1 1067.9h0M1833.6 1082.6h0M1834.1 1084.2h0M1834.6 1091.9h0M1835.1 1093.1h0M1835.6 1071.7h0M1836.1 1096.4h0M1836.6 1094.4h0M1837.1 1086.5h0M1837.6 1089.5h0M1838.1 1066.4h0M1838.6 1108.1h0M1839.1 1081.7h0M1839.5 1078.2h0M1840 1095.8h0M1840.5 1091.1h0M1841 1080.6h0M1841.5 1069h0M1842 1093.5h0M1842.5 1099.8h0M1843 1075h0M1843.5 1069.6h0M1844 1087.5h0M1844.5 1105.6h0M1845 1070h0M1845.5 1085.9h0M1846 1073h0M1846.5 1084.3h0M1847 1087.4h0M1847.5 1088.1h0M1848 1069.3h0M1848.5 1069.6h0M1849 1104.2h0M1849.5 1092.4h0M1850 1066h0M1850.5 1086.7h0M1850.9 1096.3h0M1851.4 1083h0M1851.9 1084h0M1852.4 1083.8h0M1852.9 1087.4h0M1853.4 1085.7h0M1853.9 1087h0M1854.4 1079.3h0M1854.9 1090.4h0M1855.4 1085.2h0M1855.9 1083.7h0M1856.4 1069.5h0M1856.9 1078.5h0M1857.4 1083.2h0M1857.9 1076.8h0M1858.4 1078h0M1858.9 1071.3h0M1859.4 1076.9h0M1859.9 1064.3h0M1860.4 1068.6h0M1860.9 1082h0M1861.4 1085.6h0M1861.8 1072.9h0M1862.3 1076.4h0M1862.8 1082.3h0M1863.3 1095.7h0M1863.8 1099.1h0M1864.3 1077.8h0M1864.8 1073.6h0M1865.3 1073.3h0M1865.8 1093.6h0M1866.3 1070.9h0M1866.8 1086.2h0M1867.3 1077.1h0M1867.8 1076.8h0M1868.3 1088.6h0M1868.8 1086.5h0M1869.3 1101h0M1869.8 1089.6h0M1870.3 1098.3h0M1870.8 1076.4h0M1871.3 1080h0M1871.8 1071.6h0M1872.3 1077h0M1872.8 1086.7h0M1873.2 1077.1h0M1873.7 1084.3h0M1874.2 1074.5h0M1874.7 1077.3h0M1875.2 1090h0M1875.7 1080.3h0M1876.2 1079.8h0M1876.7 1083.4h0M1877.2 1071.6h0M1877.7 1063.6h0M1878.2 1083.9h0M1878.7 1083.7h0M1879.2 1102.3h0M1879.7 1081.6h0M1880.2 1084.6h0M1880.7 1101.4h0M1881.2 1077.5h0M1881.7 1074.6h0M1882.2 1087.5h0M1882.7 1084h0M1883.2 1089.8h0M1883.7 1073h0M1884.1 1095.2h0M1884.6 1083.5h0M1885.1 1061.5h0M1885.6 1080h0M1886.1 1076h0M1886.6 1082h0M1887.1 1092.1h0M1887.6 1081h0M1888.1 1076.7h0M1888.6 1090.7h0M1889.1 1077.4h0M1889.6 1068.7h0M1890.1 1070.4h0M1890.6 1096.2h0M1891.1 1090.4h0M1891.6 1096.6h0M1892.1 1070.5h0M1892.6 1075.1h0M1893.1 1074.2h0M1893.6 1089.6h0M1894.1 1092.4h0M1894.6 1080.4h0M1895.1 1080.2h0M1895.5 1089.5h0M1896 1079.9h0M1896.5 1075.1h0M1897 1079.2h0M1897.5 1091.5h0M1898 1101.9h0M1898.5 1084h0M1899 1080h0M1899.5 1084.1h0M1900 1085.8h0M1900.5 1088.4h0M1901 1074.8h0M1901.5 1082.3h0M1902 1080.6h0M1902.5 1091.3h0M1903 1087.9h0M1903.5 1080.4h0M1904 1091.7h0M1904.5 1094.2h0M1905 1085.3h0M1905.5 1070.6h0M1906 1080.4h0M1906.4 1068.2h0M1906.9 1083.6h0M1907.4 1085.4h0M1907.9 1095.8h0M1908.4 1088h0M1908.9 1068.8h0M1909.4 1079.5h0M1909.9 1075.6h0M1910.4 1075.9h0M1910.9 1082.9h0M1911.4 1084.8h0M1911.9 1081.7h0M1912.4 1076.5h0M1912.9 1078.6h0M1913.4 1078.3h0M1913.9 1081.6h0M1914.4 1090.5h0M1914.9 1085.7h0M1915.4 1092.3h0M1915.9 1073.7h0M1916.4 1103.5h0M1916.9 1085.5h0M1917.4 1060.7h0M1917.8 1086.8h0M1918.3 1094.4h0M1918.8 1083.8h0M1919.3 1071.4h0M1919.8 1085.3h0M1920.3 1078h0M1920.8 1082.9h0M1921.3 1087.5h0M1921.8 1054h0M1922.3 1083.4h0M1922.8 1089.3h0M1923.3 1088.9h0M1923.8 1080.7h0M1924.3 1080.5h0M1924.8 1077.2h0M1925.3 1083.2h0M1925.8 1098.2h0M1926.3 1079.7h0M1926.8 1087.7h0M1927.3 1087.6h0M1927.8 1099h0M1928.3 1090.5h0M1928.7 1092h0M1929.2 1085.6h0M1929.7 1099.1h0M1930.2 1085h0M1930.7 1084.4h0M1931.2 1096.2h0M1931.7 1091.6h0M1932.2 1093.9h0M1932.7 1077.4h0M1933.2 1109.8h0M1933.7 1089.3h0M1934.2 1101.8h0M1934.7 1090.4h0M1935.2 1078.5h0M1935.7 1092.4h0M1936.2 1085.3h0M1936.7 1094.6h0M1937.2 1068.7h0M1937.7 1078.4h0M1938.2 1076.5h0M1938.7 1099.5h0M1939.2 1097.5h0M1939.7 1077.3h0M1940.1 1089.2h0M1940.6 1089.9h0M1941.1 1084.5h0M1941.6 1099.4h0M1942.1 1080.7h0M1942.6 1087.8h0M1943.1 1083.6h0M1943.6 1094.3h0M1944.1 1083.5h0M1944.6 1094.8h0M1945.1 1079.6h0M1945.6 1078.1h0M1946.1 1080.2h0M1946.6 1083.9h0M1947.1 1083h0M1947.6 1113.8h0M1948.1 1081.3h0M1948.6 1091.6h0M1949.1 1088.3h0M1949.6 1091.9h0M1950.1 1102.1h0M1950.6 1094.4h0M1951 1083.5h0M1951.5 1076.6h0M1952 1095.4h0M1952.5 1098h0M1953 1076.6h0M1953.5 1098h0M1954 1071.1h0M1954.5 1089.6h0M1955 1098.3h0M1955.5 1081.3h0M1956 1074.9h0M1956.5 1103.5h0M1957 1076.4h0M1957.5 1093.2h0M1958 1077.2h0M1958.5 1094.3h0M1959 1105.2h0M1959.5 1086.4h0M1960 1082.7h0M1960.5 1072.2h0M1961 1075.6h0M1961.5 1085h0M1962 1093.6h0M1962.4 1096.2h0M1962.9 1094.3h0M1963.4 1099.2h0M1963.9 1094.2h0M1964.4 1114.8h0M1964.9 1090.3h0M1965.4 1092.3h0M1965.9 1069h0M1966.4 1085.4h0M1966.9 1096.6h0M1967.4 1087.3h0M1967.9 1103.4h0M1968.4 1097.9h0M1968.9 1109.4h0M1969.4 1079.8h0M1969.9 1087.5h0M1970.4 1103.4h0M1970.9 1093.5h0M1971.4 1084.5h0M1971.9 1088.7h0M1972.4 1089.8h0M1972.9 1100.9h0M1973.3 1099h0M1973.8 1092.6h0M1974.3 1085.3h0M1974.8 1101h0M1975.3 1103.6h0M1975.8 1083.6h0M1976.3 1102.1h0M1976.8 1084.3h0M1977.3 1091.8h0M1977.8 1086.2h0M1978.3 1078.6h0M1978.8 1088.1h0M1979.3 1087.4h0M1979.8 1102.4h0M1980.3 1100.5h0M1980.8 1088.7h0M1981.3 1081h0M1981.8 1082.3h0M1982.3 1074.2h0M1982.8 1092h0M1983.3 1093h0M1983.8 1086h0M1984.3 1094.7h0M1984.7 1095.5h0M1985.2 1104.2h0M1985.7 1086.4h0M1986.2 1104.6h0M1986.7 1090.7h0M1987.2 1107.7h0M1987.7 1085.7h0M1988.2 1104.5h0M1988.7 1088.1h0M1989.2 1109.5h0M1989.7 1099.5h0M1990.2 1085.4h0M1990.7 1102.9h0M1991.2 1095.3h0M1991.7 1100.2h0M1992.2 1116.3h0M1992.7 1093.5h0M1993.2 1092.5h0M1993.7 1106h0M1994.2 1091.4h0M1994.7 1103.5h0M1995.2 1105.4h0M1995.6 1096.6h0M1996.1 1102.7h0M1996.6 1076.9h0M1997.1 1110.5h0M1997.6 1090.7h0M1998.1 1088.6h0M1998.6 1114.5h0M1999.1 1112.4h0M1999.6 1092.6h0M2000.1 1101.8h0M2000.6 1094.4h0M2001.1 1087.9h0M2001.6 1101.1h0M2002.1 1107.2h0M2002.6 1121.8h0M2003.1 1096.4h0M2003.6 1106.4h0M2004.1 1095.7h0M2004.6 1096.5h0M2005.1 1110.6h0M2005.6 1083.9h0M2006.1 1089.5h0M2006.6 1091.7h0M2007 1109.3h0M2007.5 1102.7h0M2008 1104h0M2008.5 1103h0M2009 1109.2h0M2009.5 1095.9h0M2010 1097.8h0M2010.5 1096.7h0M2011 1104.3h0M2011.5 1089h0M2012 1098.6h0M2012.5 1123.9h0M2013 1105.9h0M2013.5 1101h0M2014 1092.4h0M2014.5 1103.3h0M2015 1103h0M2015.5 1106.7h0M2016 1095.4h0M2016.5 1105h0M2017 1106.5h0M2017.5 1107.8h0M2017.9 1096.8h0M2018.4 1106.2h0M2018.9 1116.1h0M2019.4 1096.5h0M2019.9 1108h0M2020.4 1099h0M2020.9 1099h0M2021.4 1092h0M2021.9 1093.5h0M2022.4 1107.4h0M2022.9 1104h0M2023.4 1113.7h0M2023.9 1088.5h0M2024.4 1099.1h0M2024.9 1091.1h0M2025.4 1105.8h0M2025.9 1120.6h0M2026.4 1090.2h0M2026.9 1102.6h0M2027.4 1102.3h0M2027.9 1103.1h0M2028.4 1098.2h0M2028.8 1099.2h0M2029.3 1117.4h0M2029.8 1094.7h0M2030.3 1108.5h0M2030.8 1108.1h0M2031.3 1089.5h0M2031.8 1096.4h0M2032.3 1107.2h0M2032.8 1120.2h0M2033.3 1103.1h0M2033.8 1100h0M2034.3 1105.3h0M2034.8 1115.3h0M2035.3 1111.5h0M2035.8 1115.5h0M2036.3 1103.1h0M2036.8 1098h0M2037.3 1096.4h0M2037.8 1111.3h0M2038.3 1103.2h0M2038.8 1100.6h0M2039.3 1109.6h0M2039.8 1106.6h0M2040.2 1087.5h0M2040.7 1103.7h0M2041.2 1098.1h0M2041.7 1109.3h0M2042.2 1105.3h0M2042.7 1120.2h0M2043.2 1106h0M2043.7 1095.7h0M2044.2 1088.1h0M2044.7 1095.8h0M2045.2 1100.1h0M2045.7 1105.5h0M2046.2 1111.1h0M2046.7 1107.4h0M2047.2 1100.9h0M2047.7 1112.7h0M2048.2 1098.3h0M2048.7 1114.5h0M2049.2 1121.2h0M2049.7 1114.7h0M2050.2 1120.3h0M2050.7 1117.8h0M2051.1 1096.7h0M2051.6 1108h0M2052.1 1104.5h0M2052.6 1096.6h0M2053.1 1095.7h0M2053.6 1110.6h0M2054.1 1095.2h0M2054.6 1103.2h0M2055.1 1106.4h0M2055.6 1102.7h0M2056.1 1118.5h0M2056.6 1113.1h0M2057.1 1107.4h0M2057.6 1101.4h0M2058.1 1109.7h0M2058.6 1107.6h0M2059.1 1098.4h0M2059.6 1094.7h0M2060.1 1100.2h0M2060.6 1096h0M2061.1 1110h0M2061.6 1109.2h0M2062.1 1104h0M2062.5 1109.2h0M2063 1111h0M2063.5 1092.8h0M2064 1108.4h0M2064.5 1114.9h0M2065 1102.7h0M2065.5 1091.4h0M2066 1106.1h0M2066.5 1096.5h0M2067 1110.5h0M2067.5 1111h0M2068 1112.6h0M2068.5 1108.1h0M2069 1091.5h0M2069.5 1116.6h0M2070 1093.2h0M2070.5 1115.4h0M2071 1108.9h0M2071.5 1099.9h0M2072 1101.7h0M2072.5 1104.6h0M2073 1120.8h0M2073.4 1104h0M2073.9 1115.6h0M2074.4 1085.5h0M2074.9 1108.8h0M2075.4 1105.5h0M2075.9 1116.7h0M2076.4 1111.1h0M2076.9 1117.9h0M2077.4 1098.9h0M2077.9 1109.3h0M2078.4 1102.4h0M2078.9 1112.8h0M2079.4 1111.3h0M2079.9 1096.4h0M2080.4 1115.3h0M2080.9 1122.2h0M2081.4 1103.8h0M2081.9 1116.7h0M2082.4 1110.8h0M2082.9 1099.6h0M2083.4 1114h0M2083.9 1099.8h0M2084.4 1112.9h0M2084.8 1094.7h0M2085.3 1096.1h0M2085.8 1111.2h0M2086.3 1109h0M2086.8 1114.2h0M2087.3 1105.6h0M2087.8 1097.6h0M2088.3 1119.3h0M2088.8 1099.6h0M2089.3 1118.3h0M2089.8 1114.4h0M2090.3 1122.2h0M2090.8 1089.7h0M2091.3 1106.8h0M2091.8 1105.2h0M2092.3 1112.9h0M2092.8 1098.4h0M2093.3 1124.9h0M2093.8 1107.1h0M2094.3 1088.9h0M2094.8 1110.5h0M2095.3 1107.2h0M2095.7 1101.7h0M2096.2 1114.1h0M2096.7 1107.1h0M2097.2 1099.3h0M2097.7 1105.7h0M2098.2 1104.3h0M2098.7 1110.3h0M2099.2 1104.7h0M2099.7 1106.9h0M2100.2 1095.2h0M2100.7 1101.3h0M2101.2 1109.4h0M2101.7 1127.8h0M2102.2 1101.4h0M2102.7 1101.1h0M2103.2 1115.1h0M2103.7 1124.1h0M2104.2 1116.9h0M2104.7 1099.7h0M2105.2 1116.3h0M2105.7 1111.3h0M2106.2 1105.6h0M2106.7 1097.2h0M2107.1 1107.6h0M2107.6 1108.3h0M2108.1 1112h0M2108.6 1093.8h0M2109.1 1098.6h0M2109.6 1108.2h0M2110.1 1119.1h0M2110.6 1114.1h0M2111.1 1102.6h0M2111.6 1113.5h0M2112.1 1100h0M2112.6 1104.5h0M2113.1 1105h0M2113.6 1102h0M2114.1 1103.3h0M2114.6 1114.6h0M2115.1 1110.2h0M2115.6 1088h0M2116.1 1117.6h0M2116.6 1111.4h0M2117.1 1098.6h0M2117.6 1108.8h0M2118 1114.3h0M2118.5 1118.5h0M2119 1103h0M2119.5 1099h0M2120 1095.8h0M2120.5 1107h0M2121 1098.8h0M2121.5 1116.1h0M2122 1106.1h0M2122.5 1113.1h0M2123 1106h0M2123.5 1101.2h0" stroke="#fe0000" stroke-width="11.4" stroke-linecap="round" fill="none"/>
<path d="M141.3 833 143.3 834 145.3 835 147.3 836 149.3 837 151.3 838.1 153.3 839.1 155.3 840.1 157.3 841.1 159.3 842.1 161.3 843.1 163.3 844.2 165.3 845.2 167.3 846.2 169.3 847.2 171.3 848.3 173.3 849.3 175.3 850.3 177.3 851.3 179.3 852.4 181.3 853.4 183.3 854.4 185.3 855.5 187.3 856.5 189.3 857.5 191.3 858.6 193.3 859.6 195.3 860.6 197.3 861.7 199.3 862.7 200.4 863.3 201.3 863.5 203.3 863.8 205.3 864.2 207.3 864.5 209.3 864.8 211.3 865.2 213.3 865.5 215.3 865.8 217.3 866.1 219.3 866.4 221.3 866.6 223.3 866.9 225.3 867.1 227.3 867.3 229.3 867.5 231.3 867.7 233.3 867.9 235.3 868.1 237.3 868.3 239.3 868.5 241.3 868.6 243.3 868.8 245.3 869 247.3 869.1 249.3 869.3 251.3 869.4 253.3 869.5 255.3 869.6 257.3 869.7 259.3 869.8 261.3 869.8 263.3 869.8 265.3 869.8 267.3 869.7 269.3 869.6 271.3 869.5 273.3 869.4 275.3 869.3 277.3 869.1 279.3 868.9 281.3 868.8 283.3 868.6 285.3 868.4 287.3 868.1 289.3 867.8 291.3 867.5 293.3 867.1 295.3 866.6 297.3 866.1 299.3 865.6 301.3 865 303.3 864.4 305.3 863.7 307.3 862.9 309.3 862 311.3 861 313.3 859.9 315.3 858.8 317.3 857.5 319.3 856.3 321.3 854.9 323.3 853.5 325.3 852.1 327.3 850.5 329.3 848.7 331.3 846.9 333.3 844.9 335.3 842.8 337.3 840.7 339.3 838.4 341.3 836.2 343.3 833.9 345.3 831.5 347.3 829.1 349.3 826.6 351.3 824 353.3 821.3 355.3 818.5 357.3 815.7 359.3 812.7 361.3 809.6 363.3 806.4 365.3 803.1 367.3 799.6 369.3 796 371.3 792.1 373.3 788.1 375.3 783.9 377.3 779.4 379.3 774.8 381.3 769.8 383.3 764.5 385.3 758.8 387.3 752.9 389.3 746.8 391.3 740.5 393.3 733.9 395.3 726.9 397.3 719.7 399.3 712.2 401.3 704.5 403.3 696.6 405.3 688.3 407.3 679.8 409.3 671.2 411.3 662.5 413.3 653.8 415.3 644.9 417.3 636 419.3 626.8 421.3 617.7 423.3 608.5 425.3 597.6 427.3 582.9 429.3 567 431.3 553.8 433.3 542.5 435.3 532.2 437.3 522.5 439.3 513.1 441.3 503.9 443.3 494.4 445.3 484.4 447.3 474 449.3 463.4 451.3 452.8 453.3 442.2 455.3 431.7 457.3 421.5 459.3 411.5 461.3 402.1 463.3 393.1 465.3 384.4 467.3 375.7 469.3 366.8 471.3 357.3 473.3 347.2 475.3 335 477.3 323.2 479.3 314.6 481.3 307.3 483.3 300.7 485.3 294.4 487.3 288.1 489.3 282.1 491.3 276.6 493.3 271.7 495.3 267.2 497.3 263.1 499.3 260 501.3 258.2 503.3 256.8 505.3 255.7 507.3 255.3 509.3 255.9 511.3 257.6 513.3 259.9 515.3 263.2 517.3 268.6 519.3 274.8 521.3 281.8 523.3 290.1 525.3 299.2 527.3 309.7 529.3 321 531.3 332.2 533.3 343.6 535.3 355.6 537.3 368.8 539.3 383.5 541.3 399.3 543.3 415.3 545.3 430.7 547.3 445.4 549.3 459.9 551.3 474.4 553.3 489.1 555.3 504.4 557.3 520.2 559.3 536 561.3 551.4 563.3 565.4 565.3 579.2 567.3 599 569.3 622.5 571.3 644 573.3 662.9 575.3 681 577.3 698.8 579.3 716.9 581.3 734.7 583.3 751.5 585.3 766.5 587.3 780.3 589.3 793.4 591.3 805.9 593.3 818.3 595.3 830.5 597.3 842.5 599.3 854.1 601.3 865.1 603.3 875.3 605.3 884.7 607.3 893.6 609.3 902 611.3 910.2 613.3 918.2 615.3 926.2 617.3 934.2 619.3 942 621.3 949.2 623.3 955.9 625.3 961.8 627.3 967.3 629.3 972.4 631.3 977.3 633.3 981.8 635.3 986.2 637.3 990.3 639.3 994.4 641.3 998.4 643.3 1002.1 645.3 1005.7 647.3 1008.9 649.3 1011.9 651.3 1014.6 653.3 1017.1 655.3 1019.5 657.3 1021.7 659.3 1023.9 661.3 1025.9 663.3 1027.8 665.3 1029.6 667.3 1031.3 669.3 1032.8 671.3 1034.2 673.3 1035.5 675.3 1036.8 677.3 1038 679.3 1039.1 681.3 1040.2 683.3 1041.3 685.3 1042.3 687.3 1043.2 689.3 1044.1 691.3 1045 693.3 1045.9 695.3 1046.7 697.3 1047.5 699.3 1048.2 701.3 1049 703.3 1049.7 705.3 1050.4 707.3 1051.1 709.3 1051.7 711.3 1052.4 713.3 1053 715.3 1053.6 717.3 1054.2 719.3 1054.7 721.3 1055.3 723.3 1055.8 725.3 1056.4 727.3 1056.9 729.3 1057.4 731.3 1057.9 733.3 1058.4 735.3 1059 737.3 1059.5 739.3 1060 741.3 1060.5 743.3 1061 745.3 1061.5 747.3 1062 749.3 1062.5 751.3 1063 753.3 1063.4 755.3 1063.9 757.3 1064.3 759.3 1064.8 761.3 1065.2 763.3 1065.7 765.3 1066.1 766.8 1066.4 767.3 1066.4 769.3 1066.2 771.3 1066.1 773.3 1065.9 775.3 1065.8 777.3 1065.6 779.3 1065.4 781.3 1065.2 783.3 1065 785.3 1064.7 787.3 1064.5 789.3 1064.2 791.3 1064 793.3 1063.7 795.3 1063.4 797.3 1063.1 799.3 1062.8 801.3 1062.5 803.3 1062.1 805.3 1061.8 807.3 1061.4 809.3 1061 811.3 1060.6 813.3 1060.1 815.3 1059.7 817.3 1059.2 819.3 1058.8 821.3 1058.3 823.3 1057.8 825.3 1057.4 827.3 1056.9 829.3 1056.4 831.3 1055.8 833.3 1055.3 835.3 1054.7 837.3 1054.2 839.3 1053.6 841.3 1053 843.3 1052.3 845.3 1051.7 847.3 1051 849.3 1050.3 851.3 1049.6 853.3 1048.9 855.3 1048.1 857.3 1047.3 859.3 1046.5 861.3 1045.6 863.3 1044.7 865.3 1043.8 867.3 1042.8 869.3 1041.8 871.3 1040.8 873.3 1039.7 875.3 1038.6 877.3 1037.5 879.3 1036.4 881.3 1035.2 883.3 1034 885.3 1032.8 887.3 1031.5 889.3 1030.1 891.3 1028.7 893.3 1027.3 895.3 1025.8 897.3 1024.2 899.3 1022.7 901.3 1021.1 903.3 1019.5 905.3 1017.9 907.3 1016.2 909.3 1014.6 911.3 1013 913.3 1011.4 915.3 1009.8 917.3 1008.1 919.3 1006.5 921.3 1004.8 923.3 1003.1 925.3 1001.3 927.3 999.6 929.3 997.9 931.3 996.1 933.3 994.4 935.3 992.6 937.3 990.9 939.3 989.2 941.3 987.5 943.3 985.9 945.3 984.2 947.3 982.4 949.3 980.6 951.3 978.8 953.3 977.1 955.3 975.3 957.3 973.7 959.3 972.1 961.3 970.6 963.3 969.2 965.3 968 967.3 966.9 969.3 965.7 971.3 964.7 973.3 963.6 975.3 962.6 977.3 961.7 979.3 960.8 981.3 960.1 983.3 959.5 985.3 959 987.3 958.7 989.3 958.3 991.3 958.1 993.3 957.9 995.3 957.9 997.3 958.1 999.3 958.5 1001.3 959 1003.3 959.6 1005.3 960.4 1007.3 961.2 1009.3 962.1 1011.3 963 1013.3 964 1015.3 965.2 1017.3 966.7 1019.3 968.4 1021.3 970.2 1023.3 972 1025.3 974 1027.3 975.9 1029.3 977.9 1031.3 979.9 1033.3 982.1 1035.3 984.3 1037.3 986.7 1039.3 989 1041.3 991.4 1043.3 993.8 1045.3 996.2 1047.3 998.5 1049.3 1000.7 1051.3 1003 1053.3 1005.2 1055.3 1007.5 1057.3 1009.8 1059.3 1012 1061.3 1014.3 1063.3 1016.4 1065.3 1018.5 1067.3 1020.5 1069.3 1022.4 1071.3 1024.2 1073.3 1025.8 1075.3 1027.5 1077.3 1029.1 1079.3 1030.6 1081.3 1032.1 1083.3 1033.5 1085.3 1034.9 1087.3 1036.2 1089.3 1037.4 1091.3 1038.6 1093.3 1039.6 1095.3 1040.6 1097.3 1041.5 1099.3 1042.5 1101.3 1043.4 1103.3 1044.3 1105.3 1045.1 1107.3 1045.9 1109.3 1046.6 1111.3 1047.2 1113.3 1047.7 1115.3 1048.1 1117.3 1048.4 1119.3 1048.5 1121.3 1048.7 1123.3 1048.8 1125.3 1048.9 1127.3 1049 1129.3 1049 1131.3 1049.1 1133.3 1049.2 1135.3 1049.2 1137.3 1049.3 1139.3 1049.4 1141.3 1049.4 1143.3 1049.5 1145.3 1049.6 1147.3 1049.6 1149.3 1049.7 1151.3 1049.7 1153.3 1049.8 1155.3 1049.8 1157.3 1049.9 1159.3 1049.9 1161.3 1050 1163.3 1050 1165.3 1050.1 1167.3 1050.2 1169.3 1050.3 1171.3 1050.4 1173.3 1050.5 1175.3 1050.7 1177.3 1050.9 1179.3 1051.2 1181.3 1051.6 1183.3 1052 1185.3 1052.4 1187.3 1052.8 1189.3 1053.3 1191.3 1053.8 1193.3 1054.3 1195.3 1054.8 1197.3 1055.3 1199.3 1055.8 1201.3 1056.3 1203.3 1056.8 1205.3 1057.3 1207.3 1057.9 1209.3 1058.5 1211.3 1059.1 1213.3 1059.7 1215.3 1060.3 1217.3 1060.9 1219.3 1061.6 1221.3 1062.2 1223.3 1062.9 1225.3 1063.5 1227.3 1064.1 1229.3 1064.7 1231.3 1065.3 1233.3 1066 1235.3 1066.6 1237.3 1067.2 1239.3 1067.8 1241.3 1068.4 1243.3 1069.1 1245.3 1069.7 1247.3 1070.3 1249.3 1070.9 1251.3 1071.5 1253.3 1072.1 1255.3 1072.6 1257.3 1073.2 1259.3 1073.7 1261.3 1074.2 1263.3 1074.7 1265.3 1075.2 1267.3 1075.7 1269.3 1076.2 1271.3 1076.7 1273.3 1077.1 1275.3 1077.6 1277.3 1078.1 1279.3 1078.5 1281.3 1079 1283.3 1079.4 1285.3 1079.9 1287.3 1080.3 1289.3 1080.8 1291.3 1081.2 1293.3 1081.6 1295.3 1082.1 1297.3 1082.5 1299.3 1083 1301.3 1083.4 1303.3 1083.9 1305.3 1084.3 1307.3 1084.8 1309.3 1085.2 1311.3 1085.7 1313.3 1086.1 1315.3 1086.5 1317.3 1087 1319.3 1087.4 1321.3 1087.9 1323.3 1088.3 1325.3 1088.7 1327.3 1089.2 1329.3 1089.6 1331.3 1090 1333.3 1090.4 1335.3 1090.8 1337.3 1091.2 1339.3 1091.6 1341.3 1092 1343.3 1092.3 1345.3 1092.7 1347.3 1093 1349.3 1093.4 1351.3 1093.7 1353.3 1094.1 1355.3 1094.4 1357.3 1094.8 1359.3 1095.1 1361.3 1095.4 1363.3 1095.8 1365.3 1096.1 1367.3 1096.4 1369.3 1096.7 1371.3 1097 1373.3 1097.3 1375.3 1097.6 1377.3 1097.8 1379.3 1098.1 1381.3 1098.4 1383.3 1098.6 1385.3 1098.9 1387.3 1099.1 1389.3 1099.3 1391.3 1099.5 1393.3 1099.7 1395.3 1099.9 1397.3 1100.1 1399.3 1100.3 1401.3 1100.5 1403.3 1100.7 1405.3 1100.9 1407.3 1101.1 1409.3 1101.3 1411.3 1101.5 1413.3 1101.6 1415.3 1101.8 1417.3 1101.9 1419.3 1102.1 1421.3 1102.2 1423.3 1102.4 1425.3 1102.5 1427.3 1102.7 1429.3 1102.8 1431.3 1102.9 1433.3 1103 1435.3 1103.1 1437.3 1103.2 1439.3 1103.3 1441.3 1103.4 1443.3 1103.5 1445.3 1103.6 1447.3 1103.7 1449.3 1103.8 1451.3 1103.9 1453.3 1104 1455.3 1104.1 1457.3 1104.1 1459.3 1104.2 1461.3 1104.3 1463.3 1104.4 1465.3 1104.5 1467.3 1104.6 1469.3 1104.7 1471.3 1104.7 1473.3 1104.8 1475.3 1104.9 1477.3 1105 1479.3 1105.1 1481.3 1105.2 1483.3 1105.3 1485.3 1105.4 1487.3 1105.5 1489.3 1105.6 1491.3 1105.7 1493.3 1105.8 1495.3 1105.9 1497.3 1106 1499.3 1106.1 1501.3 1106.2 1503.3 1106.3 1505.3 1106.4 1507.3 1106.5 1509.3 1106.6 1511.3 1106.7 1513.3 1106.7 1515.3 1106.8 1517.3 1106.9 1519.3 1107 1521.3 1107.1 1523.3 1107.2 1525.3 1107.3 1527.3 1107.4 1529.3 1107.5 1531.3 1107.5 1533.3 1107.6 1535.3 1107.7 1537.3 1107.8 1539.3 1107.9 1541.3 1108 1543.3 1108.1 1545.3 1108.2 1547.3 1108.3 1549.3 1108.4 1551.3 1108.4 1553.3 1108.5 1555.3 1108.6 1557.3 1108.7 1559.3 1108.8 1561.3 1108.8 1563.3 1108.9 1565.3 1109 1567.3 1109.1 1569.3 1109.1 1571.3 1109.2 1573.3 1109.2 1575.3 1109.3 1577.3 1109.4 1579.3 1109.4 1581.3 1109.5 1583.3 1109.5 1585.3 1109.5 1587.3 1109.6 1589.3 1109.6 1591.3 1109.7 1593.3 1109.7 1595.3 1109.7 1597.3 1109.8 1599.3 1109.8 1601.3 1109.8 1603.3 1109.9 1605.3 1109.9 1607.3 1110 1609.3 1110 1611.3 1110 1613.3 1110 1615.3 1110.1 1617.3 1110.1 1619.3 1110.1 1621.3 1110.1 1623.3 1110.2 1625.3 1110.2 1627.3 1110.2 1629.3 1110.2 1631.3 1110.2 1633.3 1110.2 1635.3 1110.2 1637.3 1110.2 1639.3 1110.2 1641.3 1110.2 1643.3 1110.1 1645.3 1110.1 1647.3 1110.1 1649.3 1110 1651.3 1110 1653.3 1109.9 1655.3 1109.9 1657.3 1109.8 1659.3 1109.8 1661.3 1109.7 1663.3 1109.7 1665.3 1109.6 1667.3 1109.5 1669.3 1109.5 1671.3 1109.4 1673.3 1109.3 1675.3 1109.2 1677.3 1109.2 1679.3 1109.1 1681.3 1109 1683.3 1108.9 1685.3 1108.8 1687.3 1108.7 1689.3 1108.6 1691.3 1108.5 1693.3 1108.4 1695.3 1108.2 1697.3 1108.1 1699.3 1107.9 1701.3 1107.7 1703.3 1107.6 1705.3 1107.4 1707.3 1107.2 1709.3 1107 1711.3 1106.8 1713.3 1106.5 1715.3 1106.3 1717.3 1106.1 1719.3 1105.9 1721.3 1105.7 1723.3 1105.4 1725.3 1105.2 1727.3 1105 1729.3 1104.7 1731.3 1104.5 1733.3 1104.3 1735.3 1104 1737.3 1103.8 1739.3 1103.5 1741.3 1103.3 1743.3 1103 1745.3 1102.7 1747.3 1102.5 1749.3 1102.2 1751.3 1101.9 1753.3 1101.6 1755.3 1101.3 1757.3 1101 1759.3 1100.7 1761.3 1100.3 1763.3 1100 1765.3 1099.7 1767.3 1099.4 1769.3 1099.1 1771.3 1098.8 1773.3 1098.5 1775.3 1098.2 1777.3 1097.9 1779.3 1097.6 1781.3 1097.3 1783.3 1097 1785.3 1096.7 1787.3 1096.4 1789.3 1096.1 1791.3 1095.8 1793.3 1095.5 1795.3 1095.2 1797.3 1094.9 1799.3 1094.6 1801.3 1094.3 1803.3 1094 1805.3 1093.7 1807.3 1093.4 1809.3 1093.1 1811.3 1092.8 1813.3 1092.5 1815.3 1092.2 1817.3 1092 1819.3 1091.7 1821.3 1091.5 1823.3 1091.2 1825.3 1091 1827.3 1090.8 1829.3 1090.6 1831.3 1090.4 1833.3 1090.3 1835.3 1090.1 1837.3 1090 1839.3 1089.8 1841.3 1089.7 1843.3 1089.5 1845.3 1089.4 1847.3 1089.3 1849.3 1089.1 1851.3 1089 1853.3 1088.9 1855.3 1088.8 1857.3 1088.7 1859.3 1088.6 1861.3 1088.5 1863.3 1088.4 1865.3 1088.3 1867.3 1088.3 1869.3 1088.2 1871.3 1088.2 1873.3 1088.2 1875.3 1088.2 1877.3 1088.2 1879.3 1088.3 1881.3 1088.3 1883.3 1088.4 1885.3 1088.5 1887.3 1088.6 1889.3 1088.8 1891.3 1088.9 1893.3 1089 1895.3 1089.2 1897.3 1089.4 1899.3 1089.6 1901.3 1089.8 1903.3 1090 1905.3 1090.2 1907.3 1090.4 1909.3 1090.6 1911.3 1090.8 1913.3 1091 1915.3 1091.2 1917.3 1091.5 1919.3 1091.7 1921.3 1092 1923.3 1092.3 1925.3 1092.6 1927.3 1092.9 1929.3 1093.3 1931.3 1093.7 1933.3 1094 1935.3 1094.4 1937.3 1094.8 1939.3 1095.3 1941.3 1095.7 1943.3 1096.1 1945.3 1096.5 1947.3 1096.8 1949.3 1097.2 1951.3 1097.6 1953.3 1097.9 1955.3 1098.2 1957.3 1098.6 1959.3 1098.9 1961.3 1099.3 1963.3 1099.7 1965.3 1100 1967.3 1100.3 1969.3 1100.7 1971.3 1101 1973.3 1101.3 1975.3 1101.6 1977.3 1101.9 1979.3 1102.2 1981.3 1102.5 1983.3 1102.8 1985.3 1103 1987.3 1103.2 1989.3 1103.5 1991.3 1103.7 1993.3 1103.9 1995.3 1104.2 1997.3 1104.4 1999.3 1104.6 2001.3 1104.8 2003.3 1105 2005.3 1105.2 2007.3 1105.4 2009.3 1105.6 2011.3 1105.8 2013.3 1106 2015.3 1106.2 2017.3 1106.3 2019.3 1106.5 2021.3 1106.7 2023.3 1106.8 2025.3 1107 2027.3 1107.1 2029.3 1107.2 2031.3 1107.3 2033.3 1107.4 2035.3 1107.5 2037.3 1107.6 2039.3 1107.7 2041.3 1107.8 2043.3 1107.9 2045.3 1108 2047.3 1108.1 2049.3 1108.2 2051.3 1108.3 2053.3 1108.4 2055.3 1108.4 2057.3 1108.5 2059.3 1108.6 2061.3 1108.6 2063.3 1108.7 2065.3 1108.8 2067.3 1108.8 2069.3 1108.9 2071.3 1108.9 2073.3 1109 2075.3 1109 2077.3 1109.1 2079.3 1109.1 2081.3 1109.2 2083.3 1109.2 2085.3 1109.2 2087.3 1109.2 2089.3 1109.3 2091.3 1109.3 2093.3 1109.3 2095.3 1109.3 2097.3 1109.3 2099.3 1109.4 2101.3 1109.4 2103.3 1109.4 2105.3 1109.4 2107.3 1109.4 2109.3 1109.4 2111.3 1109.5 2113.3 1109.5 2115.3 1109.5 2117.3 1109.5 2119.3 1109.5 2121.3 1109.5 2123.3 1109.5" stroke="#000" stroke-width="2.4" fill="none" stroke-linejoin="round"/>
<path d="M141.3 1411.9 141.8 1407.4 142.3 1420.4 142.8 1434.3 143.3 1426.9 143.8 1439.1 144.3 1419.4 144.8 1395 145.3 1433 145.8 1436.8 146.3 1415.7 146.8 1419.4 147.2 1425.5 147.7 1447.1 148.2 1430 148.7 1416.4 149.2 1458 149.7 1441.2 150.2 1470.9 150.7 1459.5 151.2 1471.4 151.7 1440.2 152.2 1461.5 152.7 1431.6 153.2 1434.6 153.7 1442.2 154.2 1489.2 154.7 1450.4 155.2 1441.2 155.7 1438.5 156.2 1471.5 156.7 1451 157.2 1461.2 157.7 1458 158.1 1421 158.6 1458.1 159.1 1442.8 159.6 1424.7 160.1 1453.9 160.6 1444.7 161.1 1440.3 161.6 1441.3 162.1 1466.9 162.6 1441.2 163.1 1416 163.6 1473.5 164.1 1426 164.6 1440.7 165.1 1455.8 165.6 1403.7 166.1 1428.2 166.6 1466.9 167.1 1441.9 167.6 1432.1 168.1 1447.2 168.6 1430.1 169.1 1444.9 169.5 1430.5 170 1415.4 170.5 1457 171 1439.8 171.5 1452.9 172 1441.4 172.5 1467.2 173 1455.4 173.5 1447.9 174 1426.5 174.5 1421.7 175 1470.1 175.5 1459.8 176 1431.6 176.5 1483.2 177 1453.4 177.5 1446.3 178 1419.8 178.5 1431 179 1450.8 179.5 1451.7 180 1449.4 180.4 1414.9 180.9 1452.9 181.4 1450.5 181.9 1437.8 182.4 1447 182.9 1448.5 183.4 1466.4 183.9 1445 184.4 1453.4 184.9 1422.1 185.4 1432.1 185.9 1445.3 186.4 1431.9 186.9 1451.4 187.4 1424.5 187.9 1445 188.4 1433.6 188.9 1469.9 189.4 1438.2 189.9 1477.6 190.4 1484.3 190.9 1450.8 191.4 1462.3 191.8 1441.8 192.3 1401.6 192.8 1461 193.3 1457 193.8 1441 194.3 1435.5 194.8 1448.4 195.3 1449 195.8 1431.5 196.3 1435 196.8 1464.9 197.3 1446.5 197.8 1444.3 198.3 1465.2 198.8 1440 199.3 1461.4 199.8 1426.3 200.3 1441.3 200.8 1443.2 201.3 1456.3 201.8 1447.2 202.3 1483.2 202.7 1466.6 203.2 1437.9 203.7 1485.6 204.2 1428.6 204.7 1478.2 205.2 1430.3 205.7 1460.9 206.2 1429.8 206.7 1442.2 207.2 1474 207.7 1420.7 208.2 1417 208.7 1445.8 209.2 1449.7 209.7 1447.5 210.2 1463 210.7 1423.3 211.2 1454.7 211.7 1445.2 212.2 1459.4 212.7 1456.1 213.2 1468.5 213.7 1420 214.1 1446.9 214.6 1425.5 215.1 1443.6 215.6 1457.1 216.1 1450 216.6 1454.4 217.1 1443.5 217.6 1450.7 218.1 1449.2 218.6 1469.7 219.1 1458.8 219.6 1411.8 220.1 1456 220.6 1463.3 221.1 1436.7 221.6 1416.2 222.1 1470.7 222.6 1446.9 223.1 1454.9 223.6 1476.3 224.1 1428.7 224.6 1443 225 1441.1 225.5 1456.8 226 1433.7 226.5 1452.5 227 1444.9 227.5 1463.2 228 1465.2 228.5 1416.5 229 1451.5 229.5 1436.2 230 1442.3 230.5 1450 231 1451.2 231.5 1429.4 232 1447.1 232.5 1444.1 233 1440.7 233.5 1418.7 234 1428 234.5 1433.6 235 1451.5 235.5 1467 236 1422.5 236.4 1422.1 236.9 1443.1 237.4 1430 237.9 1425.3 238.4 1424.3 238.9 1422.5 239.4 1448.6 239.9 1411 240.4 1463.4 240.9 1423.2 241.4 1430.1 241.9 1422.8 242.4 1403.6 242.9 1411 243.4 1460.9 243.9 1471.1 244.4 1423.4 244.9 1458.1 245.4 1439 245.9 1422.7 246.4 1469.7 246.9 1478.5 247.3 1433.4 247.8 1437.4 248.3 1442.8 248.8 1437.3 249.3 1454.3 249.8 1466.5 250.3 1440.9 250.8 1456.1 251.3 1468.7 251.8 1427.8 252.3 1438.5 252.8 1429.5 253.3 1455.9 253.8 1449.5 254.3 1455.9 254.8 1453.6 255.3 1433 255.8 1451.5 256.3 1429.8 256.8 1430 257.3 1397.9 257.8 1462.6 258.2 1419.3 258.7 1437.7 259.2 1436.2 259.7 1463.3 260.2 1444.5 260.7 1421.5 261.2 1437.1 261.7 1433.9 262.2 1440.9 262.7 1413.4 263.2 1435.6 263.7 1476.8 264.2 1448.1 264.7 1472.2 265.2 1496.4 265.7 1444.7 266.2 1409.3 266.7 1433.6 267.2 1456.6 267.7 1452.1 268.2 1412.7 268.7 1431.1 269.2 1433.1 269.6 1434.9 270.1 1433 270.6 1418.4 271.1 1423.1 271.6 1429.3 272.1 1453.1 272.6 1423.5 273.1 1446.1 273.6 1412.2 274.1 1457 274.6 1435.4 275.1 1432.8 275.6 1457.7 276.1 1399.7 276.6 1404.6 277.1 1441 277.6 1417.4 278.1 1424.7 278.6 1481.4 279.1 1426.9 279.6 1432.7 280.1 1429.9 280.5 1451.8 281 1436.3 281.5 1434.5 282 1408.4 282.5 1424.5 283 1430.8 283.5 1401.5 284 1441 284.5 1437.7 285 1464.7 285.5 1400.2 286 1411.6 286.5 1412.4 287 1417 287.5 1427.4 288 1425.3 288.5 1434.1 289 1433 289.5 1428 290 1400.1 290.5 1418.2 291 1429.7 291.5 1439.5 291.9 1440.4 292.4 1397.7 292.9 1418.4 293.4 1426.6 293.9 1434.4 294.4 1448.8 294.9 1428.8 295.4 1410.7 295.9 1434.7 296.4 1431.4 296.9 1431.2 297.4 1424.7 297.9 1457.1 298.4 1431.1 298.9 1442.7 299.4 1409.4 299.9 1440.9 300.4 1415 300.9 1396.7 301.4 1431.7 301.9 1437.1 302.4 1421.8 302.8 1425.3 303.3 1444.2 303.8 1416.2 304.3 1386.3 304.8 1429.7 305.3 1428.5 305.8 1444.5 306.3 1418.2 306.8 1448.1 307.3 1445.3 307.8 1399.4 308.3 1441.2 308.8 1402.9 309.3 1394.2 309.8 1418.4 310.3 1412.6 310.8 1385.5 311.3 1426.7 311.8 1434.2 312.3 1448.7 312.8 1421.7 313.3 1393.9 313.8 1403.8 314.2 1440.3 314.7 1438.5 315.2 1431.6 315.7 1416.1 316.2 1425.5 316.7 1417.3 317.2 1415.6 317.7 1427 318.2 1421.8 318.7 1416.9 319.2 1422.4 319.7 1410.9 320.2 1384.2 320.7 1408.9 321.2 1419.2 321.7 1452.9 322.2 1412.4 322.7 1457.7 323.2 1447.2 323.7 1402.9 324.2 1405.7 324.7 1422.3 325.1 1452.6 325.6 1426.3 326.1 1432.2 326.6 1406.4 327.1 1374.5 327.6 1414.3 328.1 1433.7 328.6 1441.3 329.1 1419.3 329.6 1421.6 330.1 1440.6 330.6 1415.6 331.1 1440.4 331.6 1395.7 332.1 1396.5 332.6 1395.9 333.1 1426.5 333.6 1406.9 334.1 1419.5 334.6 1424.5 335.1 1423.3 335.6 1442.2 336.1 1445 336.5 1400.4 337 1419.8 337.5 1411.6 338 1395.8 338.5 1450.1 339 1431 339.5 1411.8 340 1407.3 340.5 1422.5 341 1394.2 341.5 1410.4 342 1438.8 342.5 1433 343 1398 343.5 1404.7 344 1452.1 344.5 1386.6 345 1401.6 345.5 1386.4 346 1421.1 346.5 1419.1 347 1435.8 347.4 1361.6 347.9 1416.3 348.4 1380.5 348.9 1425.7 349.4 1409.1 349.9 1446.3 350.4 1420 350.9 1392 351.4 1437.5 351.9 1390 352.4 1404.9 352.9 1433 353.4 1421.9 353.9 1420.9 354.4 1412.5 354.9 1422.4 355.4 1428.3 355.9 1417.5 356.4 1432.3 356.9 1437.7 357.4 1412.1 357.9 1392.8 358.4 1442.6 358.8 1410.9 359.3 1424.5 359.8 1431.3 360.3 1393.3 360.8 1421.8 361.3 1379.9 361.8 1427.3 362.3 1403 362.8 1415.9 363.3 1427 363.8 1399 364.3 1414.6 364.8 1398.8 365.3 1412.5 365.8 1434.4 366.3 1413.9 366.8 1410.8 367.3 1391.8 367.8 1431.2 368.3 1413.1 368.8 1448.8 369.3 1398.8 369.7 1435.7 370.2 1451.3 370.7 1414.3 371.2 1389.7 371.7 1445.9 372.2 1436.9 372.7 1429.7 373.2 1438.2 373.7 1406.1 374.2 1431.8 374.7 1430.2 375.2 1402.4 375.7 1431.4 376.2 1406 376.7 1436.6 377.2 1442.1 377.7 1455.9 378.2 1376 378.7 1423.6 379.2 1411.6 379.7 1417.9 380.2 1414 380.7 1416.7 381.1 1376.2 381.6 1441.1 382.1 1452.8 382.6 1441.2 383.1 1448.6 383.6 1403 384.1 1401.6 384.6 1441.4 385.1 1451.3 385.6 1428.6 386.1 1390 386.6 1484.3 387.1 1409.8 387.6 1446 388.1 1398.9 388.6 1446.8 389.1 1429.3 389.6 1457.2 390.1 1445.6 390.6 1392.5 391.1 1405.5 391.6 1433.6 392 1444.6 392.5 1468.4 393 1434.5 393.5 1426.5 394 1428 394.5 1428.6 395 1452.6 395.5 1428.6 396 1428.3 396.5 1397.8 397 1384.6 397.5 1431.5 398 1446.6 398.5 1430.6 399 1443.7 399.5 1447.3 400 1431.7 400.5 1455.4 401 1416.9 401.5 1434.2 402 1426.4 402.5 1437.2 403 1450.7 403.4 1456.6 403.9 1440.2 404.4 1448.3 404.9 1430.1 405.4 1436.4 405.9 1469.8 406.4 1436 406.9 1470.8 407.4 1453.8 407.9 1446.7 408.4 1490.8 408.9 1438.6 409.4 1437.8 409.9 1446.1 410.4 1453.3 410.9 1452.8 411.4 1468.4 411.9 1451.6 412.4 1459.3 412.9 1444 413.4 1476.9 413.9 1441.7 414.3 1444.7 414.8 1452.4 415.3 1460.6 415.8 1436.3 416.3 1492.8 416.8 1439.8 417.3 1445.9 417.8 1445.4 418.3 1443.5 418.8 1470.5 419.3 1461 419.8 1438.5 420.3 1444.3 420.8 1450.6 421.3 1495.4 421.8 1443 422.3 1427 422.8 1431.5 423.3 1452.1 423.8 1499.1 424.3 1434.3 424.8 1463.1 425.3 1526 425.7 1449.9 426.2 1499.4 426.7 1494.6 427.2 1477.4 427.7 1426.7 428.2 1470.7 428.7 1453.6 429.2 1413.9 429.7 1417.9 430.2 1463.8 430.7 1467.6 431.2 1495.3 431.7 1480 432.2 1449.4 432.7 1450.2 433.2 1458 433.7 1433.6 434.2 1482.3 434.7 1462.6 435.2 1440.7 435.7 1444.8 436.2 1431.2 436.6 1449.9 437.1 1469.6 437.6 1450.9 438.1 1489.1 438.6 1507 439.1 1444.7 439.6 1462.6 440.1 1452.3 440.6 1509 441.1 1471.3 441.6 1478 442.1 1485.5 442.6 1525.2 443.1 1470.5 443.6 1435.4 444.1 1450.1 444.6 1478.2 445.1 1461.4 445.6 1439.2 446.1 1540.6 446.6 1464.6 447.1 1445.3 447.5 1441.2 448 1411.6 448.5 1428 449 1451.9 449.5 1452.2 450 1438 450.5 1476.8 451 1462.2 451.5 1434.3 452 1403.3 452.5 1465.7 453 1462.4 453.5 1455.1 454 1421.1 454.5 1461.9 455 1417.2 455.5 1489.9 456 1466.6 456.5 1466.9 457 1437.4 457.5 1429.6 458 1506.4 458.5 1488.6 458.9 1450.8 459.4 1480.9 459.9 1507.1 460.4 1429.5 460.9 1446 461.4 1446 461.9 1475.5 462.4 1429.6 462.9 1468.3 463.4 1427.4 463.9 1488.9 464.4 1487.2 464.9 1454.6 465.4 1482.2 465.9 1439.5 466.4 1451.9 466.9 1488 467.4 1456.7 467.9 1469.2 468.4 1429.2 468.9 1476.6 469.4 1469.8 469.8 1417.6 470.3 1384.6 470.8 1391.1 471.3 1450.7 471.8 1444.8 472.3 1402.5 472.8 1453.6 473.3 1479.4 473.8 1444 474.3 1432.4 474.8 1471.9 475.3 1496.8 475.8 1489.3 476.3 1421.4 476.8 1465.8 477.3 1445.2 477.8 1433 478.3 1419.1 478.8 1448.8 479.3 1421.3 479.8 1465.2 480.3 1447.5 480.8 1468.3 481.2 1398.2 481.7 1435.1 482.2 1457.5 482.7 1444.5 483.2 1439.7 483.7 1409.3 484.2 1483.1 484.7 1464.5 485.2 1442.5 485.7 1347.4 486.2 1398 486.7 1432.2 487.2 1404.8 487.7 1360.3 488.2 1434.5 488.7 1438.3 489.2 1386.1 489.7 1409 490.2 1402.6 490.7 1440.8 491.2 1360.4 491.7 1366.8 492.1 1403.9 492.6 1399.4 493.1 1488.1 493.6 1399.9 494.1 1426.7 494.6 1405.5 495.1 1396.8 495.6 1430.1 496.1 1474.1 496.6 1405.7 497.1 1441.8 497.6 1427.8 498.1 1436.4 498.6 1427.2 499.1 1492 499.6 1374.7 500.1 1406.2 500.6 1377.4 501.1 1348.1 501.6 1412.6 502.1 1472.8 502.6 1442.3 503.1 1452.3 503.5 1428.6 504 1408.9 504.5 1477.7 505 1399.6 505.5 1460.8 506 1400.5 506.5 1413.7 507 1420.2 507.5 1412 508 1427.3 508.5 1429.5 509 1464.8 509.5 1409.8 510 1347.4 510.5 1342.8 511 1364.5 511.5 1384.8 512 1430.6 512.5 1360.3 513 1409.9 513.5 1410.3 514 1417.6 514.4 1405 514.9 1422.4 515.4 1410.8 515.9 1443.8 516.4 1420.3 516.9 1332.8 517.4 1410.3 517.9 1415.9 518.4 1390.5 518.9 1384.7 519.4 1444.6 519.9 1414.8 520.4 1377.9 520.9 1399.2 521.4 1404 521.9 1357.2 522.4 1430.1 522.9 1405.3 523.4 1424.9 523.9 1359.5 524.4 1471.4 524.9 1429.7 525.4 1425.1 525.8 1386.5 526.3 1388.4 526.8 1363 527.3 1458.7 527.8 1383.9 528.3 1417.4 528.8 1429.3 529.3 1390.7 529.8 1437.4 530.3 1474.2 530.8 1419.8 531.3 1455.6 531.8 1428.6 532.3 1396.2 532.8 1398.1 533.3 1357.9 533.8 1414.3 534.3 1456.2 534.8 1431.7 535.3 1436.8 535.8 1446.1 536.3 1394.4 536.7 1428.1 537.2 1469.5 537.7 1386.4 538.2 1411.4 538.7 1397 539.2 1404.7 539.7 1388.6 540.2 1406.8 540.7 1370.2 541.2 1395 541.7 1396.2 542.2 1395.8 542.7 1452.6 543.2 1413.8 543.7 1417 544.2 1403.5 544.7 1450.9 545.2 1362 545.7 1408.4 546.2 1448.2 546.7 1463.6 547.2 1422.1 547.7 1417.3 548.1 1436.7 548.6 1413.8 549.1 1436.3 549.6 1402.5 550.1 1440.7 550.6 1421.8 551.1 1393.5 551.6 1348.6 552.1 1453.1 552.6 1438.6 553.1 1450.5 553.6 1405.2 554.1 1461.5 554.6 1443.7 555.1 1432 555.6 1460 556.1 1460.5 556.6 1448 557.1 1494.6 557.6 1477.2 558.1 1449.5 558.6 1434.9 559 1445.2 559.5 1490 560 1454.8 560.5 1421.1 561 1428.6 561.5 1446.8 562 1469.6 562.5 1429.1 563 1462.5 563.5 1479 564 1469.6 564.5 1409.7 565 1443.2 565.5 1418.7 566 1462.8 566.5 1425.9 567 1467 567.5 1455.8 568 1387.5 568.5 1432.9 569 1466.2 569.5 1456 570 1446 570.4 1424.1 570.9 1467.6 571.4 1499.5 571.9 1463.2 572.4 1456.3 572.9 1454.4 573.4 1425 573.9 1450.1 574.4 1438.4 574.9 1485.4 575.4 1438 575.9 1408.8 576.4 1441 576.9 1453.8 577.4 1456.5 577.9 1418 578.4 1482.4 578.9 1463.3 579.4 1450.1 579.9 1443.6 580.4 1471.1 580.9 1453.9 581.3 1467.3 581.8 1458.2 582.3 1463.8 582.8 1486.4 583.3 1460.9 583.8 1440.6 584.3 1481.3 584.8 1464.8 585.3 1444.5 585.8 1482.1 586.3 1454.2 586.8 1480.8 587.3 1432.6 587.8 1406.8 588.3 1412.6 588.8 1460.1 589.3 1439 589.8 1451.5 590.3 1451.2 590.8 1420.1 591.3 1479.4 591.8 1429.1 592.3 1451.2 592.7 1420.3 593.2 1444.7 593.7 1461.5 594.2 1441.2 594.7 1431.1 595.2 1444.4 595.7 1434.4 596.2 1453.8 596.7 1484.9 597.2 1423.7 597.7 1426.8 598.2 1436.8 598.7 1437.5 599.2 1417.8 599.7 1445.9 600.2 1449.8 600.7 1438.9 601.2 1411.7 601.7 1460 602.2 1410.1 602.7 1444 603.2 1451.8 603.6 1406.7 604.1 1431.4 604.6 1453 605.1 1434.7 605.6 1410.3 606.1 1404.9 606.6 1433.9 607.1 1418.1 607.6 1412 608.1 1436 608.6 1417.5 609.1 1424 609.6 1432.5 610.1 1431.3 610.6 1421 611.1 1421.4 611.6 1431.6 612.1 1428.9 612.6 1401.8 613.1 1417.4 613.6 1405.7 614.1 1400.3 614.6 1410.9 615 1382.2 615.5 1435.1 616 1407.3 616.5 1426.4 617 1389.8 617.5 1392.5 618 1453.6 618.5 1437.1 619 1410 619.5 1408 620 1408.9 620.5 1422.2 621 1413.6 621.5 1410.4 622 1422.3 622.5 1404.5 623 1457.2 623.5 1410.9 624 1437.4 624.5 1405.8 625 1424.6 625.5 1435 625.9 1415.1 626.4 1435.2 626.9 1435.2 627.4 1445.3 627.9 1421.4 628.4 1413.3 628.9 1405.3 629.4 1423.2 629.9 1405 630.4 1420.7 630.9 1422.4 631.4 1412.3 631.9 1405 632.4 1426.1 632.9 1424.7 633.4 1423.4 633.9 1419.8 634.4 1434.4 634.9 1405.8 635.4 1426.9 635.9 1414.2 636.4 1433.1 636.9 1415.7 637.3 1415.3 637.8 1427.1 638.3 1391.6 638.8 1415.6 639.3 1395.3 639.8 1407.2 640.3 1430.5 640.8 1426.5 641.3 1414.8 641.8 1420.1 642.3 1420.3 642.8 1425.1 643.3 1446.5 643.8 1424.2 644.3 1452.2 644.8 1415.8 645.3 1431.1 645.8 1431 646.3 1424 646.8 1417.2 647.3 1440.8 647.8 1445.1 648.2 1435.7 648.7 1449 649.2 1434.2 649.7 1399.2 650.2 1435.4 650.7 1412.1 651.2 1439.6 651.7 1416.9 652.2 1425.3 652.7 1421.8 653.2 1413.3 653.7 1397.4 654.2 1418.4 654.7 1419.3 655.2 1434 655.7 1413.2 656.2 1424.3 656.7 1409.9 657.2 1421.6 657.7 1398 658.2 1447.2 658.7 1424.9 659.1 1409.4 659.6 1425.6 660.1 1431.4 660.6 1424.5 661.1 1439 661.6 1419.4 662.1 1389.2 662.6 1406.1 663.1 1435.4 663.6 1432.3 664.1 1426.2 664.6 1408 665.1 1431.6 665.6 1429.9 666.1 1409.7 666.6 1409.9 667.1 1425.9 667.6 1435.4 668.1 1440.9 668.6 1430.1 669.1 1449.6 669.6 1411.7 670.1 1429.3 670.5 1415.2 671 1397.6 671.5 1406.5 672 1436 672.5 1410.5 673 1406.9 673.5 1431 674 1433.7 674.5 1423.1 675 1441.9 675.5 1403.4 676 1452.1 676.5 1435.9 677 1425.5 677.5 1425 678 1420.2 678.5 1419 679 1425.1 679.5 1408.4 680 1449.2 680.5 1422.7 681 1431.7 681.4 1421.3 681.9 1420.3 682.4 1434.4 682.9 1431.2 683.4 1413.6 683.9 1419.2 684.4 1431.9 684.9 1398.6 685.4 1395.4 685.9 1441.9 686.4 1420.3 686.9 1393.4 687.4 1414.7 687.9 1421.7 688.4 1427 688.9 1431.2 689.4 1427.3 689.9 1431.6 690.4 1415.9 690.9 1430 691.4 1430.6 691.9 1440 692.4 1426.1 692.8 1436.5 693.3 1428 693.8 1413.3 694.3 1421.6 694.8 1420.1 695.3 1422 695.8 1425.8 696.3 1428.2 696.8 1430.5 697.3 1417.8 697.8 1440.1 698.3 1411.1 698.8 1426.9 699.3 1436.4 699.8 1433.5 700.3 1435.8 700.8 1426 701.3 1436.6 701.8 1414.5 702.3 1437.6 702.8 1455.5 703.3 1437.3 703.7 1452.6 704.2 1429.3 704.7 1416.4 705.2 1421.5 705.7 1445.2 706.2 1438.5 706.7 1408.5 707.2 1425.9 707.7 1429.8 708.2 1417.5 708.7 1401.1 709.2 1415 709.7 1428.8 710.2 1426.4 710.7 1423.4 711.2 1438 711.7 1443.4 712.2 1430.5 712.7 1442.4 713.2 1432.1 713.7 1430.3 714.2 1404.1 714.7 1441.7 715.1 1433.3 715.6 1433.9 716.1 1427 716.6 1420 717.1 1438.1 717.6 1442.1 718.1 1451.7 718.6 1443.5 719.1 1426.6 719.6 1432.4 720.1 1444.9 720.6 1437.5 721.1 1432.9 721.6 1427.5 722.1 1440.4 722.6 1436.5 723.1 1454.8 723.6 1447.1 724.1 1415.1 724.6 1459.3 725.1 1438 725.6 1431.6 726 1438.6 726.5 1443.7 727 1435.1 727.5 1434.6 728 1435.5 728.5 1456.3 729 1436.4 729.5 1444.6 730 1441.2 730.5 1432.3 731 1427.6 731.5 1424.8 732 1440.8 732.5 1424.6 733 1421.8 733.5 1422.3 734 1419.4 734.5 1437.1 735 1437.5 735.5 1426.1 736 1451.2 736.5 1433.2 737 1441.7 737.4 1440 737.9 1455.6 738.4 1446 738.9 1436.1 739.4 1425.8 739.9 1424.7 740.4 1437 740.9 1438.2 741.4 1445.6 741.9 1431.6 742.4 1439 742.9 1429.4 743.4 1416.5 743.9 1436.7 744.4 1453.4 744.9 1446.2 745.4 1453 745.9 1450.1 746.4 1421.9 746.9 1434.1 747.4 1453.8 747.9 1429.4 748.3 1422.6 748.8 1440.9 749.3 1444.5 749.8 1440.7 750.3 1433.7 750.8 1429.8 751.3 1423.7 751.8 1423.5 752.3 1423.8 752.8 1421.9 753.3 1429.8 753.8 1454.3 754.3 1438.7 754.8 1433.8 755.3 1441.6 755.8 1427.2 756.3 1441.4 756.8 1447.8 757.3 1421.4 757.8 1430.1 758.3 1435.1 758.8 1427.3 759.3 1425.8 759.7 1433.9 760.2 1465 760.7 1445.2 761.2 1442.8 761.7 1448.7 762.2 1435.6 762.7 1424.6 763.2 1443.3 763.7 1450.5 764.2 1415.5 764.7 1443 765.2 1451.7 765.7 1435.4 766.2 1433.4 766.7 1445.9 767.2 1429.5 767.7 1443.6 768.2 1448.4 768.7 1436.3 769.2 1429.8 769.7 1445.4 770.2 1434.7 770.6 1439.5 771.1 1407.3 771.6 1446.3 772.1 1423.2 772.6 1439.2 773.1 1440 773.6 1430.7 774.1 1428.8 774.6 1424.7 775.1 1435.1 775.6 1445.4 776.1 1444.8 776.6 1433.2 777.1 1432.5 777.6 1423.5 778.1 1434.4 778.6 1427.3 779.1 1422.3 779.6 1437.3 780.1 1455.6 780.6 1452.3 781.1 1455.2 781.6 1421.6 782 1448.7 782.5 1425.7 783 1432.9 783.5 1420.4 784 1428.4 784.5 1440.7 785 1441.8 785.5 1438.7 786 1437.7 786.5 1445.6 787 1440.1 787.5 1421.9 788 1458.8 788.5 1437 789 1450.1 789.5 1437.9 790 1430.7 790.5 1440.8 791 1431.6 791.5 1458 792 1427.9 792.5 1447.1 792.9 1433.4 793.4 1438.4 793.9 1469.4 794.4 1449 794.9 1438.2 795.4 1423.3 795.9 1437.5 796.4 1437.9 796.9 1456.7 797.4 1424.9 797.9 1420.7 798.4 1440.7 798.9 1443.6 799.4 1459.4 799.9 1431.3 800.4 1411 800.9 1433.4 801.4 1427.3 801.9 1435.5 802.4 1452.8 802.9 1426.7 803.4 1455.8 803.9 1444.3 804.3 1438.9 804.8 1432.2 805.3 1437.6 805.8 1438 806.3 1451.1 806.8 1457.2 807.3 1442 807.8 1450.9 808.3 1457.8 808.8 1457.4 809.3 1448.8 809.8 1464.3 810.3 1458.7 810.8 1462.1 811.3 1441.6 811.8 1439.2 812.3 1421.2 812.8 1461.1 813.3 1452 813.8 1434 814.3 1447 814.8 1448.4 815.2 1425.3 815.7 1448.8 816.2 1458.2 816.7 1460.2 817.2 1441.5 817.7 1442 818.2 1461.3 818.7 1457 819.2 1439.7 819.7 1439.4 820.2 1453.5 820.7 1439.1 821.2 1439.9 821.7 1467 822.2 1450.3 822.7 1442.1 823.2 1453.5 823.7 1471.7 824.2 1450.5 824.7 1438.7 825.2 1429.3 825.7 1472.9 826.2 1417.6 826.6 1460.9 827.1 1437 827.6 1433.9 828.1 1436.9 828.6 1446.7 829.1 1461.9 829.6 1441.4 830.1 1457 830.6 1478.1 831.1 1416.2 831.6 1440.9 832.1 1428.1 832.6 1459.9 833.1 1432.3 833.6 1431 834.1 1431.5 834.6 1449.9 835.1 1463.8 835.6 1451.9 836.1 1475.7 836.6 1469.9 837.1 1449.1 837.5 1461.8 838 1452.2 838.5 1451.6 839 1427.8 839.5 1435.3 840 1451.1 840.5 1436.4 841 1459.8 841.5 1454.7 842 1440.1 842.5 1465.4 843 1454.1 843.5 1466.4 844 1449.5 844.5 1431.7 845 1459.8 845.5 1448.3 846 1461.6 846.5 1464.6 847 1465.6 847.5 1433.8 848 1423 848.4 1445.3 848.9 1459.5 849.4 1442.6 849.9 1454.9 850.4 1441.4 850.9 1447.4 851.4 1447.6 851.9 1443.6 852.4 1457.8 852.9 1455.6 853.4 1471.4 853.9 1456 854.4 1467.7 854.9 1452.4 855.4 1462.1 855.9 1449.4 856.4 1445.1 856.9 1467.6 857.4 1460.2 857.9 1461.7 858.4 1441.3 858.9 1429.7 859.4 1439.9 859.8 1454.4 860.3 1432.3 860.8 1468.3 861.3 1431.8 861.8 1457.8 862.3 1483.5 862.8 1417.5 863.3 1430.4 863.8 1462.1 864.3 1447.4 864.8 1452 865.3 1448.1 865.8 1467.3 866.3 1457.5 866.8 1443.3 867.3 1446.2 867.8 1434.1 868.3 1447.8 868.8 1419.8 869.3 1457.4 869.8 1445.3 870.3 1472 870.7 1463.7 871.2 1431.7 871.7 1459.7 872.2 1441.3 872.7 1448.6 873.2 1460.7 873.7 1451.9 874.2 1453.9 874.7 1453.4 875.2 1437.8 875.7 1439 876.2 1454.2 876.7 1458.2 877.2 1443.2 877.7 1447.9 878.2 1433.6 878.7 1413 879.2 1435.6 879.7 1446.5 880.2 1448.1 880.7 1456.6 881.2 1457.2 881.7 1458.3 882.1 1450.4 882.6 1450.7 883.1 1435.7 883.6 1450.1 884.1 1447.4 884.6 1460.2 885.1 1423.7 885.6 1438 886.1 1421.5 886.6 1434 887.1 1425 887.6 1447.1 888.1 1434.5 888.6 1408.8 889.1 1459.2 889.6 1428.1 890.1 1421.2 890.6 1437.6 891.1 1432.9 891.6 1426.1 892.1 1451.2 892.6 1437 893 1453.8 893.5 1451.1 894 1450.2 894.5 1443.7 895 1439.7 895.5 1435.4 896 1460.3 896.5 1414.6 897 1425.5 897.5 1431.1 898 1445.5 898.5 1441.7 899 1432.8 899.5 1434.4 900 1462.6 900.5 1429.4 901 1399.6 901.5 1464.1 902 1425.1 902.5 1433.3 903 1439.6 903.5 1418.9 904 1453.6 904.4 1434.8 904.9 1416.5 905.4 1439 905.9 1441.7 906.4 1433.9 906.9 1441.3 907.4 1413.2 907.9 1446.9 908.4 1421.7 908.9 1450.9 909.4 1423.6 909.9 1434 910.4 1468.2 910.9 1431.7 911.4 1446.1 911.9 1436.9 912.4 1408.6 912.9 1445.5 913.4 1444.2 913.9 1408.5 914.4 1426.7 914.9 1406 915.3 1422.8 915.8 1439.4 916.3 1427.3 916.8 1408.4 917.3 1412 917.8 1424.9 918.3 1423.8 918.8 1425.6 919.3 1431.8 919.8 1395.3 920.3 1422.5 920.8 1438.4 921.3 1428.5 921.8 1410.7 922.3 1411.5 922.8 1422.3 923.3 1429.5 923.8 1419 924.3 1443.3 924.8 1437.5 925.3 1406.5 925.8 1424.7 926.3 1411.8 926.7 1399.1 927.2 1407 927.7 1415.8 928.2 1384.6 928.7 1405.6 929.2 1420.3 929.7 1404 930.2 1408.4 930.7 1426.7 931.2 1412.7 931.7 1416 932.2 1442.4 932.7 1415.5 933.2 1416.9 933.7 1419 934.2 1436.8 934.7 1417.4 935.2 1412.5 935.7 1410.2 936.2 1428.6 936.7 1402 937.2 1429.6 937.6 1414.6 938.1 1391.5 938.6 1421.5 939.1 1418.7 939.6 1394.8 940.1 1416.8 940.6 1415.5 941.1 1407.7 941.6 1395.1 942.1 1444.4 942.6 1423.6 943.1 1426.3 943.6 1427.5 944.1 1424 944.6 1423.8 945.1 1406.4 945.6 1424.6 946.1 1409.1 946.6 1404.9 947.1 1422.2 947.6 1409 948.1 1385.9 948.6 1406.1 949 1420.8 949.5 1412 950 1425.1 950.5 1406.8 951 1397.7 951.5 1423.7 952 1414.2 952.5 1393.8 953 1418.7 953.5 1408.1 954 1426.9 954.5 1423.7 955 1419 955.5 1377.8 956 1417.2 956.5 1419.1 957 1419.6 957.5 1413.5 958 1401 958.5 1408.1 959 1379.4 959.5 1407.7 959.9 1388.7 960.4 1406.7 960.9 1401.7 961.4 1433.3 961.9 1413.1 962.4 1412.2 962.9 1415 963.4 1444.6 963.9 1397.7 964.4 1417.5 964.9 1418.4 965.4 1415.6 965.9 1415.4 966.4 1405.6 966.9 1431.9 967.4 1426.7 967.9 1407.9 968.4 1410.3 968.9 1418.6 969.4 1421.9 969.9 1426.2 970.4 1414.3 970.9 1395.1 971.3 1430.3 971.8 1390.2 972.3 1401 972.8 1421.6 973.3 1402.4 973.8 1438 974.3 1442.4 974.8 1435.8 975.3 1422.2 975.8 1421.2 976.3 1424.5 976.8 1415.1 977.3 1450.6 977.8 1409.4 978.3 1439.9 978.8 1428.3 979.3 1424.7 979.8 1436.7 980.3 1440.4 980.8 1435 981.3 1419.6 981.8 1410.4 982.2 1411.1 982.7 1436.1 983.2 1433.3 983.7 1435.6 984.2 1414.3 984.7 1454 985.2 1402.4 985.7 1430.1 986.2 1435.2 986.7 1417.7 987.2 1407 987.7 1418.3 988.2 1407.4 988.7 1422.3 989.2 1405.2 989.7 1405.3 990.2 1427 990.7 1402.9 991.2 1423.5 991.7 1425.1 992.2 1441.4 992.7 1431.7 993.2 1415.1 993.6 1448.6 994.1 1417.8 994.6 1422.9 995.1 1424.4 995.6 1464.3 996.1 1431.2 996.6 1419.7 997.1 1442.6 997.6 1429.5 998.1 1469.2 998.6 1421.3 999.1 1443 999.6 1419.1 1000.1 1462.8 1000.6 1423.1 1001.1 1438.4 1001.6 1422.4 1002.1 1450.4 1002.6 1446.1 1003.1 1401.4 1003.6 1450.7 1004.1 1449.3 1004.5 1443.1 1005 1455.5 1005.5 1421.1 1006 1413.2 1006.5 1452.2 1007 1468.9 1007.5 1423.7 1008 1425.3 1008.5 1430.4 1009 1425.7 1009.5 1458.1 1010 1447.6 1010.5 1467.2 1011 1468.2 1011.5 1431 1012 1457.4 1012.5 1411.6 1013 1446.6 1013.5 1458.2 1014 1436.1 1014.5 1420.7 1015 1441.6 1015.5 1468.6 1015.9 1444.1 1016.4 1428.6 1016.9 1458 1017.4 1462.6 1017.9 1434.9 1018.4 1448.6 1018.9 1468 1019.4 1456.9 1019.9 1462.7 1020.4 1446.4 1020.9 1449.3 1021.4 1433.2 1021.9 1440 1022.4 1475 1022.9 1444.6 1023.4 1437.1 1023.9 1443.8 1024.4 1435 1024.9 1459.1 1025.4 1465.2 1025.9 1436.4 1026.4 1466.8 1026.8 1483.4 1027.3 1434.8 1027.8 1461.3 1028.3 1454.9 1028.8 1471.3 1029.3 1470.1 1029.8 1467.4 1030.3 1455.3 1030.8 1444.2 1031.3 1484.2 1031.8 1438.3 1032.3 1467.2 1032.8 1465.3 1033.3 1439.1 1033.8 1450.2 1034.3 1471.9 1034.8 1421.4 1035.3 1461.5 1035.8 1444.9 1036.3 1445.5 1036.8 1427.4 1037.3 1454.9 1037.7 1433.1 1038.2 1458.8 1038.7 1431.2 1039.2 1458.8 1039.7 1452.7 1040.2 1419.5 1040.7 1442.5 1041.2 1445.3 1041.7 1414.1 1042.2 1441.4 1042.7 1458.3 1043.2 1435.6 1043.7 1463.2 1044.2 1429.7 1044.7 1428.4 1045.2 1453.9 1045.7 1454.5 1046.2 1442.8 1046.7 1444.9 1047.2 1458.9 1047.7 1436.6 1048.2 1473.6 1048.7 1450.4 1049.1 1449.8 1049.6 1447.6 1050.1 1439.1 1050.6 1460.4 1051.1 1434.5 1051.6 1444.9 1052.1 1451.1 1052.6 1460.8 1053.1 1457.7 1053.6 1435.7 1054.1 1453.7 1054.6 1438.9 1055.1 1424.6 1055.6 1424.5 1056.1 1416.7 1056.6 1441.9 1057.1 1452.3 1057.6 1422.7 1058.1 1432 1058.6 1420.3 1059.1 1435 1059.6 1418.2 1060 1422.5 1060.5 1423.7 1061 1426.1 1061.5 1426.9 1062 1428.6 1062.5 1428.1 1063 1417.3 1063.5 1437 1064 1406.1 1064.5 1430.4 1065 1415.2 1065.5 1429 1066 1430.6 1066.5 1399.6 1067 1430.3 1067.5 1442.7 1068 1434.7 1068.5 1428.9 1069 1395.7 1069.5 1421 1070 1410.9 1070.5 1436 1071 1417.7 1071.4 1413.1 1071.9 1397.9 1072.4 1430.3 1072.9 1412.9 1073.4 1416.5 1073.9 1433.4 1074.4 1420 1074.9 1422.9 1075.4 1449.4 1075.9 1411.2 1076.4 1411.8 1076.9 1424.3 1077.4 1435.7 1077.9 1399.2 1078.4 1414.7 1078.9 1405 1079.4 1399.9 1079.9 1424.7 1080.4 1407.6 1080.9 1421.1 1081.4 1418.8 1081.9 1419.1 1082.3 1418 1082.8 1403.8 1083.3 1416.4 1083.8 1420 1084.3 1421.5 1084.8 1413.7 1085.3 1429.3 1085.8 1424.3 1086.3 1418.7 1086.8 1425.1 1087.3 1419.5 1087.8 1425.7 1088.3 1392.8 1088.8 1401.3 1089.3 1412.4 1089.8 1418.7 1090.3 1390.6 1090.8 1414 1091.3 1419.1 1091.8 1414.2 1092.3 1414.2 1092.8 1400.5 1093.3 1418.2 1093.7 1392 1094.2 1428.9 1094.7 1409.4 1095.2 1430.4 1095.7 1395.5 1096.2 1422.1 1096.7 1418.7 1097.2 1406.6 1097.7 1402.6 1098.2 1431.7 1098.7 1422.3 1099.2 1435.2 1099.7 1416.5 1100.2 1419.5 1100.7 1422.6 1101.2 1426.8 1101.7 1423.2 1102.2 1427.7 1102.7 1412.3 1103.2 1400.4 1103.7 1442.5 1104.2 1420.6 1104.6 1424.4 1105.1 1413.5 1105.6 1431.2 1106.1 1421.6 1106.6 1432.6 1107.1 1411.7 1107.6 1419.2 1108.1 1422.5 1108.6 1416.3 1109.1 1423.9 1109.6 1439.9 1110.1 1414.2 1110.6 1418.1 1111.1 1423.7 1111.6 1410.2 1112.1 1407.6 1112.6 1435.7 1113.1 1432.2 1113.6 1404.4 1114.1 1406.2 1114.6 1432.3 1115.1 1437.9 1115.6 1431.6 1116 1430.2 1116.5 1443.4 1117 1424.3 1117.5 1440.3 1118 1439.7 1118.5 1414.4 1119 1433.8 1119.5 1426.7 1120 1418.6 1120.5 1416.6 1121 1430.6 1121.5 1426.3 1122 1436.9 1122.5 1406.3 1123 1419.7 1123.5 1440.9 1124 1427.8 1124.5 1419.5 1125 1422.5 1125.5 1406.6 1126 1412.2 1126.5 1435.2 1126.9 1430 1127.4 1444.4 1127.9 1426.3 1128.4 1427.6 1128.9 1397.2 1129.4 1428.5 1129.9 1454.8 1130.4 1437.9 1130.9 1428.6 1131.4 1445.1 1131.9 1440.5 1132.4 1434.6 1132.9 1426.3 1133.4 1432.4 1133.9 1441.1 1134.4 1421.2 1134.9 1437.2 1135.4 1436.8 1135.9 1447.4 1136.4 1440.4 1136.9 1423.3 1137.4 1450.5 1137.9 1432.1 1138.3 1422.8 1138.8 1435.9 1139.3 1428.7 1139.8 1444.9 1140.3 1416.1 1140.8 1418.6 1141.3 1429.1 1141.8 1452.9 1142.3 1444.5 1142.8 1420.5 1143.3 1411.8 1143.8 1428.8 1144.3 1417.5 1144.8 1439.7 1145.3 1434.8 1145.8 1432.6 1146.3 1427.7 1146.8 1451 1147.3 1421.7 1147.8 1417.2 1148.3 1446.7 1148.8 1449.2 1149.2 1429 1149.7 1441 1150.2 1461.6 1150.7 1423.8 1151.2 1431.6 1151.7 1439.2 1152.2 1408.5 1152.7 1432 1153.2 1442.7 1153.7 1432.6 1154.2 1446.3 1154.7 1443 1155.2 1429.4 1155.7 1440.7 1156.2 1439.5 1156.7 1414.4 1157.2 1424.1 1157.7 1424.8 1158.2 1428.1 1158.7 1428.7 1159.2 1417.2 1159.7 1434.9 1160.2 1412.6 1160.6 1446.1 1161.1 1437.8 1161.6 1451.3 1162.1 1439 1162.6 1428.8 1163.1 1417.7 1163.6 1442.9 1164.1 1435 1164.6 1439.4 1165.1 1444 1165.6 1449.4 1166.1 1434.6 1166.6 1455.9 1167.1 1434.1 1167.6 1435.2 1168.1 1443.3 1168.6 1447.5 1169.1 1452 1169.6 1413.3 1170.1 1451.6 1170.6 1417.1 1171.1 1428.5 1171.5 1440 1172 1449.5 1172.5 1423.4 1173 1415.3 1173.5 1446.9 1174 1439.4 1174.5 1423.4 1175 1431.9 1175.5 1412.2 1176 1442.7 1176.5 1429.5 1177 1450.8 1177.5 1411.1 1178 1444.6 1178.5 1462.1 1179 1437.5 1179.5 1437.6 1180 1413.3 1180.5 1440 1181 1436.1 1181.5 1429 1182 1417.3 1182.5 1436.7 1182.9 1423.7 1183.4 1429.9 1183.9 1439.5 1184.4 1435.1 1184.9 1435.7 1185.4 1446.8 1185.9 1421.7 1186.4 1452.3 1186.9 1422.2 1187.4 1424.8 1187.9 1437.1 1188.4 1445 1188.9 1438.6 1189.4 1430.4 1189.9 1427.2 1190.4 1432.6 1190.9 1424.3 1191.4 1442.5 1191.9 1433.2 1192.4 1454.3 1192.9 1427 1193.4 1434.1 1193.8 1440.8 1194.3 1422.3 1194.8 1427.8 1195.3 1468.7 1195.8 1435.4 1196.3 1452.8 1196.8 1423.5 1197.3 1406.9 1197.8 1441.9 1198.3 1435 1198.8 1438.7 1199.3 1431.7 1199.8 1428.3 1200.3 1420.9 1200.8 1447.2 1201.3 1417.6 1201.8 1446.5 1202.3 1432.6 1202.8 1422.4 1203.3 1427.5 1203.8 1446.6 1204.3 1443.8 1204.8 1441 1205.2 1436.3 1205.7 1422.5 1206.2 1450.5 1206.7 1430.3 1207.2 1428.7 1207.7 1429.2 1208.2 1430.3 1208.7 1418.2 1209.2 1430 1209.7 1425.8 1210.2 1429.1 1210.7 1415.1 1211.2 1457.3 1211.7 1420.9 1212.2 1438.5 1212.7 1438.7 1213.2 1446.6 1213.7 1456.8 1214.2 1439.9 1214.7 1443.3 1215.2 1429.9 1215.7 1452.2 1216.1 1419.2 1216.6 1432.4 1217.1 1438.3 1217.6 1443.5 1218.1 1444.3 1218.6 1448.2 1219.1 1441.5 1219.6 1435.3 1220.1 1437.4 1220.6 1451.3 1221.1 1438.3 1221.6 1445.4 1222.1 1433.5 1222.6 1414.4 1223.1 1428.3 1223.6 1438.8 1224.1 1453.5 1224.6 1451.1 1225.1 1454.2 1225.6 1427.1 1226.1 1443.8 1226.6 1434.5 1227.1 1442.2 1227.5 1434.2 1228 1419.6 1228.5 1442.8 1229 1439 1229.5 1444.2 1230 1425.5 1230.5 1446.6 1231 1447.7 1231.5 1450.5 1232 1450.7 1232.5 1429.9 1233 1406.7 1233.5 1446.1 1234 1424.6 1234.5 1432.3 1235 1447.3 1235.5 1438.1 1236 1437.7 1236.5 1442.7 1237 1413.8 1237.5 1456 1238 1430.9 1238.4 1431.4 1238.9 1441.4 1239.4 1433.4 1239.9 1425.4 1240.4 1433.4 1240.9 1430.5 1241.4 1427.5 1241.9 1457.2 1242.4 1418.9 1242.9 1410.2 1243.4 1424.3 1243.9 1424 1244.4 1450.3 1244.9 1436.3 1245.4 1443.8 1245.9 1441.4 1246.4 1424.5 1246.9 1443.7 1247.4 1436.4 1247.9 1455.6 1248.4 1436.7 1248.9 1434 1249.3 1442.6 1249.8 1442.8 1250.3 1414.7 1250.8 1448 1251.3 1446.3 1251.8 1443.7 1252.3 1422.1 1252.8 1412.5 1253.3 1431.4 1253.8 1442.7 1254.3 1439.6 1254.8 1423.6 1255.3 1444.7 1255.8 1419.5 1256.3 1419.9 1256.8 1434.3 1257.3 1428.1 1257.8 1427 1258.3 1418.5 1258.8 1446.2 1259.3 1422.4 1259.8 1439 1260.3 1443.1 1260.7 1433.9 1261.2 1437.3 1261.7 1445.5 1262.2 1451.9 1262.7 1445 1263.2 1419.7 1263.7 1414.3 1264.2 1428.1 1264.7 1422.5 1265.2 1440.4 1265.7 1435.8 1266.2 1432 1266.7 1446.4 1267.2 1445.4 1267.7 1434 1268.2 1438.4 1268.7 1446.2 1269.2 1430.9 1269.7 1437.8 1270.2 1424.3 1270.7 1435.1 1271.2 1438.1 1271.6 1433.7 1272.1 1436.8 1272.6 1442 1273.1 1439.2 1273.6 1427.2 1274.1 1428.3 1274.6 1421.6 1275.1 1452.6 1275.6 1439.1 1276.1 1439.3 1276.6 1433.2 1277.1 1439.7 1277.6 1440.3 1278.1 1426.9 1278.6 1433.2 1279.1 1447.1 1279.6 1421.2 1280.1 1424.7 1280.6 1440.9 1281.1 1426.4 1281.6 1442.6 1282.1 1423.4 1282.6 1437.2 1283 1443.3 1283.5 1438.8 1284 1442.9 1284.5 1433 1285 1433.2 1285.5 1434.6 1286 1440.7 1286.5 1472.5 1287 1434 1287.5 1454.4 1288 1432.5 1288.5 1423.4 1289 1432.2 1289.5 1439 1290 1436.8 1290.5 1436.4 1291 1440.6 1291.5 1440.9 1292 1444.4 1292.5 1422.9 1293 1435.2 1293.5 1425.3 1293.9 1437.5 1294.4 1434.3 1294.9 1436.7 1295.4 1430.3 1295.9 1426.6 1296.4 1432.6 1296.9 1441.8 1297.4 1442.9 1297.9 1418.2 1298.4 1437.8 1298.9 1437.9 1299.4 1420.2 1299.9 1424 1300.4 1429.6 1300.9 1439 1301.4 1411.3 1301.9 1431.1 1302.4 1429.5 1302.9 1436.7 1303.4 1449.2 1303.9 1448.4 1304.4 1430.9 1304.9 1431.1 1305.3 1437.4 1305.8 1446.7 1306.3 1449.4 1306.8 1438.3 1307.3 1449.5 1307.8 1426 1308.3 1423.5 1308.8 1406.8 1309.3 1426.3 1309.8 1440.9 1310.3 1443.7 1310.8 1469.3 1311.3 1440.9 1311.8 1436.8 1312.3 1425.4 1312.8 1428.9 1313.3 1429.2 1313.8 1432.9 1314.3 1428.5 1314.8 1420.7 1315.3 1445.5 1315.8 1439.5 1316.2 1448.7 1316.7 1419.1 1317.2 1422.2 1317.7 1427.6 1318.2 1446.8 1318.7 1433.3 1319.2 1437.3 1319.7 1434.2 1320.2 1436.8 1320.7 1429.9 1321.2 1438.9 1321.7 1426.6 1322.2 1432.6 1322.7 1437.9 1323.2 1436.1 1323.7 1439.3 1324.2 1427.1 1324.7 1437.6 1325.2 1432.1 1325.7 1438.8 1326.2 1449.4 1326.7 1426.2 1327.2 1445.3 1327.6 1428.4 1328.1 1430.9 1328.6 1451 1329.1 1444.1 1329.6 1440 1330.1 1442.9 1330.6 1446.4 1331.1 1427.9 1331.6 1437.3 1332.1 1431.3 1332.6 1439.1 1333.1 1432.1 1333.6 1442.2 1334.1 1435.3 1334.6 1429.4 1335.1 1434.6 1335.6 1439.4 1336.1 1445.4 1336.6 1433.4 1337.1 1431.7 1337.6 1437.5 1338.1 1442.4 1338.5 1429.8 1339 1411.3 1339.5 1437.9 1340 1431.8 1340.5 1431.4 1341 1459.5 1341.5 1433.8 1342 1441.7 1342.5 1421.8 1343 1437.4 1343.5 1442.4 1344 1437.1 1344.5 1433.4 1345 1440.3 1345.5 1435.5 1346 1447.8 1346.5 1437.1 1347 1427.7 1347.5 1416.4 1348 1428.3 1348.5 1432.4 1349 1423.8 1349.5 1425.4 1349.9 1419.3 1350.4 1424.8 1350.9 1436.1 1351.4 1432.6 1351.9 1433.3 1352.4 1432.2 1352.9 1433.1 1353.4 1442.3 1353.9 1454.7 1354.4 1441.3 1354.9 1454 1355.4 1434.4 1355.9 1435 1356.4 1450.7 1356.9 1428.6 1357.4 1426.9 1357.9 1434.1 1358.4 1419.4 1358.9 1417.5 1359.4 1446.2 1359.9 1425.3 1360.4 1430.9 1360.8 1431.1 1361.3 1426.3 1361.8 1441.7 1362.3 1440.5 1362.8 1442.7 1363.3 1442 1363.8 1435.9 1364.3 1448.5 1364.8 1444.7 1365.3 1429.7 1365.8 1435.7 1366.3 1431.5 1366.8 1452.5 1367.3 1442.2 1367.8 1440.1 1368.3 1434.7 1368.8 1440.4 1369.3 1426.4 1369.8 1435.5 1370.3 1434.8 1370.8 1434.9 1371.3 1428.5 1371.8 1439.3 1372.2 1424.7 1372.7 1430.8 1373.2 1433.6 1373.7 1434.6 1374.2 1430.2 1374.7 1425.7 1375.2 1426.3 1375.7 1431.6 1376.2 1427 1376.7 1433.9 1377.2 1423.5 1377.7 1435.2 1378.2 1454 1378.7 1422.8 1379.2 1434 1379.7 1445.7 1380.2 1436.8 1380.7 1443.1 1381.2 1415.9 1381.7 1430.5 1382.2 1449.3 1382.7 1430 1383.1 1438.6 1383.6 1417.6 1384.1 1444.6 1384.6 1455.4 1385.1 1434.4 1385.6 1438.2 1386.1 1438.8 1386.6 1454.4 1387.1 1431.1 1387.6 1419.8 1388.1 1452.3 1388.6 1424.4 1389.1 1440.1 1389.6 1413.7 1390.1 1431.1 1390.6 1436.7 1391.1 1425 1391.6 1430.2 1392.1 1440.4 1392.6 1428.6 1393.1 1439.6 1393.6 1451.1 1394.1 1416.7 1394.5 1438.2 1395 1440.5 1395.5 1431.9 1396 1449 1396.5 1447.2 1397 1439.5 1397.5 1439.7 1398 1434.4 1398.5 1424.9 1399 1439.3 1399.5 1430.6 1400 1429.6 1400.5 1444.7 1401 1433 1401.5 1443.5 1402 1425.5 1402.5 1430.9 1403 1434.9 1403.5 1447 1404 1434 1404.5 1441.9 1405 1428.7 1405.4 1436.1 1405.9 1442.3 1406.4 1426.7 1406.9 1428.6 1407.4 1440.3 1407.9 1424.6 1408.4 1437.7 1408.9 1437.8 1409.4 1433.9 1409.9 1441.7 1410.4 1438.9 1410.9 1436.4 1411.4 1421.4 1411.9 1421.6 1412.4 1437.3 1412.9 1420.7 1413.4 1435.4 1413.9 1431.6 1414.4 1427.1 1414.9 1432.4 1415.4 1413.5 1415.9 1432.8 1416.4 1445.6 1416.8 1423.4 1417.3 1438.7 1417.8 1437.7 1418.3 1461.5 1418.8 1426.1 1419.3 1427.7 1419.8 1427.9 1420.3 1426.3 1420.8 1420 1421.3 1435.4 1421.8 1426.7 1422.3 1441.6 1422.8 1438.1 1423.3 1425.7 1423.8 1431.5 1424.3 1446.8 1424.8 1431.8 1425.3 1436.6 1425.8 1442.2 1426.3 1431.2 1426.8 1438.6 1427.3 1448.9 1427.7 1444.8 1428.2 1419.4 1428.7 1448.4 1429.2 1433 1429.7 1429.6 1430.2 1429.4 1430.7 1445.8 1431.2 1437.8 1431.7 1433.8 1432.2 1428 1432.7 1440.7 1433.2 1445.2 1433.7 1426.2 1434.2 1425.3 1434.7 1431.7 1435.2 1440.4 1435.7 1431.4 1436.2 1434 1436.7 1427.6 1437.2 1446 1437.7 1434 1438.2 1436.4 1438.6 1444.7 1439.1 1433.1 1439.6 1434.7 1440.1 1438.6 1440.6 1431.5 1441.1 1447.4 1441.6 1435.5 1442.1 1431.2 1442.6 1432.5 1443.1 1425.6 1443.6 1445.5 1444.1 1448.2 1444.6 1432.9 1445.1 1431 1445.6 1416.4 1446.1 1429.6 1446.6 1442.6 1447.1 1427.9 1447.6 1442.4 1448.1 1448 1448.6 1412.2 1449.1 1432.2 1449.6 1428.7 1450 1430.1 1450.5 1419.2 1451 1432.5 1451.5 1424.4 1452 1444 1452.5 1447.2 1453 1422.5 1453.5 1422.1 1454 1430.5 1454.5 1433 1455 1433.5 1455.5 1441 1456 1421.6 1456.5 1429.3 1457 1430.6 1457.5 1431.7 1458 1425.9 1458.5 1430.6 1459 1428.5 1459.5 1445.2 1460 1430.6 1460.5 1415.9 1460.9 1439.5 1461.4 1436.1 1461.9 1427.2 1462.4 1426.7 1462.9 1429.6 1463.4 1449.1 1463.9 1430.6 1464.4 1445.3 1464.9 1442.2 1465.4 1430.2 1465.9 1437.6 1466.4 1428 1466.9 1407.6 1467.4 1428.2 1467.9 1428.7 1468.4 1442.8 1468.9 1440.6 1469.4 1444.2 1469.9 1439.6 1470.4 1444.5 1470.9 1440.7 1471.4 1436.8 1471.9 1443.7 1472.3 1447.3 1472.8 1446.8 1473.3 1431.1 1473.8 1434.5 1474.3 1426.1 1474.8 1425.9 1475.3 1438 1475.8 1429.2 1476.3 1447.5 1476.8 1415.2 1477.3 1424.6 1477.8 1436.9 1478.3 1445.1 1478.8 1431.7 1479.3 1451.2 1479.8 1441.7 1480.3 1428.5 1480.8 1434.3 1481.3 1439.2 1481.8 1426.8 1482.3 1444 1482.8 1432.5 1483.2 1439.3 1483.7 1442.3 1484.2 1431 1484.7 1443.6 1485.2 1418.6 1485.7 1440 1486.2 1417.8 1486.7 1444.4 1487.2 1429.8 1487.7 1445.3 1488.2 1446.6 1488.7 1433.6 1489.2 1429.2 1489.7 1446 1490.2 1424.8 1490.7 1441.9 1491.2 1433.9 1491.7 1431.7 1492.2 1429.9 1492.7 1450.5 1493.2 1421.1 1493.7 1430.2 1494.2 1438.7 1494.6 1443.8 1495.1 1449.6 1495.6 1446.7 1496.1 1430.3 1496.6 1437.9 1497.1 1444.7 1497.6 1439.5 1498.1 1421.6 1498.6 1437.8 1499.1 1440 1499.6 1423.4 1500.1 1431 1500.6 1434.6 1501.1 1440.2 1501.6 1448.3 1502.1 1445 1502.6 1439.1 1503.1 1436.9 1503.6 1431.9 1504.1 1430.3 1504.6 1433.1 1505.1 1433.1 1505.5 1443.6 1506 1453.4 1506.5 1439.5 1507 1443.2 1507.5 1440.6 1508 1437.3 1508.5 1445.6 1509 1444.5 1509.5 1435.9 1510 1434 1510.5 1440.6 1511 1430.7 1511.5 1436.9 1512 1443.7 1512.5 1434.7 1513 1418.9 1513.5 1440.8 1514 1425 1514.5 1423.2 1515 1422.2 1515.5 1442 1516 1417.8 1516.5 1434 1516.9 1437.2 1517.4 1437 1517.9 1429.9 1518.4 1434.6 1518.9 1436.5 1519.4 1424.1 1519.9 1441.2 1520.4 1443.9 1520.9 1428.2 1521.4 1429 1521.9 1425.7 1522.4 1444.1 1522.9 1425.8 1523.4 1430.9 1523.9 1420 1524.4 1445.6 1524.9 1433.1 1525.4 1437.4 1525.9 1448.5 1526.4 1441.1 1526.9 1425.4 1527.4 1439 1527.8 1441.1 1528.3 1427.6 1528.8 1426.6 1529.3 1426.6 1529.8 1441.7 1530.3 1435.5 1530.8 1426.3 1531.3 1440.6 1531.8 1441.4 1532.3 1428 1532.8 1421.8 1533.3 1444.8 1533.8 1457 1534.3 1447.3 1534.8 1443.6 1535.3 1436.2 1535.8 1429.8 1536.3 1436.2 1536.8 1440.9 1537.3 1433.7 1537.8 1443.1 1538.3 1435.4 1538.8 1440.4 1539.2 1412.3 1539.7 1428.1 1540.2 1442.1 1540.7 1443.4 1541.2 1438.7 1541.7 1448.9 1542.2 1441.2 1542.7 1441.2 1543.2 1427.5 1543.7 1438.6 1544.2 1441.7 1544.7 1446.3 1545.2 1444.9 1545.7 1435.6 1546.2 1436.8 1546.7 1425.4 1547.2 1440.3 1547.7 1426.1 1548.2 1432.8 1548.7 1435 1549.2 1451.9 1549.7 1445.9 1550.1 1428.8 1550.6 1423.2 1551.1 1433.3 1551.6 1428.6 1552.1 1438.4 1552.6 1438.1 1553.1 1440.6 1553.6 1426.8 1554.1 1432.1 1554.6 1437 1555.1 1437.8 1555.6 1430.3 1556.1 1432.3 1556.6 1442 1557.1 1420.6 1557.6 1432.8 1558.1 1434.9 1558.6 1422.6 1559.1 1426.4 1559.6 1435.7 1560.1 1430.5 1560.6 1444 1561.1 1440.4 1561.5 1454 1562 1424.8 1562.5 1450.9 1563 1429.3 1563.5 1442 1564 1443.2 1564.5 1436.6 1565 1432.8 1565.5 1429.9 1566 1420.2 1566.5 1432 1567 1427.6 1567.5 1440 1568 1429 1568.5 1433.7 1569 1438.9 1569.5 1435.8 1570 1435.5 1570.5 1433.4 1571 1431.6 1571.5 1439.3 1572 1441.2 1572.4 1428.7 1572.9 1449.2 1573.4 1440.2 1573.9 1422 1574.4 1457.6 1574.9 1440.8 1575.4 1429.3 1575.9 1448.8 1576.4 1413.3 1576.9 1456.6 1577.4 1423 1577.9 1422 1578.4 1427.3 1578.9 1436.8 1579.4 1432 1579.9 1442.5 1580.4 1428.2 1580.9 1444.3 1581.4 1437.3 1581.9 1426.7 1582.4 1444.3 1582.9 1438 1583.4 1433.6 1583.8 1446.2 1584.3 1425.3 1584.8 1432.2 1585.3 1447.6 1585.8 1435.4 1586.3 1441.5 1586.8 1440.5 1587.3 1434.4 1587.8 1440.9 1588.3 1427 1588.8 1440.9 1589.3 1426.8 1589.8 1435.4 1590.3 1427.9 1590.8 1439.5 1591.3 1439.2 1591.8 1444.6 1592.3 1430.2 1592.8 1427.2 1593.3 1417.4 1593.8 1424.3 1594.3 1432.9 1594.7 1436.8 1595.2 1431.8 1595.7 1435.2 1596.2 1422.8 1596.7 1427.1 1597.2 1442 1597.7 1440.7 1598.2 1423.6 1598.7 1432.4 1599.2 1436.9 1599.7 1425.1 1600.2 1438.2 1600.7 1437.3 1601.2 1438.8 1601.7 1451.3 1602.2 1427.8 1602.7 1445.1 1603.2 1439.7 1603.7 1441.2 1604.2 1429 1604.7 1435.6 1605.2 1434.9 1605.7 1449 1606.1 1435.7 1606.6 1447.3 1607.1 1432.4 1607.6 1432 1608.1 1435.1 1608.6 1418 1609.1 1430.6 1609.6 1430.1 1610.1 1433.8 1610.6 1436.6 1611.1 1427 1611.6 1425.9 1612.1 1445.8 1612.6 1426.2 1613.1 1430.7 1613.6 1427 1614.1 1431.1 1614.6 1445.3 1615.1 1444.7 1615.6 1419.9 1616.1 1432.9 1616.6 1446.8 1617 1432.1 1617.5 1438 1618 1450.3 1618.5 1454 1619 1448.3 1619.5 1432.7 1620 1435.4 1620.5 1437.1 1621 1432.6 1621.5 1430 1622 1452.4 1622.5 1437.5 1623 1441.9 1623.5 1445.2 1624 1439.5 1624.5 1436 1625 1437.2 1625.5 1447.1 1626 1439 1626.5 1418.3 1627 1443.7 1627.5 1449 1628 1432.7 1628.4 1430.1 1628.9 1431.2 1629.4 1444.3 1629.9 1426.7 1630.4 1441.5 1630.9 1444.4 1631.4 1440 1631.9 1435.9 1632.4 1429.1 1632.9 1429.8 1633.4 1435.2 1633.9 1427.3 1634.4 1434.3 1634.9 1427.6 1635.4 1446.6 1635.9 1448.1 1636.4 1428.6 1636.9 1446.5 1637.4 1437.5 1637.9 1435.8 1638.4 1439 1638.9 1438.8 1639.3 1423.5 1639.8 1456 1640.3 1427.7 1640.8 1416 1641.3 1434.8 1641.8 1435.2 1642.3 1429 1642.8 1419.8 1643.3 1444.9 1643.8 1434.3 1644.3 1436.5 1644.8 1430.4 1645.3 1433.7 1645.8 1429.5 1646.3 1438.5 1646.8 1434.6 1647.3 1440.6 1647.8 1440.5 1648.3 1436.2 1648.8 1436.2 1649.3 1444.7 1649.8 1422 1650.2 1436.1 1650.7 1446.5 1651.2 1425.9 1651.7 1441.2 1652.2 1430.8 1652.7 1435.1 1653.2 1432.9 1653.7 1433.6 1654.2 1439.8 1654.7 1434.7 1655.2 1418.1 1655.7 1453.6 1656.2 1434.5 1656.7 1431.4 1657.2 1443.8 1657.7 1446.4 1658.2 1417 1658.7 1438.1 1659.2 1417.7 1659.7 1430.5 1660.2 1434.4 1660.7 1431 1661.2 1429.7 1661.6 1425.2 1662.1 1431.4 1662.6 1433.8 1663.1 1433.5 1663.6 1423.7 1664.1 1428.2 1664.6 1443.3 1665.1 1440.3 1665.6 1432.2 1666.1 1440.2 1666.6 1438.1 1667.1 1443 1667.6 1437.2 1668.1 1431.5 1668.6 1426.7 1669.1 1434.9 1669.6 1417.7 1670.1 1435.6 1670.6 1408.3 1671.1 1426.6 1671.6 1430.9 1672.1 1439.2 1672.5 1458.6 1673 1436.3 1673.5 1433.5 1674 1418.9 1674.5 1446.5 1675 1419.1 1675.5 1437.1 1676 1428.9 1676.5 1456.2 1677 1433.8 1677.5 1437.9 1678 1429.3 1678.5 1434.2 1679 1444.6 1679.5 1427.1 1680 1429.2 1680.5 1430 1681 1426.5 1681.5 1425.8 1682 1435.2 1682.5 1446.4 1683 1446.6 1683.5 1423.7 1683.9 1429 1684.4 1434.1 1684.9 1438.6 1685.4 1434.7 1685.9 1434.8 1686.4 1437.8 1686.9 1440.9 1687.4 1416.8 1687.9 1433.1 1688.4 1440.1 1688.9 1445.9 1689.4 1441.1 1689.9 1428.9 1690.4 1428.6 1690.9 1436.8 1691.4 1434.6 1691.9 1437.6 1692.4 1444.3 1692.9 1424 1693.4 1431.9 1693.9 1414.1 1694.4 1441.4 1694.8 1436.2 1695.3 1427.6 1695.8 1437.1 1696.3 1446.7 1696.8 1443 1697.3 1434.1 1697.8 1432.1 1698.3 1435.8 1698.8 1426.5 1699.3 1426.6 1699.8 1432.3 1700.3 1434.8 1700.8 1437.1 1701.3 1430.3 1701.8 1427.2 1702.3 1434.5 1702.8 1431.2 1703.3 1437.8 1703.8 1447 1704.3 1443.5 1704.8 1428.5 1705.3 1431.2 1705.8 1421.5 1706.2 1434.5 1706.7 1427.6 1707.2 1423.7 1707.7 1426.5 1708.2 1440.2 1708.7 1436.6 1709.2 1433.9 1709.7 1443.4 1710.2 1431 1710.7 1426.3 1711.2 1439.1 1711.7 1418.2 1712.2 1437.5 1712.7 1436.7 1713.2 1437 1713.7 1441.1 1714.2 1431.4 1714.7 1434.8 1715.2 1420.8 1715.7 1429.8 1716.2 1430.4 1716.7 1436.9 1717.1 1447.1 1717.6 1435.8 1718.1 1442.3 1718.6 1426.8 1719.1 1435.3 1719.6 1420.7 1720.1 1428.7 1720.6 1427.8 1721.1 1433 1721.6 1433.2 1722.1 1429.4 1722.6 1427 1723.1 1441.1 1723.6 1430.7 1724.1 1412.4 1724.6 1435.8 1725.1 1437.2 1725.6 1441 1726.1 1447.5 1726.6 1424.7 1727.1 1434.5 1727.6 1432.4 1728.1 1419 1728.5 1413.2 1729 1442.7 1729.5 1425.8 1730 1429.6 1730.5 1431.5 1731 1430.8 1731.5 1435.2 1732 1421.2 1732.5 1429.6 1733 1432 1733.5 1424.1 1734 1427.2 1734.5 1431 1735 1432.1 1735.5 1419.6 1736 1430.5 1736.5 1435.8 1737 1442.5 1737.5 1438 1738 1444.2 1738.5 1434 1739 1432.7 1739.4 1452.9 1739.9 1434.8 1740.4 1429.3 1740.9 1433.5 1741.4 1443.4 1741.9 1423.8 1742.4 1441.1 1742.9 1445.8 1743.4 1444.5 1743.9 1435.1 1744.4 1426.3 1744.9 1424.7 1745.4 1433.1 1745.9 1445.5 1746.4 1440.8 1746.9 1442.9 1747.4 1436.6 1747.9 1450.7 1748.4 1434 1748.9 1429.3 1749.4 1436.3 1749.9 1430.9 1750.4 1443.3 1750.8 1447.9 1751.3 1440.6 1751.8 1424.7 1752.3 1425.8 1752.8 1439.1 1753.3 1424.3 1753.8 1437.9 1754.3 1421.5 1754.8 1430.7 1755.3 1439 1755.8 1427.9 1756.3 1441.9 1756.8 1443.4 1757.3 1448 1757.8 1432.7 1758.3 1435.5 1758.8 1435.7 1759.3 1438.7 1759.8 1422.1 1760.3 1438.8 1760.8 1441.5 1761.3 1423.8 1761.7 1422.2 1762.2 1432 1762.7 1450.7 1763.2 1440.4 1763.7 1429.5 1764.2 1434.8 1764.7 1421 1765.2 1447.3 1765.7 1428.9 1766.2 1440.7 1766.7 1423 1767.2 1435.7 1767.7 1425.7 1768.2 1440.9 1768.7 1447.8 1769.2 1445.1 1769.7 1440.5 1770.2 1444.3 1770.7 1424.1 1771.2 1422.8 1771.7 1432.5 1772.2 1444.4 1772.7 1436.1 1773.1 1441.2 1773.6 1421.8 1774.1 1432.1 1774.6 1430.5 1775.1 1438.6 1775.6 1453.4 1776.1 1442 1776.6 1445.2 1777.1 1431.6 1777.6 1434.1 1778.1 1442.3 1778.6 1438.6 1779.1 1420.6 1779.6 1443.8 1780.1 1443.4 1780.6 1437.1 1781.1 1441.4 1781.6 1438.9 1782.1 1430.1 1782.6 1419.1 1783.1 1451.4 1783.6 1435.2 1784 1434.6 1784.5 1435.8 1785 1436.7 1785.5 1438.1 1786 1425.7 1786.5 1439.3 1787 1436.2 1787.5 1435 1788 1434 1788.5 1436.6 1789 1425.7 1789.5 1435.1 1790 1433.4 1790.5 1435.5 1791 1444.3 1791.5 1442.7 1792 1444.8 1792.5 1433.2 1793 1441.6 1793.5 1444.9 1794 1432.8 1794.5 1430.1 1795 1451.4 1795.4 1419.3 1795.9 1434.7 1796.4 1436 1796.9 1425 1797.4 1434.3 1797.9 1440.6 1798.4 1414.5 1798.9 1445.1 1799.4 1435.9 1799.9 1427.1 1800.4 1445 1800.9 1436 1801.4 1431.4 1801.9 1412.5 1802.4 1443.4 1802.9 1435.4 1803.4 1428.8 1803.9 1434.2 1804.4 1446.3 1804.9 1431.1 1805.4 1433.9 1805.9 1430.7 1806.3 1424.2 1806.8 1425.3 1807.3 1431 1807.8 1431.9 1808.3 1445.2 1808.8 1436.1 1809.3 1432.7 1809.8 1438.6 1810.3 1433.8 1810.8 1442.5 1811.3 1420.2 1811.8 1414.3 1812.3 1438.3 1812.8 1430.8 1813.3 1436.8 1813.8 1422.6 1814.3 1430.4 1814.8 1433.8 1815.3 1436.6 1815.8 1433.2 1816.3 1443.9 1816.8 1427.9 1817.3 1441.1 1817.7 1429.2 1818.2 1433 1818.7 1423.8 1819.2 1434.4 1819.7 1424.4 1820.2 1442.9 1820.7 1428.3 1821.2 1436.2 1821.7 1432.1 1822.2 1433.3 1822.7 1425 1823.2 1453.2 1823.7 1430.7 1824.2 1448.1 1824.7 1422.2 1825.2 1452.6 1825.7 1443.3 1826.2 1449.7 1826.7 1417.8 1827.2 1445.9 1827.7 1432.4 1828.2 1438.6 1828.6 1450.7 1829.1 1436.6 1829.6 1426.9 1830.1 1435 1830.6 1424.1 1831.1 1436.6 1831.6 1433 1832.1 1436.7 1832.6 1429.7 1833.1 1414.6 1833.6 1429.4 1834.1 1431 1834.6 1438.7 1835.1 1440 1835.6 1418.6 1836.1 1443.4 1836.6 1441.4 1837.1 1433.5 1837.6 1436.6 1838.1 1413.5 1838.6 1455.2 1839.1 1428.8 1839.5 1425.4 1840 1443 1840.5 1438.4 1841 1427.9 1841.5 1416.3 1842 1440.9 1842.5 1447.2 1843 1422.5 1843.5 1417.1 1844 1435 1844.5 1453.2 1845 1417.6 1845.5 1433.6 1846 1420.7 1846.5 1431.9 1847 1435.1 1847.5 1435.8 1848 1417.1 1848.5 1417.4 1849 1452 1849.5 1440.3 1850 1413.9 1850.5 1434.7 1850.9 1444.3 1851.4 1431 1851.9 1432 1852.4 1431.9 1852.9 1435.5 1853.4 1433.8 1853.9 1435.2 1854.4 1427.5 1854.9 1438.6 1855.4 1433.4 1855.9 1432 1856.4 1417.8 1856.9 1426.8 1857.4 1431.5 1857.9 1425.2 1858.4 1426.4 1858.9 1419.7 1859.4 1425.3 1859.9 1412.7 1860.4 1417.1 1860.9 1430.5 1861.4 1434.1 1861.8 1421.4 1862.3 1425 1862.8 1430.9 1863.3 1444.3 1863.8 1447.7 1864.3 1426.4 1864.8 1422.3 1865.3 1421.9 1865.8 1442.3 1866.3 1419.6 1866.8 1434.9 1867.3 1425.8 1867.8 1425.5 1868.3 1437.4 1868.8 1435.3 1869.3 1449.7 1869.8 1438.4 1870.3 1447 1870.8 1425.1 1871.3 1428.8 1871.8 1420.4 1872.3 1425.8 1872.8 1435.5 1873.2 1425.9 1873.7 1433.1 1874.2 1423.3 1874.7 1426.1 1875.2 1438.8 1875.7 1429.1 1876.2 1428.6 1876.7 1432.1 1877.2 1420.4 1877.7 1412.4 1878.2 1432.7 1878.7 1432.5 1879.2 1451 1879.7 1430.3 1880.2 1433.3 1880.7 1450.1 1881.2 1426.2 1881.7 1423.2 1882.2 1436.2 1882.7 1432.6 1883.2 1438.4 1883.7 1421.6 1884.1 1443.8 1884.6 1432.1 1885.1 1410 1885.6 1428.5 1886.1 1424.4 1886.6 1430.4 1887.1 1440.4 1887.6 1429.3 1888.1 1425 1888.6 1439 1889.1 1425.7 1889.6 1416.9 1890.1 1418.6 1890.6 1444.4 1891.1 1438.5 1891.6 1444.7 1892.1 1418.6 1892.6 1423.1 1893.1 1422.2 1893.6 1437.5 1894.1 1440.3 1894.6 1428.3 1895.1 1428 1895.5 1437.3 1896 1427.6 1896.5 1422.8 1897 1426.8 1897.5 1439.1 1898 1449.5 1898.5 1431.5 1899 1427.4 1899.5 1431.5 1900 1433.1 1900.5 1435.7 1901 1422.1 1901.5 1429.5 1902 1427.8 1902.5 1438.4 1903 1435 1903.5 1427.4 1904 1438.7 1904.5 1441.1 1905 1432.2 1905.5 1417.4 1906 1427.2 1906.4 1414.9 1906.9 1430.3 1907.4 1432 1907.9 1442.4 1908.4 1434.5 1908.9 1415.2 1909.4 1425.9 1909.9 1422 1910.4 1422.2 1910.9 1429.1 1911.4 1431 1911.9 1427.9 1912.4 1422.6 1912.9 1424.6 1913.4 1424.3 1913.9 1427.5 1914.4 1436.4 1914.9 1431.5 1915.4 1438 1915.9 1419.4 1916.4 1449.1 1916.9 1431.1 1917.4 1406.2 1917.8 1432.3 1918.3 1439.8 1918.8 1429.2 1919.3 1416.7 1919.8 1430.5 1920.3 1423.2 1920.8 1428 1921.3 1432.6 1921.8 1399 1922.3 1428.3 1922.8 1434.1 1923.3 1433.7 1923.8 1425.4 1924.3 1425.1 1924.8 1421.7 1925.3 1427.7 1925.8 1442.6 1926.3 1424 1926.8 1431.9 1927.3 1431.7 1927.8 1443 1928.3 1434.4 1928.7 1435.9 1929.2 1429.3 1929.7 1442.7 1930.2 1428.5 1930.7 1427.8 1931.2 1439.5 1931.7 1434.9 1932.2 1437.1 1932.7 1420.5 1933.2 1452.8 1933.7 1432.2 1934.2 1444.6 1934.7 1433 1935.2 1421.1 1935.7 1434.9 1936.2 1427.7 1936.7 1436.9 1937.2 1410.9 1937.7 1420.5 1938.2 1418.5 1938.7 1441.4 1939.2 1439.3 1939.7 1418.9 1940.1 1430.8 1940.6 1431.4 1941.1 1425.9 1941.6 1440.7 1942.1 1421.8 1942.6 1428.8 1943.1 1424.6 1943.6 1435.2 1944.1 1424.3 1944.6 1435.5 1945.1 1420.2 1945.6 1418.6 1946.1 1420.6 1946.6 1424.2 1947.1 1423.2 1947.6 1453.9 1948.1 1421.3 1948.6 1431.5 1949.1 1428.1 1949.6 1431.6 1950.1 1441.8 1950.6 1433.9 1951 1423 1951.5 1416 1952 1434.7 1952.5 1437.3 1953 1415.7 1953.5 1437.1 1954 1410.1 1954.5 1428.5 1955 1437.1 1955.5 1420 1956 1413.6 1956.5 1442.1 1957 1414.8 1957.5 1431.6 1958 1415.5 1958.5 1432.5 1959 1443.3 1959.5 1424.4 1960 1420.6 1960.5 1410 1961 1413.4 1961.5 1422.7 1962 1431.1 1962.4 1433.7 1962.9 1431.7 1963.4 1436.5 1963.9 1431.5 1964.4 1451.9 1964.9 1427.4 1965.4 1429.3 1965.9 1405.9 1966.4 1422.2 1966.9 1433.3 1967.4 1423.9 1967.9 1440 1968.4 1434.4 1968.9 1445.7 1969.4 1416.1 1969.9 1423.7 1970.4 1439.5 1970.9 1429.5 1971.4 1420.5 1971.9 1424.6 1972.4 1425.6 1972.9 1436.7 1973.3 1434.7 1973.8 1428.2 1974.3 1420.8 1974.8 1436.4 1975.3 1439 1975.8 1418.8 1976.3 1437.3 1976.8 1419.4 1977.3 1426.8 1977.8 1421.2 1978.3 1413.5 1978.8 1422.9 1979.3 1422.1 1979.8 1437.1 1980.3 1435.1 1980.8 1423.3 1981.3 1415.4 1981.8 1416.7 1982.3 1408.6 1982.8 1426.3 1983.3 1427.2 1983.8 1420.1 1984.3 1428.8 1984.7 1429.6 1985.2 1438.2 1985.7 1420.3 1986.2 1438.4 1986.7 1424.5 1987.2 1441.5 1987.7 1419.4 1988.2 1438.1 1988.7 1421.7 1989.2 1443 1989.7 1433 1990.2 1418.8 1990.7 1436.2 1991.2 1428.6 1991.7 1433.4 1992.2 1449.4 1992.7 1426.6 1993.2 1425.5 1993.7 1439 1994.2 1424.4 1994.7 1436.4 1995.2 1438.2 1995.6 1429.4 1996.1 1435.5 1996.6 1409.6 1997.1 1443.2 1997.6 1423.2 1998.1 1421.1 1998.6 1447 1999.1 1444.9 1999.6 1425 2000.1 1434.1 2000.6 1426.6 2001.1 1420.1 2001.6 1433.3 2002.1 1439.3 2002.6 1453.8 2003.1 1428.4 2003.6 1438.3 2004.1 1427.6 2004.6 1428.4 2005.1 1442.4 2005.6 1415.6 2006.1 1421.2 2006.6 1423.3 2007 1440.9 2007.5 1434.3 2008 1435.5 2008.5 1434.4 2009 1440.6 2009.5 1427.3 2010 1429.1 2010.5 1428 2011 1435.5 2011.5 1420.2 2012 1429.7 2012.5 1454.9 2013 1437 2013.5 1432 2014 1423.3 2014.5 1434.2 2015 1433.9 2015.5 1437.5 2016 1426.2 2016.5 1435.8 2017 1437.2 2017.5 1438.4 2017.9 1427.4 2018.4 1436.8 2018.9 1446.6 2019.4 1427 2019.9 1438.4 2020.4 1429.4 2020.9 1429.3 2021.4 1422.3 2021.9 1423.7 2022.4 1437.6 2022.9 1434.2 2023.4 1443.9 2023.9 1418.6 2024.4 1429.2 2024.9 1421.2 2025.4 1435.8 2025.9 1450.6 2026.4 1420.2 2026.9 1432.5 2027.4 1432.2 2027.9 1433 2028.4 1428 2028.8 1429 2029.3 1447.1 2029.8 1424.4 2030.3 1438.2 2030.8 1437.7 2031.3 1419.2 2031.8 1426.1 2032.3 1436.8 2032.8 1449.8 2033.3 1432.7 2033.8 1429.5 2034.3 1434.8 2034.8 1444.8 2035.3 1440.9 2035.8 1444.9 2036.3 1432.5 2036.8 1427.4 2037.3 1425.7 2037.8 1440.7 2038.3 1432.5 2038.8 1429.8 2039.3 1438.9 2039.8 1435.9 2040.2 1416.7 2040.7 1432.9 2041.2 1427.2 2041.7 1438.4 2042.2 1434.4 2042.7 1449.3 2043.2 1435 2043.7 1424.8 2044.2 1417.1 2044.7 1424.8 2045.2 1429.1 2045.7 1434.5 2046.2 1440 2046.7 1436.3 2047.2 1429.8 2047.7 1441.6 2048.2 1427.1 2048.7 1443.3 2049.2 1450 2049.7 1443.5 2050.2 1449 2050.7 1446.6 2051.1 1425.5 2051.6 1436.7 2052.1 1433.2 2052.6 1425.2 2053.1 1424.4 2053.6 1439.3 2054.1 1423.8 2054.6 1431.8 2055.1 1435 2055.6 1431.3 2056.1 1447 2056.6 1441.6 2057.1 1435.9 2057.6 1429.9 2058.1 1438.1 2058.6 1436.1 2059.1 1426.8 2059.6 1423.1 2060.1 1428.6 2060.6 1424.3 2061.1 1438.4 2061.6 1437.6 2062.1 1432.3 2062.5 1437.5 2063 1439.3 2063.5 1421.1 2064 1436.7 2064.5 1443.1 2065 1430.9 2065.5 1419.6 2066 1434.3 2066.5 1424.7 2067 1438.7 2067.5 1439.1 2068 1440.8 2068.5 1436.2 2069 1419.6 2069.5 1444.7 2070 1421.3 2070.5 1443.5 2071 1437 2071.5 1428 2072 1429.7 2072.5 1432.6 2073 1448.8 2073.4 1432 2073.9 1443.6 2074.4 1413.5 2074.9 1436.8 2075.4 1433.4 2075.9 1444.6 2076.4 1439 2076.9 1445.8 2077.4 1426.8 2077.9 1437.2 2078.4 1430.3 2078.9 1440.7 2079.4 1439.2 2079.9 1424.2 2080.4 1443.1 2080.9 1450.1 2081.4 1431.6 2081.9 1444.5 2082.4 1438.7 2082.9 1427.4 2083.4 1441.8 2083.9 1427.7 2084.4 1440.7 2084.8 1422.5 2085.3 1423.9 2085.8 1438.9 2086.3 1436.8 2086.8 1442 2087.3 1433.3 2087.8 1425.4 2088.3 1447.1 2088.8 1427.3 2089.3 1446.1 2089.8 1442.2 2090.3 1449.9 2090.8 1417.4 2091.3 1434.5 2091.8 1433 2092.3 1440.6 2092.8 1426.1 2093.3 1452.6 2093.8 1434.8 2094.3 1416.6 2094.8 1438.2 2095.3 1434.9 2095.7 1429.4 2096.2 1441.8 2096.7 1434.8 2097.2 1427 2097.7 1433.4 2098.2 1431.9 2098.7 1437.9 2099.2 1432.4 2099.7 1434.5 2100.2 1422.8 2100.7 1429 2101.2 1437 2101.7 1455.4 2102.2 1429 2102.7 1428.7 2103.2 1442.7 2103.7 1451.7 2104.2 1444.5 2104.7 1427.3 2105.2 1443.9 2105.7 1438.8 2106.2 1433.2 2106.7 1424.8 2107.1 1435.2 2107.6 1435.8 2108.1 1439.6 2108.6 1421.4 2109.1 1426.1 2109.6 1435.8 2110.1 1446.7 2110.6 1441.6 2111.1 1430.2 2111.6 1441 2112.1 1427.6 2112.6 1432 2113.1 1432.6 2113.6 1429.5 2114.1 1430.8 2114.6 1442.1 2115.1 1437.7 2115.6 1415.5 2116.1 1445.1 2116.6 1439 2117.1 1426.1 2117.6 1436.3 2118 1441.8 2118.5 1446 2119 1430.5 2119.5 1426.5 2120 1423.3 2120.5 1434.6 2121 1426.3 2121.5 1443.6 2122 1433.6 2122.5 1440.7 2123 1433.5 2123.5 1428.7" stroke="#0a78e0" stroke-width="1.9" fill="none" stroke-linejoin="round"/>
</g><g stroke="#00a01c" stroke-width="4"><line x1="509" y1="1237" x2="509" y2="1284"/><line x1="994.1" y1="1237" x2="994.1" y2="1284"/><line x1="1056.5" y1="1237" x2="1056.5" y2="1284"/><line x1="1168.4" y1="1237" x2="1168.4" y2="1284"/><line x1="1286.6" y1="1237" x2="1286.6" y2="1284"/><line x1="1443.3" y1="1237" x2="1443.3" y2="1284"/><line x1="1828.4" y1="1237" x2="1828.4" y2="1284"/><line x1="1884.5" y1="1237" x2="1884.5" y2="1284"/><line x1="1914.2" y1="1237" x2="1914.2" y2="1284"/><line x1="2020.7" y1="1237" x2="2020.7" y2="1284"/><line x1="2056.2" y1="1237" x2="2056.2" y2="1284"/></g>
<g stroke="#000" stroke-width="7"><line x1="141.3" y1="1614.2" x2="141.3" y2="1642.7"/><line x1="265.2" y1="1614.2" x2="265.2" y2="1629.7"/><line x1="389.1" y1="1614.2" x2="389.1" y2="1642.7"/><line x1="513" y1="1614.2" x2="513" y2="1629.7"/><line x1="636.9" y1="1614.2" x2="636.9" y2="1642.7"/><line x1="760.7" y1="1614.2" x2="760.7" y2="1629.7"/><line x1="884.6" y1="1614.2" x2="884.6" y2="1642.7"/><line x1="1008.5" y1="1614.2" x2="1008.5" y2="1629.7"/><line x1="1132.4" y1="1614.2" x2="1132.4" y2="1642.7"/><line x1="1256.3" y1="1614.2" x2="1256.3" y2="1629.7"/><line x1="1380.2" y1="1614.2" x2="1380.2" y2="1642.7"/><line x1="1504.1" y1="1614.2" x2="1504.1" y2="1629.7"/><line x1="1628" y1="1614.2" x2="1628" y2="1642.7"/><line x1="1751.8" y1="1614.2" x2="1751.8" y2="1629.7"/><line x1="1875.7" y1="1614.2" x2="1875.7" y2="1642.7"/><line x1="1999.6" y1="1614.2" x2="1999.6" y2="1629.7"/><line x1="2123.5" y1="1614.2" x2="2123.5" y2="1642.7"/></g>
<rect x="141.3" y="15.0" width="1982.2" height="1599.2" fill="none" stroke="#000" stroke-width="7"/>
<g class="tl"><text x="140.3" y="1719" text-anchor="middle">10</text><text x="392.1" y="1719" text-anchor="middle">20</text><text x="639.9" y="1719" text-anchor="middle">30</text><text x="887.6" y="1719" text-anchor="middle">40</text><text x="1135.4" y="1719" text-anchor="middle">50</text><text x="1383.2" y="1719" text-anchor="middle">60</text><text x="1631" y="1719" text-anchor="middle">70</text><text x="1878.7" y="1719" text-anchor="middle">80</text><text x="2126.5" y="1719" text-anchor="middle">90</text></g>
<text transform="translate(78,1071.5) rotate(-90)" font-weight="bold" font-size="90" textLength="506" lengthAdjust="spacingAndGlyphs">Intensity/a.u.</text>
<text id="xl" x="1035" y="1796.5" font-size="75" textLength="76" lengthAdjust="spacing">2θ</text>
<text id="xs" transform="translate(1112.5,1796.5) skewX(-14.7) scale(1.32,1)" font-size="75">/</text>
<text id="xp" x="1152.5" y="1796.5" font-size="75">(<tspan font-size="92" dx="-1" dy="8">º</tspan><tspan dy="-8" dx="0">)</tspan></text>
<g class="lg">
<text x="1607" y="185.5">χ<tspan dy="-29" dx="7" font-size="44">2</tspan><tspan dy="29" dx="-2.5">=1.048</tspan></text>
<text x="1607" y="269.5">R<tspan dy="19" font-size="44">p</tspan><tspan dy="-19">=6.49%</tspan></text>
<text x="1607" y="369">R<tspan dy="19.5" font-size="44">wp</tspan><tspan dy="-19.5">=9.05%</tspan></text>
<text x="1607" y="470">Observation</text>
<text x="1607" y="553.5">Difference</text>
<text x="1607" y="638.5">Calculated data</text>
<text x="1607" y="722.3">Bragg position</text>
</g>
<circle cx="1502.5" cy="444.7" r="5.5" fill="#fe0000"/>
<line x1="1435.5" y1="529" x2="1574.5" y2="529" stroke="#0a78e0" stroke-width="2"/>
<line x1="1435.5" y1="614" x2="1575" y2="614" stroke="#000" stroke-width="4"/>
<line x1="1505" y1="677" x2="1505" y2="719" stroke="#00a01c" stroke-width="4" stroke-linecap="round"/>
</svg>
</body></html>
